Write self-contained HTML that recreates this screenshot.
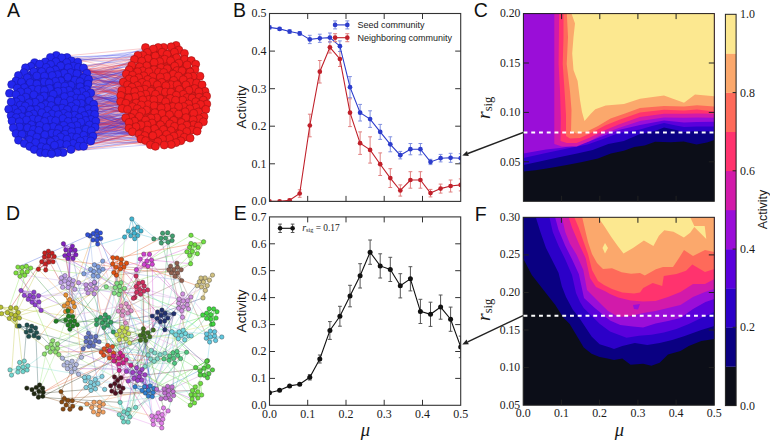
<!DOCTYPE html>
<html><head><meta charset="utf-8"><style>html,body{margin:0;padding:0;background:#fff;overflow:hidden}svg{display:block}</style></head>
<body><svg width="770" height="442" viewBox="0 0 770 442">
<rect width="770" height="442" fill="#fff"/>
<g><line x1="89.4" y1="100.7" x2="132.4" y2="131.8" stroke="#e83038" stroke-width="0.55" stroke-opacity="0.45"/><line x1="76.9" y1="73.6" x2="141.7" y2="61.0" stroke="#e83038" stroke-width="0.55" stroke-opacity="0.45"/><line x1="33.6" y1="113.9" x2="144.9" y2="89.2" stroke="#3038e8" stroke-width="0.55" stroke-opacity="0.45"/><line x1="14.3" y1="108.9" x2="177.1" y2="84.7" stroke="#e83038" stroke-width="0.55" stroke-opacity="0.45"/><line x1="34.3" y1="149.5" x2="141.6" y2="111.9" stroke="#e83038" stroke-width="0.55" stroke-opacity="0.45"/><line x1="18.4" y1="75.5" x2="159.2" y2="90.5" stroke="#3038e8" stroke-width="0.55" stroke-opacity="0.45"/><line x1="16.2" y1="117.6" x2="129.0" y2="128.2" stroke="#e83038" stroke-width="0.55" stroke-opacity="0.45"/><line x1="57.9" y1="91.4" x2="162.0" y2="52.2" stroke="#e83038" stroke-width="0.55" stroke-opacity="0.45"/><line x1="93.7" y1="104.2" x2="198.9" y2="91.7" stroke="#3038e8" stroke-width="0.55" stroke-opacity="0.45"/><line x1="38.6" y1="119.5" x2="186.0" y2="117.6" stroke="#3038e8" stroke-width="0.55" stroke-opacity="0.45"/><line x1="90.7" y1="93.0" x2="177.1" y2="84.7" stroke="#3038e8" stroke-width="0.55" stroke-opacity="0.45"/><line x1="25.2" y1="106.0" x2="152.8" y2="76.6" stroke="#e83038" stroke-width="0.55" stroke-opacity="0.45"/><line x1="20.5" y1="91.9" x2="142.9" y2="99.8" stroke="#e83038" stroke-width="0.55" stroke-opacity="0.45"/><line x1="63.7" y1="125.3" x2="161.1" y2="107.8" stroke="#e83038" stroke-width="0.55" stroke-opacity="0.45"/><line x1="38.4" y1="89.4" x2="188.5" y2="103.9" stroke="#3038e8" stroke-width="0.55" stroke-opacity="0.45"/><line x1="38.4" y1="89.4" x2="167.1" y2="54.3" stroke="#3038e8" stroke-width="0.55" stroke-opacity="0.45"/><line x1="68.8" y1="90.4" x2="137.5" y2="71.8" stroke="#e83038" stroke-width="0.55" stroke-opacity="0.45"/><line x1="64.4" y1="96.6" x2="123.3" y2="82.1" stroke="#e83038" stroke-width="0.55" stroke-opacity="0.45"/><line x1="16.0" y1="94.6" x2="131.0" y2="117.4" stroke="#3038e8" stroke-width="0.55" stroke-opacity="0.45"/><line x1="39.6" y1="64.1" x2="131.7" y2="65.4" stroke="#e83038" stroke-width="0.55" stroke-opacity="0.45"/><line x1="42.8" y1="141.6" x2="197.1" y2="131.2" stroke="#e83038" stroke-width="0.55" stroke-opacity="0.45"/><line x1="90.7" y1="93.0" x2="152.7" y2="81.8" stroke="#e83038" stroke-width="0.55" stroke-opacity="0.45"/><line x1="93.7" y1="104.2" x2="165.3" y2="92.0" stroke="#e83038" stroke-width="0.55" stroke-opacity="0.45"/><line x1="60.1" y1="143.6" x2="195.8" y2="107.3" stroke="#e83038" stroke-width="0.55" stroke-opacity="0.45"/><line x1="21.6" y1="116.7" x2="121.8" y2="90.4" stroke="#e83038" stroke-width="0.55" stroke-opacity="0.45"/><line x1="27.5" y1="127.8" x2="181.8" y2="127.8" stroke="#e83038" stroke-width="0.55" stroke-opacity="0.45"/><line x1="41.4" y1="146.8" x2="152.1" y2="123.0" stroke="#3038e8" stroke-width="0.55" stroke-opacity="0.45"/><line x1="33.6" y1="113.9" x2="205.0" y2="91.3" stroke="#e83038" stroke-width="0.55" stroke-opacity="0.45"/><line x1="55.3" y1="139.8" x2="163.5" y2="129.5" stroke="#3038e8" stroke-width="0.55" stroke-opacity="0.45"/><line x1="85.6" y1="140.0" x2="188.5" y2="103.9" stroke="#e83038" stroke-width="0.55" stroke-opacity="0.45"/><line x1="46.4" y1="127.4" x2="200.6" y2="104.4" stroke="#3038e8" stroke-width="0.55" stroke-opacity="0.45"/><line x1="9.5" y1="93.3" x2="161.0" y2="67.6" stroke="#3038e8" stroke-width="0.55" stroke-opacity="0.45"/><line x1="55.7" y1="120.7" x2="160.0" y2="98.7" stroke="#3038e8" stroke-width="0.55" stroke-opacity="0.45"/><line x1="46.6" y1="116.2" x2="142.9" y2="99.8" stroke="#e83038" stroke-width="0.55" stroke-opacity="0.45"/><line x1="20.2" y1="105.1" x2="171.2" y2="144.5" stroke="#3038e8" stroke-width="0.55" stroke-opacity="0.45"/><line x1="45.7" y1="104.6" x2="192.0" y2="98.0" stroke="#3038e8" stroke-width="0.55" stroke-opacity="0.45"/><line x1="75.6" y1="109.0" x2="127.5" y2="84.8" stroke="#e83038" stroke-width="0.55" stroke-opacity="0.45"/><line x1="35.6" y1="142.6" x2="169.5" y2="114.7" stroke="#3038e8" stroke-width="0.55" stroke-opacity="0.45"/><line x1="36.4" y1="109.5" x2="182.0" y2="70.8" stroke="#e83038" stroke-width="0.55" stroke-opacity="0.45"/><line x1="42.8" y1="141.6" x2="152.1" y2="123.0" stroke="#3038e8" stroke-width="0.55" stroke-opacity="0.45"/><line x1="83.7" y1="135.2" x2="192.0" y2="98.0" stroke="#3038e8" stroke-width="0.55" stroke-opacity="0.45"/><line x1="57.9" y1="91.4" x2="169.5" y2="114.7" stroke="#e83038" stroke-width="0.55" stroke-opacity="0.45"/><line x1="16.0" y1="133.6" x2="169.8" y2="123.9" stroke="#e83038" stroke-width="0.55" stroke-opacity="0.45"/><line x1="71.1" y1="95.1" x2="145.6" y2="120.1" stroke="#3038e8" stroke-width="0.55" stroke-opacity="0.45"/><line x1="71.0" y1="149.4" x2="154.6" y2="128.7" stroke="#e83038" stroke-width="0.55" stroke-opacity="0.45"/><line x1="76.8" y1="125.5" x2="187.0" y2="97.6" stroke="#3038e8" stroke-width="0.55" stroke-opacity="0.45"/><line x1="64.4" y1="96.6" x2="184.6" y2="59.3" stroke="#3038e8" stroke-width="0.55" stroke-opacity="0.45"/><line x1="34.6" y1="62.8" x2="134.4" y2="59.5" stroke="#e83038" stroke-width="0.55" stroke-opacity="0.45"/><line x1="57.8" y1="85.9" x2="203.3" y2="100.1" stroke="#3038e8" stroke-width="0.55" stroke-opacity="0.45"/><line x1="46.6" y1="116.2" x2="174.5" y2="126.3" stroke="#3038e8" stroke-width="0.55" stroke-opacity="0.45"/><line x1="91.3" y1="130.7" x2="183.8" y2="106.5" stroke="#3038e8" stroke-width="0.55" stroke-opacity="0.45"/><line x1="86.7" y1="73.3" x2="137.5" y2="71.8" stroke="#e83038" stroke-width="0.55" stroke-opacity="0.45"/><line x1="20.2" y1="105.1" x2="137.3" y2="85.5" stroke="#3038e8" stroke-width="0.55" stroke-opacity="0.45"/><line x1="80.9" y1="122.2" x2="165.7" y2="101.8" stroke="#e83038" stroke-width="0.55" stroke-opacity="0.45"/><line x1="29.1" y1="102.7" x2="193.5" y2="124.8" stroke="#3038e8" stroke-width="0.55" stroke-opacity="0.45"/><line x1="38.6" y1="119.5" x2="142.9" y2="99.8" stroke="#3038e8" stroke-width="0.55" stroke-opacity="0.45"/><line x1="41.8" y1="112.7" x2="176.3" y2="95.2" stroke="#e83038" stroke-width="0.55" stroke-opacity="0.45"/><line x1="16.0" y1="133.6" x2="203.4" y2="121.8" stroke="#3038e8" stroke-width="0.55" stroke-opacity="0.45"/><line x1="38.8" y1="130.4" x2="198.9" y2="91.7" stroke="#e83038" stroke-width="0.55" stroke-opacity="0.45"/><line x1="8.7" y1="109.2" x2="188.1" y2="76.8" stroke="#e83038" stroke-width="0.55" stroke-opacity="0.45"/><line x1="57.6" y1="74.6" x2="132.5" y2="75.1" stroke="#e83038" stroke-width="0.55" stroke-opacity="0.45"/><line x1="71.5" y1="60.9" x2="137.9" y2="55.4" stroke="#3038e8" stroke-width="0.55" stroke-opacity="0.45"/><line x1="60.1" y1="143.6" x2="200.6" y2="104.4" stroke="#e83038" stroke-width="0.55" stroke-opacity="0.45"/><line x1="36.8" y1="137.1" x2="125.9" y2="103.2" stroke="#3038e8" stroke-width="0.55" stroke-opacity="0.45"/><line x1="28.8" y1="115.4" x2="166.8" y2="107.5" stroke="#e83038" stroke-width="0.55" stroke-opacity="0.45"/><line x1="68.8" y1="90.4" x2="203.4" y2="121.8" stroke="#3038e8" stroke-width="0.55" stroke-opacity="0.45"/><line x1="60.8" y1="137.1" x2="160.0" y2="98.7" stroke="#3038e8" stroke-width="0.55" stroke-opacity="0.45"/><line x1="36.8" y1="137.1" x2="136.1" y2="102.9" stroke="#e83038" stroke-width="0.55" stroke-opacity="0.45"/><line x1="71.6" y1="136.8" x2="154.8" y2="112.7" stroke="#3038e8" stroke-width="0.55" stroke-opacity="0.45"/><line x1="30.6" y1="109.8" x2="165.7" y2="101.8" stroke="#e83038" stroke-width="0.55" stroke-opacity="0.45"/><line x1="11.7" y1="84.6" x2="139.4" y2="116.4" stroke="#e83038" stroke-width="0.55" stroke-opacity="0.45"/><line x1="63.7" y1="125.3" x2="128.1" y2="90.3" stroke="#e83038" stroke-width="0.55" stroke-opacity="0.45"/><line x1="58.9" y1="128.7" x2="166.6" y2="134.4" stroke="#e83038" stroke-width="0.55" stroke-opacity="0.45"/><line x1="52.0" y1="133.2" x2="155.4" y2="146.3" stroke="#e83038" stroke-width="0.55" stroke-opacity="0.45"/><line x1="46.6" y1="116.2" x2="141.3" y2="105.0" stroke="#3038e8" stroke-width="0.55" stroke-opacity="0.45"/><line x1="89.5" y1="124.9" x2="190.1" y2="138.1" stroke="#3038e8" stroke-width="0.55" stroke-opacity="0.45"/><line x1="71.0" y1="149.4" x2="169.8" y2="123.9" stroke="#3038e8" stroke-width="0.55" stroke-opacity="0.45"/><line x1="21.6" y1="116.7" x2="142.1" y2="82.4" stroke="#3038e8" stroke-width="0.55" stroke-opacity="0.45"/><line x1="46.2" y1="67.4" x2="150.8" y2="91.2" stroke="#3038e8" stroke-width="0.55" stroke-opacity="0.45"/><line x1="13.3" y1="127.8" x2="197.1" y2="131.2" stroke="#e83038" stroke-width="0.55" stroke-opacity="0.45"/><line x1="29.7" y1="146.4" x2="195.8" y2="107.3" stroke="#3038e8" stroke-width="0.55" stroke-opacity="0.45"/><line x1="51.2" y1="105.5" x2="178.6" y2="114.1" stroke="#3038e8" stroke-width="0.55" stroke-opacity="0.45"/><line x1="49.6" y1="88.4" x2="169.8" y2="123.9" stroke="#e83038" stroke-width="0.55" stroke-opacity="0.45"/><line x1="45.3" y1="61.9" x2="148.8" y2="71.8" stroke="#e83038" stroke-width="0.55" stroke-opacity="0.45"/><line x1="85.6" y1="140.0" x2="169.8" y2="123.9" stroke="#e83038" stroke-width="0.55" stroke-opacity="0.45"/><line x1="30.6" y1="109.8" x2="148.8" y2="71.8" stroke="#3038e8" stroke-width="0.55" stroke-opacity="0.45"/><line x1="70.7" y1="72.6" x2="134.7" y2="91.5" stroke="#e83038" stroke-width="0.55" stroke-opacity="0.45"/><line x1="64.9" y1="86.1" x2="173.7" y2="80.4" stroke="#3038e8" stroke-width="0.55" stroke-opacity="0.45"/><line x1="55.3" y1="139.8" x2="156.6" y2="117.8" stroke="#3038e8" stroke-width="0.55" stroke-opacity="0.45"/><line x1="55.7" y1="109.2" x2="136.0" y2="126.7" stroke="#e83038" stroke-width="0.55" stroke-opacity="0.45"/><line x1="73.2" y1="143.4" x2="169.8" y2="123.9" stroke="#3038e8" stroke-width="0.55" stroke-opacity="0.45"/><line x1="68.3" y1="67.6" x2="141.3" y2="105.0" stroke="#3038e8" stroke-width="0.55" stroke-opacity="0.45"/><line x1="29.1" y1="102.7" x2="195.8" y2="107.3" stroke="#3038e8" stroke-width="0.55" stroke-opacity="0.45"/><line x1="79.1" y1="117.5" x2="169.4" y2="138.6" stroke="#3038e8" stroke-width="0.55" stroke-opacity="0.45"/><line x1="35.6" y1="142.6" x2="173.7" y2="120.4" stroke="#e83038" stroke-width="0.55" stroke-opacity="0.45"/><line x1="30.6" y1="109.8" x2="193.7" y2="113.3" stroke="#3038e8" stroke-width="0.55" stroke-opacity="0.45"/><line x1="50.7" y1="141.7" x2="173.7" y2="120.4" stroke="#e83038" stroke-width="0.55" stroke-opacity="0.45"/><line x1="75.0" y1="80.2" x2="202.1" y2="84.8" stroke="#e83038" stroke-width="0.55" stroke-opacity="0.45"/><line x1="63.1" y1="152.5" x2="184.2" y2="137.2" stroke="#e83038" stroke-width="0.55" stroke-opacity="0.45"/><line x1="88.0" y1="84.1" x2="152.7" y2="81.8" stroke="#e83038" stroke-width="0.55" stroke-opacity="0.45"/><line x1="57.9" y1="91.4" x2="184.4" y2="53.4" stroke="#3038e8" stroke-width="0.55" stroke-opacity="0.45"/><line x1="50.6" y1="119.9" x2="193.2" y2="119.7" stroke="#e83038" stroke-width="0.55" stroke-opacity="0.45"/><line x1="80.3" y1="141.0" x2="173.7" y2="120.4" stroke="#3038e8" stroke-width="0.55" stroke-opacity="0.45"/><line x1="64.1" y1="73.2" x2="128.5" y2="97.9" stroke="#3038e8" stroke-width="0.55" stroke-opacity="0.45"/><line x1="25.8" y1="97.1" x2="146.7" y2="65.8" stroke="#e83038" stroke-width="0.55" stroke-opacity="0.45"/><line x1="66.8" y1="144.6" x2="179.6" y2="134.0" stroke="#3038e8" stroke-width="0.55" stroke-opacity="0.45"/><line x1="51.8" y1="114.0" x2="166.7" y2="76.6" stroke="#3038e8" stroke-width="0.55" stroke-opacity="0.45"/><line x1="50.6" y1="64.5" x2="196.6" y2="83.0" stroke="#3038e8" stroke-width="0.55" stroke-opacity="0.45"/><line x1="36.4" y1="109.5" x2="176.0" y2="142.6" stroke="#e83038" stroke-width="0.55" stroke-opacity="0.45"/><line x1="20.5" y1="91.9" x2="161.0" y2="67.6" stroke="#3038e8" stroke-width="0.55" stroke-opacity="0.45"/><line x1="18.5" y1="140.2" x2="173.7" y2="111.9" stroke="#e83038" stroke-width="0.55" stroke-opacity="0.45"/><line x1="21.6" y1="116.7" x2="132.0" y2="87.1" stroke="#3038e8" stroke-width="0.55" stroke-opacity="0.45"/><line x1="76.2" y1="103.5" x2="143.9" y2="75.8" stroke="#e83038" stroke-width="0.55" stroke-opacity="0.45"/><line x1="60.7" y1="65.9" x2="177.1" y2="84.7" stroke="#e83038" stroke-width="0.55" stroke-opacity="0.45"/><line x1="81.6" y1="110.7" x2="197.1" y2="131.2" stroke="#e83038" stroke-width="0.55" stroke-opacity="0.45"/><line x1="17.3" y1="88.1" x2="169.5" y2="114.7" stroke="#e83038" stroke-width="0.55" stroke-opacity="0.45"/><line x1="63.7" y1="113.3" x2="176.3" y2="95.2" stroke="#3038e8" stroke-width="0.55" stroke-opacity="0.45"/><line x1="70.7" y1="72.6" x2="205.0" y2="91.3" stroke="#3038e8" stroke-width="0.55" stroke-opacity="0.45"/><line x1="40.4" y1="152.6" x2="134.3" y2="113.3" stroke="#e83038" stroke-width="0.55" stroke-opacity="0.45"/><line x1="70.7" y1="72.6" x2="194.9" y2="69.6" stroke="#e83038" stroke-width="0.55" stroke-opacity="0.45"/><line x1="36.9" y1="83.9" x2="154.1" y2="105.7" stroke="#3038e8" stroke-width="0.55" stroke-opacity="0.45"/><line x1="90.7" y1="93.0" x2="174.7" y2="66.0" stroke="#3038e8" stroke-width="0.55" stroke-opacity="0.45"/><line x1="57.3" y1="152.6" x2="169.8" y2="123.9" stroke="#e83038" stroke-width="0.55" stroke-opacity="0.45"/><line x1="76.7" y1="137.4" x2="157.9" y2="141.7" stroke="#e83038" stroke-width="0.55" stroke-opacity="0.45"/><line x1="86.0" y1="95.3" x2="177.0" y2="70.6" stroke="#e83038" stroke-width="0.55" stroke-opacity="0.45"/><line x1="67.0" y1="57.5" x2="134.4" y2="59.5" stroke="#e83038" stroke-width="0.55" stroke-opacity="0.45"/><line x1="86.0" y1="95.3" x2="161.1" y2="107.8" stroke="#e83038" stroke-width="0.55" stroke-opacity="0.45"/><line x1="51.5" y1="153.8" x2="129.0" y2="122.4" stroke="#e83038" stroke-width="0.55" stroke-opacity="0.45"/><line x1="75.0" y1="80.2" x2="161.8" y2="82.4" stroke="#3038e8" stroke-width="0.55" stroke-opacity="0.45"/><line x1="80.3" y1="141.0" x2="190.1" y2="138.1" stroke="#3038e8" stroke-width="0.55" stroke-opacity="0.45"/><line x1="50.4" y1="57.4" x2="167.1" y2="54.3" stroke="#3038e8" stroke-width="0.55" stroke-opacity="0.45"/><line x1="38.8" y1="130.4" x2="120.6" y2="101.6" stroke="#e83038" stroke-width="0.55" stroke-opacity="0.45"/><line x1="58.9" y1="128.7" x2="153.8" y2="99.7" stroke="#e83038" stroke-width="0.55" stroke-opacity="0.45"/><line x1="8.7" y1="109.2" x2="129.1" y2="79.0" stroke="#e83038" stroke-width="0.55" stroke-opacity="0.45"/><line x1="27.6" y1="91.8" x2="152.7" y2="81.8" stroke="#e83038" stroke-width="0.55" stroke-opacity="0.45"/><line x1="17.6" y1="112.7" x2="139.1" y2="134.0" stroke="#3038e8" stroke-width="0.55" stroke-opacity="0.45"/><line x1="33.5" y1="129.5" x2="142.9" y2="99.8" stroke="#e83038" stroke-width="0.55" stroke-opacity="0.45"/><line x1="51.2" y1="105.5" x2="154.8" y2="112.7" stroke="#3038e8" stroke-width="0.55" stroke-opacity="0.45"/><line x1="71.6" y1="131.7" x2="163.5" y2="129.5" stroke="#e83038" stroke-width="0.55" stroke-opacity="0.45"/><line x1="80.9" y1="122.2" x2="196.6" y2="83.0" stroke="#e83038" stroke-width="0.55" stroke-opacity="0.45"/><line x1="26.4" y1="120.0" x2="128.5" y2="97.9" stroke="#3038e8" stroke-width="0.55" stroke-opacity="0.45"/><line x1="26.4" y1="120.0" x2="147.2" y2="130.1" stroke="#3038e8" stroke-width="0.55" stroke-opacity="0.45"/><line x1="74.4" y1="121.0" x2="142.1" y2="82.4" stroke="#3038e8" stroke-width="0.55" stroke-opacity="0.45"/><line x1="28.8" y1="115.4" x2="154.1" y2="105.7" stroke="#e83038" stroke-width="0.55" stroke-opacity="0.45"/><line x1="20.9" y1="99.1" x2="170.2" y2="98.4" stroke="#e83038" stroke-width="0.55" stroke-opacity="0.45"/><line x1="38.8" y1="130.4" x2="166.8" y2="107.5" stroke="#3038e8" stroke-width="0.55" stroke-opacity="0.45"/><line x1="46.2" y1="67.4" x2="200.6" y2="104.4" stroke="#3038e8" stroke-width="0.55" stroke-opacity="0.45"/><line x1="21.6" y1="116.7" x2="129.0" y2="122.4" stroke="#e83038" stroke-width="0.55" stroke-opacity="0.45"/><line x1="21.5" y1="82.0" x2="196.6" y2="83.0" stroke="#e83038" stroke-width="0.55" stroke-opacity="0.45"/><line x1="16.2" y1="117.6" x2="176.0" y2="142.6" stroke="#3038e8" stroke-width="0.55" stroke-opacity="0.45"/><line x1="71.6" y1="131.7" x2="188.5" y2="103.9" stroke="#e83038" stroke-width="0.55" stroke-opacity="0.45"/><line x1="89.5" y1="124.9" x2="129.0" y2="122.4" stroke="#e83038" stroke-width="0.55" stroke-opacity="0.45"/><line x1="41.8" y1="112.7" x2="139.7" y2="90.0" stroke="#3038e8" stroke-width="0.55" stroke-opacity="0.45"/><line x1="35.6" y1="142.6" x2="141.3" y2="105.0" stroke="#e83038" stroke-width="0.55" stroke-opacity="0.45"/><line x1="57.8" y1="85.9" x2="154.8" y2="112.7" stroke="#e83038" stroke-width="0.55" stroke-opacity="0.45"/><line x1="73.4" y1="66.1" x2="187.0" y2="97.6" stroke="#e83038" stroke-width="0.55" stroke-opacity="0.45"/><line x1="93.7" y1="104.2" x2="182.7" y2="100.1" stroke="#e83038" stroke-width="0.55" stroke-opacity="0.45"/><line x1="39.6" y1="64.1" x2="196.6" y2="83.0" stroke="#e83038" stroke-width="0.55" stroke-opacity="0.45"/><line x1="74.5" y1="115.1" x2="132.4" y2="106.6" stroke="#3038e8" stroke-width="0.55" stroke-opacity="0.45"/><line x1="13.3" y1="127.8" x2="198.5" y2="111.9" stroke="#3038e8" stroke-width="0.55" stroke-opacity="0.45"/><line x1="19.5" y1="127.1" x2="169.5" y2="114.7" stroke="#3038e8" stroke-width="0.55" stroke-opacity="0.45"/><line x1="50.6" y1="119.9" x2="125.9" y2="103.2" stroke="#e83038" stroke-width="0.55" stroke-opacity="0.45"/><line x1="29.3" y1="139.6" x2="166.8" y2="107.5" stroke="#e83038" stroke-width="0.55" stroke-opacity="0.45"/><line x1="13.3" y1="127.8" x2="125.7" y2="117.8" stroke="#e83038" stroke-width="0.55" stroke-opacity="0.45"/><line x1="31.5" y1="124.8" x2="186.8" y2="125.2" stroke="#3038e8" stroke-width="0.55" stroke-opacity="0.45"/><line x1="25.2" y1="106.0" x2="169.4" y2="138.6" stroke="#e83038" stroke-width="0.55" stroke-opacity="0.45"/><line x1="63.1" y1="152.5" x2="169.8" y2="123.9" stroke="#e83038" stroke-width="0.55" stroke-opacity="0.45"/><line x1="81.6" y1="110.7" x2="147.7" y2="79.5" stroke="#e83038" stroke-width="0.55" stroke-opacity="0.45"/><line x1="89.4" y1="100.7" x2="129.1" y2="69.8" stroke="#e83038" stroke-width="0.55" stroke-opacity="0.45"/><line x1="68.8" y1="90.4" x2="183.3" y2="94.3" stroke="#e83038" stroke-width="0.55" stroke-opacity="0.45"/><line x1="94.4" y1="109.3" x2="136.0" y2="126.7" stroke="#e83038" stroke-width="0.55" stroke-opacity="0.45"/><line x1="80.3" y1="141.0" x2="183.8" y2="106.5" stroke="#3038e8" stroke-width="0.55" stroke-opacity="0.45"/><line x1="29.7" y1="146.4" x2="184.2" y2="137.2" stroke="#e83038" stroke-width="0.55" stroke-opacity="0.45"/><line x1="94.4" y1="109.3" x2="173.2" y2="74.1" stroke="#e83038" stroke-width="0.55" stroke-opacity="0.45"/><line x1="57.8" y1="85.9" x2="155.5" y2="94.2" stroke="#3038e8" stroke-width="0.55" stroke-opacity="0.45"/><line x1="45.5" y1="153.1" x2="131.0" y2="117.4" stroke="#3038e8" stroke-width="0.55" stroke-opacity="0.45"/><line x1="50.4" y1="57.4" x2="132.0" y2="87.1" stroke="#e83038" stroke-width="0.55" stroke-opacity="0.45"/><line x1="78.6" y1="146.2" x2="184.2" y2="137.2" stroke="#3038e8" stroke-width="0.55" stroke-opacity="0.45"/><line x1="86.6" y1="89.7" x2="148.6" y2="99.5" stroke="#3038e8" stroke-width="0.55" stroke-opacity="0.45"/><line x1="62.1" y1="108.1" x2="183.3" y2="79.6" stroke="#3038e8" stroke-width="0.55" stroke-opacity="0.45"/><line x1="11.2" y1="102.0" x2="183.3" y2="94.3" stroke="#3038e8" stroke-width="0.55" stroke-opacity="0.45"/><line x1="39.6" y1="64.1" x2="193.1" y2="76.3" stroke="#e83038" stroke-width="0.55" stroke-opacity="0.45"/><line x1="19.4" y1="121.7" x2="165.3" y2="92.0" stroke="#e83038" stroke-width="0.55" stroke-opacity="0.45"/><line x1="30.6" y1="109.8" x2="152.1" y2="123.0" stroke="#3038e8" stroke-width="0.55" stroke-opacity="0.45"/><line x1="64.9" y1="86.1" x2="173.7" y2="120.4" stroke="#3038e8" stroke-width="0.55" stroke-opacity="0.45"/><line x1="67.0" y1="57.5" x2="190.0" y2="72.0" stroke="#3038e8" stroke-width="0.55" stroke-opacity="0.45"/><line x1="74.4" y1="121.0" x2="181.3" y2="122.5" stroke="#e83038" stroke-width="0.55" stroke-opacity="0.45"/><line x1="76.9" y1="73.6" x2="184.6" y2="59.3" stroke="#3038e8" stroke-width="0.55" stroke-opacity="0.45"/><line x1="86.7" y1="73.3" x2="174.7" y2="66.0" stroke="#3038e8" stroke-width="0.55" stroke-opacity="0.45"/><line x1="42.8" y1="141.6" x2="206.8" y2="104.1" stroke="#e83038" stroke-width="0.55" stroke-opacity="0.45"/><line x1="73.2" y1="143.4" x2="134.3" y2="113.3" stroke="#e83038" stroke-width="0.55" stroke-opacity="0.45"/><line x1="83.5" y1="67.9" x2="178.6" y2="106.6" stroke="#3038e8" stroke-width="0.55" stroke-opacity="0.45"/><line x1="92.9" y1="136.2" x2="131.0" y2="117.4" stroke="#e83038" stroke-width="0.55" stroke-opacity="0.45"/><line x1="80.0" y1="81.5" x2="136.1" y2="102.9" stroke="#e83038" stroke-width="0.55" stroke-opacity="0.45"/><line x1="45.5" y1="153.1" x2="145.6" y2="140.6" stroke="#3038e8" stroke-width="0.55" stroke-opacity="0.45"/><line x1="76.9" y1="73.6" x2="145.5" y2="47.6" stroke="#3038e8" stroke-width="0.55" stroke-opacity="0.45"/><line x1="57.3" y1="152.6" x2="169.4" y2="138.6" stroke="#e83038" stroke-width="0.55" stroke-opacity="0.45"/><line x1="77.9" y1="131.2" x2="205.0" y2="91.3" stroke="#e83038" stroke-width="0.55" stroke-opacity="0.45"/><line x1="95.1" y1="127.2" x2="157.9" y2="141.7" stroke="#3038e8" stroke-width="0.55" stroke-opacity="0.45"/><line x1="41.8" y1="112.7" x2="174.0" y2="136.1" stroke="#3038e8" stroke-width="0.55" stroke-opacity="0.45"/><line x1="79.1" y1="117.5" x2="178.6" y2="114.1" stroke="#e83038" stroke-width="0.55" stroke-opacity="0.45"/><line x1="75.6" y1="109.0" x2="136.1" y2="102.9" stroke="#e83038" stroke-width="0.55" stroke-opacity="0.45"/><line x1="45.3" y1="61.9" x2="165.9" y2="85.7" stroke="#e83038" stroke-width="0.55" stroke-opacity="0.45"/><line x1="44.3" y1="90.3" x2="156.6" y2="117.8" stroke="#3038e8" stroke-width="0.55" stroke-opacity="0.45"/><line x1="16.0" y1="94.6" x2="186.0" y2="117.6" stroke="#e83038" stroke-width="0.55" stroke-opacity="0.45"/><line x1="27.3" y1="77.7" x2="193.1" y2="76.3" stroke="#e83038" stroke-width="0.55" stroke-opacity="0.45"/><line x1="88.0" y1="84.1" x2="134.1" y2="79.9" stroke="#3038e8" stroke-width="0.55" stroke-opacity="0.45"/><line x1="62.1" y1="108.1" x2="196.6" y2="83.0" stroke="#3038e8" stroke-width="0.55" stroke-opacity="0.45"/><line x1="89.5" y1="113.9" x2="169.4" y2="138.6" stroke="#3038e8" stroke-width="0.55" stroke-opacity="0.45"/><line x1="83.6" y1="77.9" x2="165.3" y2="92.0" stroke="#3038e8" stroke-width="0.55" stroke-opacity="0.45"/><line x1="41.7" y1="71.6" x2="127.5" y2="109.4" stroke="#e83038" stroke-width="0.55" stroke-opacity="0.45"/><line x1="45.5" y1="153.1" x2="162.5" y2="139.0" stroke="#3038e8" stroke-width="0.55" stroke-opacity="0.45"/><line x1="11.7" y1="84.6" x2="125.9" y2="103.2" stroke="#3038e8" stroke-width="0.55" stroke-opacity="0.45"/><line x1="80.0" y1="81.5" x2="184.4" y2="53.4" stroke="#e83038" stroke-width="0.55" stroke-opacity="0.45"/><line x1="71.6" y1="131.7" x2="139.1" y2="134.0" stroke="#e83038" stroke-width="0.55" stroke-opacity="0.45"/><line x1="66.8" y1="62.8" x2="176.1" y2="45.4" stroke="#3038e8" stroke-width="0.55" stroke-opacity="0.45"/><line x1="34.3" y1="149.5" x2="203.4" y2="121.8" stroke="#e83038" stroke-width="0.55" stroke-opacity="0.45"/><line x1="24.4" y1="87.6" x2="136.0" y2="126.7" stroke="#3038e8" stroke-width="0.55" stroke-opacity="0.45"/><line x1="92.9" y1="136.2" x2="152.8" y2="135.7" stroke="#e83038" stroke-width="0.55" stroke-opacity="0.45"/><line x1="55.4" y1="81.3" x2="120.8" y2="95.4" stroke="#e83038" stroke-width="0.55" stroke-opacity="0.45"/><line x1="16.0" y1="94.6" x2="194.6" y2="88.5" stroke="#e83038" stroke-width="0.55" stroke-opacity="0.45"/><line x1="39.6" y1="64.1" x2="132.0" y2="87.1" stroke="#e83038" stroke-width="0.55" stroke-opacity="0.45"/><line x1="67.0" y1="57.5" x2="173.7" y2="80.4" stroke="#e83038" stroke-width="0.55" stroke-opacity="0.45"/><line x1="11.1" y1="115.7" x2="195.8" y2="107.3" stroke="#3038e8" stroke-width="0.55" stroke-opacity="0.45"/><line x1="11.7" y1="84.6" x2="144.9" y2="89.2" stroke="#3038e8" stroke-width="0.55" stroke-opacity="0.45"/><line x1="89.5" y1="113.9" x2="134.4" y2="121.2" stroke="#3038e8" stroke-width="0.55" stroke-opacity="0.45"/><line x1="73.2" y1="143.4" x2="180.8" y2="140.8" stroke="#3038e8" stroke-width="0.55" stroke-opacity="0.45"/><line x1="34.3" y1="149.5" x2="134.4" y2="121.2" stroke="#3038e8" stroke-width="0.55" stroke-opacity="0.45"/><line x1="64.0" y1="102.9" x2="140.5" y2="95.3" stroke="#e83038" stroke-width="0.55" stroke-opacity="0.45"/><line x1="83.6" y1="77.9" x2="129.1" y2="69.8" stroke="#3038e8" stroke-width="0.55" stroke-opacity="0.45"/><line x1="44.1" y1="95.9" x2="141.3" y2="105.0" stroke="#3038e8" stroke-width="0.55" stroke-opacity="0.45"/><line x1="57.1" y1="133.6" x2="162.5" y2="139.0" stroke="#e83038" stroke-width="0.55" stroke-opacity="0.45"/><line x1="64.1" y1="73.2" x2="160.3" y2="77.1" stroke="#3038e8" stroke-width="0.55" stroke-opacity="0.45"/><line x1="76.6" y1="92.6" x2="126.3" y2="74.0" stroke="#3038e8" stroke-width="0.55" stroke-opacity="0.45"/><line x1="73.4" y1="66.1" x2="157.3" y2="84.8" stroke="#e83038" stroke-width="0.55" stroke-opacity="0.45"/><line x1="50.6" y1="119.9" x2="182.7" y2="100.1" stroke="#e83038" stroke-width="0.55" stroke-opacity="0.45"/><line x1="70.7" y1="72.6" x2="165.3" y2="92.0" stroke="#3038e8" stroke-width="0.55" stroke-opacity="0.45"/><line x1="28.8" y1="115.4" x2="198.4" y2="126.0" stroke="#e83038" stroke-width="0.55" stroke-opacity="0.45"/><line x1="32.8" y1="119.0" x2="171.1" y2="130.5" stroke="#e83038" stroke-width="0.55" stroke-opacity="0.45"/><line x1="36.8" y1="75.9" x2="174.4" y2="52.2" stroke="#e83038" stroke-width="0.55" stroke-opacity="0.45"/><line x1="76.8" y1="125.5" x2="122.2" y2="108.4" stroke="#e83038" stroke-width="0.55" stroke-opacity="0.45"/><line x1="11.2" y1="102.0" x2="192.0" y2="98.0" stroke="#3038e8" stroke-width="0.55" stroke-opacity="0.45"/><line x1="27.3" y1="77.7" x2="142.9" y2="55.3" stroke="#3038e8" stroke-width="0.55" stroke-opacity="0.45"/><line x1="24.4" y1="87.6" x2="155.3" y2="55.9" stroke="#3038e8" stroke-width="0.55" stroke-opacity="0.45"/><line x1="67.9" y1="77.3" x2="174.4" y2="52.2" stroke="#e83038" stroke-width="0.55" stroke-opacity="0.45"/><line x1="54.5" y1="145.2" x2="154.8" y2="112.7" stroke="#e83038" stroke-width="0.55" stroke-opacity="0.45"/><line x1="64.4" y1="96.6" x2="203.3" y2="100.1" stroke="#3038e8" stroke-width="0.55" stroke-opacity="0.45"/><line x1="90.8" y1="140.9" x2="197.1" y2="131.2" stroke="#3038e8" stroke-width="0.55" stroke-opacity="0.45"/><line x1="26.4" y1="120.0" x2="159.2" y2="90.5" stroke="#e83038" stroke-width="0.55" stroke-opacity="0.45"/><line x1="25.2" y1="106.0" x2="148.8" y2="71.8" stroke="#3038e8" stroke-width="0.55" stroke-opacity="0.45"/><line x1="76.9" y1="73.6" x2="195.8" y2="107.3" stroke="#e83038" stroke-width="0.55" stroke-opacity="0.45"/><line x1="16.0" y1="133.6" x2="179.6" y2="134.0" stroke="#3038e8" stroke-width="0.55" stroke-opacity="0.45"/><line x1="18.5" y1="140.2" x2="200.6" y2="104.4" stroke="#3038e8" stroke-width="0.55" stroke-opacity="0.45"/><line x1="76.9" y1="73.6" x2="146.5" y2="110.1" stroke="#e83038" stroke-width="0.55" stroke-opacity="0.45"/><line x1="32.1" y1="89.2" x2="186.0" y2="84.9" stroke="#3038e8" stroke-width="0.55" stroke-opacity="0.45"/><line x1="46.4" y1="127.4" x2="173.7" y2="120.4" stroke="#e83038" stroke-width="0.55" stroke-opacity="0.45"/><line x1="64.0" y1="102.9" x2="146.5" y2="110.1" stroke="#e83038" stroke-width="0.55" stroke-opacity="0.45"/><line x1="83.7" y1="135.2" x2="204.0" y2="116.7" stroke="#e83038" stroke-width="0.55" stroke-opacity="0.45"/><line x1="55.4" y1="81.3" x2="205.0" y2="91.3" stroke="#3038e8" stroke-width="0.55" stroke-opacity="0.45"/><line x1="46.4" y1="127.4" x2="129.0" y2="128.2" stroke="#3038e8" stroke-width="0.55" stroke-opacity="0.45"/><line x1="44.5" y1="121.4" x2="186.8" y2="125.2" stroke="#e83038" stroke-width="0.55" stroke-opacity="0.45"/><line x1="17.3" y1="88.1" x2="205.8" y2="109.4" stroke="#3038e8" stroke-width="0.55" stroke-opacity="0.45"/><line x1="31.0" y1="66.3" x2="176.3" y2="95.2" stroke="#3038e8" stroke-width="0.55" stroke-opacity="0.45"/><line x1="81.9" y1="91.6" x2="154.8" y2="112.7" stroke="#3038e8" stroke-width="0.55" stroke-opacity="0.45"/><line x1="67.9" y1="77.3" x2="176.6" y2="57.7" stroke="#3038e8" stroke-width="0.55" stroke-opacity="0.45"/><line x1="29.7" y1="146.4" x2="134.3" y2="113.3" stroke="#3038e8" stroke-width="0.55" stroke-opacity="0.45"/><line x1="76.7" y1="137.4" x2="145.6" y2="120.1" stroke="#3038e8" stroke-width="0.55" stroke-opacity="0.45"/><line x1="45.5" y1="153.1" x2="176.0" y2="142.6" stroke="#3038e8" stroke-width="0.55" stroke-opacity="0.45"/><line x1="34.6" y1="62.8" x2="183.3" y2="79.6" stroke="#e83038" stroke-width="0.55" stroke-opacity="0.45"/><line x1="55.7" y1="109.2" x2="137.3" y2="108.7" stroke="#3038e8" stroke-width="0.55" stroke-opacity="0.45"/><line x1="58.4" y1="114.7" x2="165.7" y2="101.8" stroke="#e83038" stroke-width="0.55" stroke-opacity="0.45"/><line x1="63.2" y1="91.0" x2="148.6" y2="99.5" stroke="#3038e8" stroke-width="0.55" stroke-opacity="0.45"/><line x1="71.2" y1="126.4" x2="151.0" y2="118.0" stroke="#3038e8" stroke-width="0.55" stroke-opacity="0.45"/><line x1="53.2" y1="94.2" x2="132.4" y2="131.8" stroke="#e83038" stroke-width="0.55" stroke-opacity="0.45"/><line x1="51.5" y1="153.8" x2="152.8" y2="135.7" stroke="#e83038" stroke-width="0.55" stroke-opacity="0.45"/><line x1="81.4" y1="98.2" x2="139.6" y2="66.8" stroke="#e83038" stroke-width="0.55" stroke-opacity="0.45"/><line x1="55.3" y1="139.8" x2="184.2" y2="137.2" stroke="#3038e8" stroke-width="0.55" stroke-opacity="0.45"/><line x1="83.5" y1="67.9" x2="120.8" y2="95.4" stroke="#3038e8" stroke-width="0.55" stroke-opacity="0.45"/><line x1="90.8" y1="140.9" x2="181.3" y2="122.5" stroke="#3038e8" stroke-width="0.55" stroke-opacity="0.45"/><line x1="13.3" y1="127.8" x2="134.7" y2="91.5" stroke="#3038e8" stroke-width="0.55" stroke-opacity="0.45"/><line x1="44.1" y1="95.9" x2="152.8" y2="135.7" stroke="#3038e8" stroke-width="0.55" stroke-opacity="0.45"/><line x1="50.2" y1="70.9" x2="167.1" y2="54.3" stroke="#3038e8" stroke-width="0.55" stroke-opacity="0.45"/><line x1="92.9" y1="136.2" x2="141.3" y2="105.0" stroke="#e83038" stroke-width="0.55" stroke-opacity="0.45"/><line x1="58.3" y1="100.9" x2="174.0" y2="136.1" stroke="#3038e8" stroke-width="0.55" stroke-opacity="0.45"/><line x1="62.1" y1="108.1" x2="144.8" y2="135.6" stroke="#e83038" stroke-width="0.55" stroke-opacity="0.45"/><line x1="24.3" y1="143.5" x2="176.0" y2="142.6" stroke="#e83038" stroke-width="0.55" stroke-opacity="0.45"/><line x1="86.0" y1="95.3" x2="166.8" y2="107.5" stroke="#e83038" stroke-width="0.55" stroke-opacity="0.45"/><line x1="12.0" y1="121.0" x2="181.8" y2="127.8" stroke="#e83038" stroke-width="0.55" stroke-opacity="0.45"/><line x1="68.2" y1="115.6" x2="178.6" y2="106.6" stroke="#3038e8" stroke-width="0.55" stroke-opacity="0.45"/><line x1="55.4" y1="81.3" x2="161.8" y2="82.4" stroke="#3038e8" stroke-width="0.55" stroke-opacity="0.45"/><line x1="60.8" y1="137.1" x2="182.7" y2="100.1" stroke="#e83038" stroke-width="0.55" stroke-opacity="0.45"/><line x1="56.3" y1="55.4" x2="134.7" y2="91.5" stroke="#e83038" stroke-width="0.55" stroke-opacity="0.45"/><line x1="11.2" y1="102.0" x2="198.4" y2="126.0" stroke="#3038e8" stroke-width="0.55" stroke-opacity="0.45"/><line x1="41.0" y1="106.5" x2="158.5" y2="72.0" stroke="#e83038" stroke-width="0.55" stroke-opacity="0.45"/><line x1="50.4" y1="57.4" x2="176.1" y2="45.4" stroke="#e83038" stroke-width="0.55" stroke-opacity="0.45"/><line x1="61.8" y1="57.8" x2="174.4" y2="52.2" stroke="#3038e8" stroke-width="0.55" stroke-opacity="0.45"/><line x1="28.8" y1="115.4" x2="162.5" y2="139.0" stroke="#e83038" stroke-width="0.55" stroke-opacity="0.45"/><line x1="64.1" y1="73.2" x2="146.8" y2="84.6" stroke="#3038e8" stroke-width="0.55" stroke-opacity="0.45"/><line x1="86.0" y1="95.3" x2="129.1" y2="69.8" stroke="#3038e8" stroke-width="0.55" stroke-opacity="0.45"/><line x1="76.9" y1="73.6" x2="178.5" y2="76.0" stroke="#3038e8" stroke-width="0.55" stroke-opacity="0.45"/><line x1="63.1" y1="152.5" x2="169.8" y2="123.9" stroke="#e83038" stroke-width="0.55" stroke-opacity="0.45"/><line x1="51.5" y1="153.8" x2="134.4" y2="121.2" stroke="#e83038" stroke-width="0.55" stroke-opacity="0.45"/><line x1="83.6" y1="77.9" x2="137.3" y2="108.7" stroke="#3038e8" stroke-width="0.55" stroke-opacity="0.45"/><line x1="36.8" y1="137.1" x2="193.7" y2="113.3" stroke="#3038e8" stroke-width="0.55" stroke-opacity="0.45"/><line x1="64.1" y1="73.2" x2="136.1" y2="102.9" stroke="#e83038" stroke-width="0.55" stroke-opacity="0.45"/><line x1="29.3" y1="139.6" x2="137.3" y2="108.7" stroke="#e83038" stroke-width="0.55" stroke-opacity="0.45"/><line x1="83.6" y1="77.9" x2="187.1" y2="64.9" stroke="#3038e8" stroke-width="0.55" stroke-opacity="0.45"/><line x1="66.9" y1="139.2" x2="178.6" y2="114.1" stroke="#e83038" stroke-width="0.55" stroke-opacity="0.45"/><line x1="23.9" y1="72.7" x2="179.4" y2="89.5" stroke="#e83038" stroke-width="0.55" stroke-opacity="0.45"/><line x1="53.4" y1="126.7" x2="203.4" y2="121.8" stroke="#e83038" stroke-width="0.55" stroke-opacity="0.45"/><line x1="73.4" y1="66.1" x2="159.2" y2="90.5" stroke="#3038e8" stroke-width="0.55" stroke-opacity="0.45"/><line x1="67.3" y1="109.5" x2="129.1" y2="69.8" stroke="#3038e8" stroke-width="0.55" stroke-opacity="0.45"/><line x1="83.6" y1="77.9" x2="160.3" y2="77.1" stroke="#e83038" stroke-width="0.55" stroke-opacity="0.45"/><line x1="41.7" y1="71.6" x2="148.8" y2="71.8" stroke="#e83038" stroke-width="0.55" stroke-opacity="0.45"/><line x1="94.4" y1="109.3" x2="200.0" y2="76.2" stroke="#3038e8" stroke-width="0.55" stroke-opacity="0.45"/><line x1="63.1" y1="152.5" x2="173.7" y2="120.4" stroke="#e83038" stroke-width="0.55" stroke-opacity="0.45"/><line x1="66.6" y1="129.5" x2="145.6" y2="140.6" stroke="#3038e8" stroke-width="0.55" stroke-opacity="0.45"/><line x1="11.2" y1="102.0" x2="144.9" y2="89.2" stroke="#e83038" stroke-width="0.55" stroke-opacity="0.45"/><line x1="62.9" y1="118.5" x2="195.8" y2="101.7" stroke="#e83038" stroke-width="0.55" stroke-opacity="0.45"/><line x1="16.0" y1="80.9" x2="121.8" y2="90.4" stroke="#3038e8" stroke-width="0.55" stroke-opacity="0.45"/><line x1="16.0" y1="133.6" x2="173.7" y2="111.9" stroke="#e83038" stroke-width="0.55" stroke-opacity="0.45"/><line x1="36.8" y1="75.9" x2="127.5" y2="109.4" stroke="#e83038" stroke-width="0.55" stroke-opacity="0.45"/><line x1="30.2" y1="82.6" x2="134.4" y2="59.5" stroke="#e83038" stroke-width="0.55" stroke-opacity="0.45"/><line x1="21.9" y1="109.9" x2="188.5" y2="103.9" stroke="#3038e8" stroke-width="0.55" stroke-opacity="0.45"/><line x1="11.2" y1="102.0" x2="169.4" y2="138.6" stroke="#e83038" stroke-width="0.55" stroke-opacity="0.45"/><line x1="83.6" y1="146.2" x2="140.9" y2="125.1" stroke="#3038e8" stroke-width="0.55" stroke-opacity="0.45"/><line x1="77.9" y1="131.2" x2="150.4" y2="144.8" stroke="#e83038" stroke-width="0.55" stroke-opacity="0.45"/><line x1="27.5" y1="127.8" x2="146.5" y2="110.1" stroke="#3038e8" stroke-width="0.55" stroke-opacity="0.45"/><line x1="80.9" y1="122.2" x2="160.4" y2="124.8" stroke="#3038e8" stroke-width="0.55" stroke-opacity="0.45"/><line x1="91.0" y1="119.5" x2="134.3" y2="113.3" stroke="#3038e8" stroke-width="0.55" stroke-opacity="0.45"/><line x1="50.6" y1="119.9" x2="132.0" y2="87.1" stroke="#e83038" stroke-width="0.55" stroke-opacity="0.45"/><line x1="36.8" y1="75.9" x2="187.1" y2="64.9" stroke="#e83038" stroke-width="0.55" stroke-opacity="0.45"/><line x1="78.4" y1="67.3" x2="206.8" y2="104.1" stroke="#e83038" stroke-width="0.55" stroke-opacity="0.45"/><line x1="73.4" y1="66.1" x2="148.0" y2="104.6" stroke="#3038e8" stroke-width="0.55" stroke-opacity="0.45"/><line x1="11.7" y1="84.6" x2="176.1" y2="45.4" stroke="#e83038" stroke-width="0.55" stroke-opacity="0.45"/><line x1="55.3" y1="139.8" x2="188.5" y2="103.9" stroke="#3038e8" stroke-width="0.55" stroke-opacity="0.45"/><line x1="46.6" y1="116.2" x2="184.2" y2="137.2" stroke="#3038e8" stroke-width="0.55" stroke-opacity="0.45"/><line x1="81.4" y1="98.2" x2="173.2" y2="74.1" stroke="#e83038" stroke-width="0.55" stroke-opacity="0.45"/><line x1="90.7" y1="93.0" x2="174.5" y2="126.3" stroke="#3038e8" stroke-width="0.55" stroke-opacity="0.45"/><line x1="89.5" y1="124.9" x2="183.3" y2="94.3" stroke="#e83038" stroke-width="0.55" stroke-opacity="0.45"/><line x1="27.3" y1="77.7" x2="176.6" y2="57.7" stroke="#e83038" stroke-width="0.55" stroke-opacity="0.45"/><line x1="50.7" y1="141.7" x2="122.2" y2="108.4" stroke="#3038e8" stroke-width="0.55" stroke-opacity="0.45"/><line x1="62.9" y1="118.5" x2="144.8" y2="135.6" stroke="#e83038" stroke-width="0.55" stroke-opacity="0.45"/><line x1="71.6" y1="131.7" x2="141.6" y2="111.9" stroke="#3038e8" stroke-width="0.55" stroke-opacity="0.45"/><line x1="51.5" y1="153.8" x2="139.4" y2="116.4" stroke="#3038e8" stroke-width="0.55" stroke-opacity="0.45"/><line x1="46.2" y1="67.4" x2="143.9" y2="75.8" stroke="#3038e8" stroke-width="0.55" stroke-opacity="0.45"/><line x1="21.5" y1="82.0" x2="161.8" y2="82.4" stroke="#e83038" stroke-width="0.55" stroke-opacity="0.45"/><line x1="74.4" y1="121.0" x2="132.4" y2="106.6" stroke="#e83038" stroke-width="0.55" stroke-opacity="0.45"/><line x1="71.0" y1="149.4" x2="151.0" y2="118.0" stroke="#e83038" stroke-width="0.55" stroke-opacity="0.45"/><line x1="64.9" y1="86.1" x2="134.4" y2="59.5" stroke="#e83038" stroke-width="0.55" stroke-opacity="0.45"/><line x1="67.9" y1="77.3" x2="148.0" y2="104.6" stroke="#e83038" stroke-width="0.55" stroke-opacity="0.45"/><line x1="81.9" y1="91.6" x2="183.3" y2="79.6" stroke="#e83038" stroke-width="0.55" stroke-opacity="0.45"/><line x1="80.2" y1="86.7" x2="147.3" y2="52.5" stroke="#3038e8" stroke-width="0.55" stroke-opacity="0.45"/><line x1="60.8" y1="80.9" x2="142.9" y2="99.8" stroke="#e83038" stroke-width="0.55" stroke-opacity="0.45"/><line x1="55.7" y1="109.2" x2="162.1" y2="113.5" stroke="#e83038" stroke-width="0.55" stroke-opacity="0.45"/><line x1="57.9" y1="91.4" x2="172.8" y2="106.5" stroke="#3038e8" stroke-width="0.55" stroke-opacity="0.45"/><line x1="63.2" y1="91.0" x2="169.8" y2="123.9" stroke="#3038e8" stroke-width="0.55" stroke-opacity="0.45"/><line x1="46.4" y1="127.4" x2="173.7" y2="120.4" stroke="#e83038" stroke-width="0.55" stroke-opacity="0.45"/><line x1="18.5" y1="140.2" x2="200.6" y2="104.4" stroke="#e83038" stroke-width="0.55" stroke-opacity="0.45"/><line x1="88.5" y1="79.2" x2="179.4" y2="89.5" stroke="#3038e8" stroke-width="0.55" stroke-opacity="0.45"/><line x1="34.6" y1="62.8" x2="152.7" y2="81.8" stroke="#e83038" stroke-width="0.55" stroke-opacity="0.45"/><line x1="25.8" y1="97.1" x2="195.8" y2="101.7" stroke="#3038e8" stroke-width="0.55" stroke-opacity="0.45"/><line x1="64.9" y1="134.2" x2="186.7" y2="131.6" stroke="#3038e8" stroke-width="0.55" stroke-opacity="0.45"/><line x1="42.8" y1="141.6" x2="186.8" y2="125.2" stroke="#e83038" stroke-width="0.55" stroke-opacity="0.45"/><line x1="94.7" y1="114.4" x2="174.0" y2="136.1" stroke="#3038e8" stroke-width="0.55" stroke-opacity="0.45"/><line x1="88.0" y1="84.1" x2="169.8" y2="123.9" stroke="#3038e8" stroke-width="0.55" stroke-opacity="0.45"/><line x1="68.2" y1="121.4" x2="196.6" y2="83.0" stroke="#3038e8" stroke-width="0.55" stroke-opacity="0.45"/><line x1="20.5" y1="91.9" x2="147.9" y2="58.5" stroke="#e83038" stroke-width="0.55" stroke-opacity="0.45"/><line x1="68.8" y1="90.4" x2="139.6" y2="66.8" stroke="#e83038" stroke-width="0.55" stroke-opacity="0.45"/><line x1="47.5" y1="110.3" x2="134.4" y2="121.2" stroke="#e83038" stroke-width="0.55" stroke-opacity="0.45"/><line x1="80.0" y1="81.5" x2="171.1" y2="46.8" stroke="#e83038" stroke-width="0.55" stroke-opacity="0.45"/><line x1="42.8" y1="141.6" x2="199.2" y2="118.8" stroke="#3038e8" stroke-width="0.55" stroke-opacity="0.45"/><line x1="81.4" y1="98.2" x2="139.6" y2="66.8" stroke="#3038e8" stroke-width="0.55" stroke-opacity="0.45"/><line x1="11.2" y1="102.0" x2="129.1" y2="69.8" stroke="#3038e8" stroke-width="0.55" stroke-opacity="0.45"/><line x1="76.2" y1="103.5" x2="122.2" y2="108.4" stroke="#e83038" stroke-width="0.55" stroke-opacity="0.45"/><line x1="90.8" y1="140.9" x2="166.6" y2="134.4" stroke="#e83038" stroke-width="0.55" stroke-opacity="0.45"/><line x1="76.9" y1="73.6" x2="195.7" y2="64.2" stroke="#e83038" stroke-width="0.55" stroke-opacity="0.45"/><line x1="92.9" y1="136.2" x2="141.3" y2="105.0" stroke="#3038e8" stroke-width="0.55" stroke-opacity="0.45"/><line x1="83.7" y1="135.2" x2="181.8" y2="127.8" stroke="#3038e8" stroke-width="0.55" stroke-opacity="0.45"/><line x1="80.3" y1="141.0" x2="139.4" y2="116.4" stroke="#3038e8" stroke-width="0.55" stroke-opacity="0.45"/><line x1="20.2" y1="105.1" x2="162.1" y2="113.5" stroke="#3038e8" stroke-width="0.55" stroke-opacity="0.45"/><line x1="67.0" y1="57.5" x2="128.1" y2="90.3" stroke="#e83038" stroke-width="0.55" stroke-opacity="0.45"/><line x1="83.7" y1="135.2" x2="171.1" y2="130.5" stroke="#3038e8" stroke-width="0.55" stroke-opacity="0.45"/><line x1="11.2" y1="102.0" x2="154.8" y2="112.7" stroke="#e83038" stroke-width="0.55" stroke-opacity="0.45"/><line x1="39.6" y1="64.1" x2="171.1" y2="46.8" stroke="#3038e8" stroke-width="0.55" stroke-opacity="0.45"/><line x1="33.8" y1="94.8" x2="166.6" y2="134.4" stroke="#e83038" stroke-width="0.55" stroke-opacity="0.45"/><line x1="58.3" y1="100.9" x2="195.8" y2="101.7" stroke="#3038e8" stroke-width="0.55" stroke-opacity="0.45"/><line x1="34.6" y1="62.8" x2="134.1" y2="79.9" stroke="#e83038" stroke-width="0.55" stroke-opacity="0.45"/><line x1="58.4" y1="114.7" x2="173.7" y2="120.4" stroke="#3038e8" stroke-width="0.55" stroke-opacity="0.45"/><line x1="21.9" y1="109.9" x2="142.7" y2="70.8" stroke="#3038e8" stroke-width="0.55" stroke-opacity="0.45"/><line x1="11.2" y1="102.0" x2="129.1" y2="69.8" stroke="#3038e8" stroke-width="0.55" stroke-opacity="0.45"/><line x1="46.4" y1="147.9" x2="164.8" y2="119.8" stroke="#3038e8" stroke-width="0.55" stroke-opacity="0.45"/><line x1="16.0" y1="94.6" x2="142.9" y2="99.8" stroke="#3038e8" stroke-width="0.55" stroke-opacity="0.45"/><line x1="55.9" y1="61.6" x2="155.3" y2="55.9" stroke="#e83038" stroke-width="0.55" stroke-opacity="0.45"/><line x1="33.8" y1="94.8" x2="161.1" y2="107.8" stroke="#e83038" stroke-width="0.55" stroke-opacity="0.45"/><line x1="20.9" y1="99.1" x2="189.9" y2="108.8" stroke="#3038e8" stroke-width="0.55" stroke-opacity="0.45"/><line x1="9.5" y1="93.3" x2="136.0" y2="126.7" stroke="#3038e8" stroke-width="0.55" stroke-opacity="0.45"/><line x1="40.0" y1="98.8" x2="195.8" y2="101.7" stroke="#3038e8" stroke-width="0.55" stroke-opacity="0.45"/><line x1="24.4" y1="87.6" x2="146.7" y2="65.8" stroke="#e83038" stroke-width="0.55" stroke-opacity="0.45"/><line x1="58.3" y1="100.9" x2="193.5" y2="124.8" stroke="#e83038" stroke-width="0.55" stroke-opacity="0.45"/><line x1="63.2" y1="91.0" x2="178.5" y2="76.0" stroke="#e83038" stroke-width="0.55" stroke-opacity="0.45"/><line x1="70.7" y1="72.6" x2="128.5" y2="97.9" stroke="#3038e8" stroke-width="0.55" stroke-opacity="0.45"/><line x1="55.3" y1="139.8" x2="171.1" y2="130.5" stroke="#3038e8" stroke-width="0.55" stroke-opacity="0.45"/><line x1="45.3" y1="61.9" x2="184.4" y2="53.4" stroke="#3038e8" stroke-width="0.55" stroke-opacity="0.45"/><line x1="89.4" y1="100.7" x2="142.1" y2="82.4" stroke="#e83038" stroke-width="0.55" stroke-opacity="0.45"/><line x1="29.3" y1="139.6" x2="127.5" y2="109.4" stroke="#e83038" stroke-width="0.55" stroke-opacity="0.45"/><line x1="67.3" y1="109.5" x2="137.3" y2="85.5" stroke="#e83038" stroke-width="0.55" stroke-opacity="0.45"/><line x1="77.9" y1="131.2" x2="172.8" y2="106.5" stroke="#3038e8" stroke-width="0.55" stroke-opacity="0.45"/><line x1="17.3" y1="88.1" x2="173.2" y2="74.1" stroke="#e83038" stroke-width="0.55" stroke-opacity="0.45"/><line x1="67.3" y1="109.5" x2="175.5" y2="100.2" stroke="#3038e8" stroke-width="0.55" stroke-opacity="0.45"/><line x1="57.6" y1="74.6" x2="190.3" y2="82.0" stroke="#3038e8" stroke-width="0.55" stroke-opacity="0.45"/><line x1="16.2" y1="117.6" x2="180.8" y2="140.8" stroke="#3038e8" stroke-width="0.55" stroke-opacity="0.45"/><line x1="85.6" y1="120.4" x2="127.5" y2="109.4" stroke="#3038e8" stroke-width="0.55" stroke-opacity="0.45"/><line x1="26.4" y1="120.0" x2="198.4" y2="126.0" stroke="#3038e8" stroke-width="0.55" stroke-opacity="0.45"/><line x1="57.6" y1="74.6" x2="127.5" y2="109.4" stroke="#3038e8" stroke-width="0.55" stroke-opacity="0.45"/><line x1="86.0" y1="129.3" x2="158.3" y2="133.5" stroke="#3038e8" stroke-width="0.55" stroke-opacity="0.45"/><line x1="53.4" y1="126.7" x2="186.0" y2="117.6" stroke="#e83038" stroke-width="0.55" stroke-opacity="0.45"/><line x1="75.0" y1="80.2" x2="170.2" y2="98.4" stroke="#e83038" stroke-width="0.55" stroke-opacity="0.45"/><line x1="13.3" y1="127.8" x2="146.5" y2="110.1" stroke="#3038e8" stroke-width="0.55" stroke-opacity="0.45"/><line x1="45.3" y1="61.9" x2="187.0" y2="97.6" stroke="#3038e8" stroke-width="0.55" stroke-opacity="0.45"/></g>
<polygon points="55.3,59.4 76.8,63.7 83.7,74.9 88.0,92.1 91.4,107.5 92.3,122.2 90.6,135.1 78.5,144.5 55.3,150.5 38.1,148.0 20.1,136.8 11.5,109.3 14.9,87.8 25.2,73.1 38.1,66.3" fill="#2024d8"/>
<polygon points="148.2,50.8 174.0,49.9 192.9,68.0 203.3,99.8 199.8,121.3 186.1,135.9 168.9,141.1 151.7,141.9 132.7,127.3 123.3,99.8 127.6,80.9 134.5,65.4" fill="#d81a1a"/>
<g fill="#2226ee" stroke="#1818a8" stroke-width="0.6"><circle cx="56.3" cy="55.4" r="4.0"/><circle cx="50.4" cy="57.4" r="4.0"/><circle cx="67.0" cy="57.5" r="4.0"/><circle cx="61.8" cy="57.8" r="4.0"/><circle cx="71.5" cy="60.9" r="4.0"/><circle cx="55.9" cy="61.6" r="4.0"/><circle cx="45.3" cy="61.9" r="4.0"/><circle cx="77.8" cy="62.2" r="4.0"/><circle cx="34.6" cy="62.8" r="4.0"/><circle cx="66.8" cy="62.8" r="4.0"/><circle cx="39.6" cy="64.1" r="4.0"/><circle cx="50.6" cy="64.5" r="4.0"/><circle cx="60.7" cy="65.9" r="4.0"/><circle cx="73.4" cy="66.1" r="4.0"/><circle cx="31.0" cy="66.3" r="4.0"/><circle cx="78.4" cy="67.3" r="4.0"/><circle cx="46.2" cy="67.4" r="4.0"/><circle cx="68.3" cy="67.6" r="4.0"/><circle cx="25.5" cy="67.8" r="4.0"/><circle cx="83.5" cy="67.9" r="4.0"/><circle cx="55.3" cy="69.8" r="4.0"/><circle cx="50.2" cy="70.9" r="4.0"/><circle cx="33.8" cy="71.6" r="4.0"/><circle cx="41.7" cy="71.6" r="4.0"/><circle cx="70.7" cy="72.6" r="4.0"/><circle cx="23.9" cy="72.7" r="4.0"/><circle cx="64.1" cy="73.2" r="4.0"/><circle cx="86.7" cy="73.3" r="4.0"/><circle cx="76.9" cy="73.6" r="4.0"/><circle cx="57.6" cy="74.6" r="4.0"/><circle cx="18.4" cy="75.5" r="4.0"/><circle cx="52.2" cy="75.5" r="4.0"/><circle cx="36.8" cy="75.9" r="4.0"/><circle cx="44.5" cy="76.1" r="4.0"/><circle cx="67.9" cy="77.3" r="4.0"/><circle cx="27.3" cy="77.7" r="4.0"/><circle cx="83.6" cy="77.9" r="4.0"/><circle cx="88.5" cy="79.2" r="4.0"/><circle cx="75.0" cy="80.2" r="4.0"/><circle cx="16.0" cy="80.9" r="4.0"/><circle cx="60.8" cy="80.9" r="4.0"/><circle cx="55.4" cy="81.3" r="4.0"/><circle cx="80.0" cy="81.5" r="4.0"/><circle cx="44.2" cy="81.9" r="4.0"/><circle cx="21.5" cy="82.0" r="4.0"/><circle cx="30.2" cy="82.6" r="4.0"/><circle cx="49.2" cy="82.9" r="4.0"/><circle cx="36.9" cy="83.9" r="4.0"/><circle cx="88.0" cy="84.1" r="4.0"/><circle cx="11.7" cy="84.6" r="4.0"/><circle cx="70.9" cy="85.3" r="4.0"/><circle cx="57.8" cy="85.9" r="4.0"/><circle cx="64.9" cy="86.1" r="4.0"/><circle cx="80.2" cy="86.7" r="4.0"/><circle cx="24.4" cy="87.6" r="4.0"/><circle cx="17.3" cy="88.1" r="4.0"/><circle cx="49.6" cy="88.4" r="4.0"/><circle cx="32.1" cy="89.2" r="4.0"/><circle cx="38.4" cy="89.4" r="4.0"/><circle cx="86.6" cy="89.7" r="4.0"/><circle cx="44.3" cy="90.3" r="4.0"/><circle cx="68.8" cy="90.4" r="4.0"/><circle cx="63.2" cy="91.0" r="4.0"/><circle cx="57.9" cy="91.4" r="4.0"/><circle cx="81.9" cy="91.6" r="4.0"/><circle cx="27.6" cy="91.8" r="4.0"/><circle cx="20.5" cy="91.9" r="4.0"/><circle cx="76.6" cy="92.6" r="4.0"/><circle cx="90.7" cy="93.0" r="4.0"/><circle cx="9.5" cy="93.3" r="4.0"/><circle cx="53.2" cy="94.2" r="4.0"/><circle cx="16.0" cy="94.6" r="4.0"/><circle cx="33.8" cy="94.8" r="4.0"/><circle cx="71.1" cy="95.1" r="4.0"/><circle cx="86.0" cy="95.3" r="4.0"/><circle cx="44.1" cy="95.9" r="4.0"/><circle cx="64.4" cy="96.6" r="4.0"/><circle cx="25.8" cy="97.1" r="4.0"/><circle cx="76.4" cy="98.1" r="4.0"/><circle cx="81.4" cy="98.2" r="4.0"/><circle cx="40.0" cy="98.8" r="4.0"/><circle cx="20.9" cy="99.1" r="4.0"/><circle cx="50.9" cy="99.9" r="4.0"/><circle cx="70.3" cy="100.4" r="4.0"/><circle cx="89.4" cy="100.7" r="4.0"/><circle cx="58.3" cy="100.9" r="4.0"/><circle cx="16.2" cy="101.8" r="4.0"/><circle cx="11.2" cy="102.0" r="4.0"/><circle cx="35.3" cy="102.3" r="4.0"/><circle cx="29.1" cy="102.7" r="4.0"/><circle cx="64.0" cy="102.9" r="4.0"/><circle cx="81.2" cy="103.4" r="4.0"/><circle cx="76.2" cy="103.5" r="4.0"/><circle cx="93.7" cy="104.2" r="4.0"/><circle cx="45.7" cy="104.6" r="4.0"/><circle cx="20.2" cy="105.1" r="4.0"/><circle cx="51.2" cy="105.5" r="4.0"/><circle cx="25.2" cy="106.0" r="4.0"/><circle cx="71.3" cy="106.2" r="4.0"/><circle cx="41.0" cy="106.5" r="4.0"/><circle cx="62.1" cy="108.1" r="4.0"/><circle cx="88.3" cy="108.8" r="4.0"/><circle cx="14.3" cy="108.9" r="4.0"/><circle cx="75.6" cy="109.0" r="4.0"/><circle cx="55.7" cy="109.2" r="4.0"/><circle cx="8.7" cy="109.2" r="4.0"/><circle cx="94.4" cy="109.3" r="4.0"/><circle cx="36.4" cy="109.5" r="4.0"/><circle cx="67.3" cy="109.5" r="4.0"/><circle cx="30.6" cy="109.8" r="4.0"/><circle cx="21.9" cy="109.9" r="4.0"/><circle cx="47.5" cy="110.3" r="4.0"/><circle cx="81.6" cy="110.7" r="4.0"/><circle cx="41.8" cy="112.7" r="4.0"/><circle cx="17.6" cy="112.7" r="4.0"/><circle cx="63.7" cy="113.3" r="4.0"/><circle cx="33.6" cy="113.9" r="4.0"/><circle cx="89.5" cy="113.9" r="4.0"/><circle cx="51.8" cy="114.0" r="4.0"/><circle cx="94.7" cy="114.4" r="4.0"/><circle cx="58.4" cy="114.7" r="4.0"/><circle cx="74.5" cy="115.1" r="4.0"/><circle cx="28.8" cy="115.4" r="4.0"/><circle cx="84.3" cy="115.5" r="4.0"/><circle cx="68.2" cy="115.6" r="4.0"/><circle cx="11.1" cy="115.7" r="4.0"/><circle cx="46.6" cy="116.2" r="4.0"/><circle cx="21.6" cy="116.7" r="4.0"/><circle cx="79.1" cy="117.5" r="4.0"/><circle cx="16.2" cy="117.6" r="4.0"/><circle cx="62.9" cy="118.5" r="4.0"/><circle cx="32.8" cy="119.0" r="4.0"/><circle cx="38.6" cy="119.5" r="4.0"/><circle cx="91.0" cy="119.5" r="4.0"/><circle cx="50.6" cy="119.9" r="4.0"/><circle cx="26.4" cy="120.0" r="4.0"/><circle cx="85.6" cy="120.4" r="4.0"/><circle cx="55.7" cy="120.7" r="4.0"/><circle cx="74.4" cy="121.0" r="4.0"/><circle cx="12.0" cy="121.0" r="4.0"/><circle cx="95.8" cy="121.1" r="4.0"/><circle cx="68.2" cy="121.4" r="4.0"/><circle cx="44.5" cy="121.4" r="4.0"/><circle cx="19.4" cy="121.7" r="4.0"/><circle cx="80.9" cy="122.2" r="4.0"/><circle cx="31.5" cy="124.8" r="4.0"/><circle cx="89.5" cy="124.9" r="4.0"/><circle cx="63.7" cy="125.3" r="4.0"/><circle cx="39.8" cy="125.4" r="4.0"/><circle cx="76.8" cy="125.5" r="4.0"/><circle cx="71.2" cy="126.4" r="4.0"/><circle cx="53.4" cy="126.7" r="4.0"/><circle cx="19.5" cy="127.1" r="4.0"/><circle cx="95.1" cy="127.2" r="4.0"/><circle cx="46.4" cy="127.4" r="4.0"/><circle cx="13.3" cy="127.8" r="4.0"/><circle cx="27.5" cy="127.8" r="4.0"/><circle cx="58.9" cy="128.7" r="4.0"/><circle cx="86.0" cy="129.3" r="4.0"/><circle cx="33.5" cy="129.5" r="4.0"/><circle cx="66.6" cy="129.5" r="4.0"/><circle cx="38.8" cy="130.4" r="4.0"/><circle cx="91.3" cy="130.7" r="4.0"/><circle cx="77.9" cy="131.2" r="4.0"/><circle cx="71.6" cy="131.7" r="4.0"/><circle cx="52.0" cy="133.2" r="4.0"/><circle cx="16.0" cy="133.6" r="4.0"/><circle cx="57.1" cy="133.6" r="4.0"/><circle cx="31.3" cy="134.0" r="4.0"/><circle cx="64.9" cy="134.2" r="4.0"/><circle cx="21.9" cy="134.3" r="4.0"/><circle cx="44.8" cy="134.8" r="4.0"/><circle cx="83.7" cy="135.2" r="4.0"/><circle cx="92.9" cy="136.2" r="4.0"/><circle cx="71.6" cy="136.8" r="4.0"/><circle cx="36.8" cy="137.1" r="4.0"/><circle cx="60.8" cy="137.1" r="4.0"/><circle cx="76.7" cy="137.4" r="4.0"/><circle cx="66.9" cy="139.2" r="4.0"/><circle cx="29.3" cy="139.6" r="4.0"/><circle cx="55.3" cy="139.8" r="4.0"/><circle cx="85.6" cy="140.0" r="4.0"/><circle cx="18.5" cy="140.2" r="4.0"/><circle cx="90.8" cy="140.9" r="4.0"/><circle cx="80.3" cy="141.0" r="4.0"/><circle cx="42.8" cy="141.6" r="4.0"/><circle cx="50.7" cy="141.7" r="4.0"/><circle cx="35.6" cy="142.6" r="4.0"/><circle cx="73.2" cy="143.4" r="4.0"/><circle cx="24.3" cy="143.5" r="4.0"/><circle cx="60.1" cy="143.6" r="4.0"/><circle cx="66.8" cy="144.6" r="4.0"/><circle cx="54.5" cy="145.2" r="4.0"/><circle cx="78.6" cy="146.2" r="4.0"/><circle cx="83.6" cy="146.2" r="4.0"/><circle cx="29.7" cy="146.4" r="4.0"/><circle cx="41.4" cy="146.8" r="4.0"/><circle cx="46.4" cy="147.9" r="4.0"/><circle cx="71.0" cy="149.4" r="4.0"/><circle cx="34.3" cy="149.5" r="4.0"/><circle cx="63.1" cy="152.5" r="4.0"/><circle cx="57.3" cy="152.6" r="4.0"/><circle cx="40.4" cy="152.6" r="4.0"/><circle cx="45.5" cy="153.1" r="4.0"/><circle cx="51.5" cy="153.8" r="4.0"/></g>
<g fill="#f01c1c" stroke="#a01212" stroke-width="0.6"><circle cx="176.1" cy="45.4" r="4.0"/><circle cx="171.1" cy="46.8" r="4.0"/><circle cx="163.7" cy="47.4" r="4.0"/><circle cx="158.2" cy="47.5" r="4.0"/><circle cx="145.5" cy="47.6" r="4.0"/><circle cx="153.3" cy="49.0" r="4.0"/><circle cx="178.9" cy="50.0" r="4.0"/><circle cx="162.0" cy="52.2" r="4.0"/><circle cx="174.4" cy="52.2" r="4.0"/><circle cx="147.3" cy="52.5" r="4.0"/><circle cx="184.4" cy="53.4" r="4.0"/><circle cx="167.1" cy="54.3" r="4.0"/><circle cx="142.9" cy="55.3" r="4.0"/><circle cx="137.9" cy="55.4" r="4.0"/><circle cx="155.3" cy="55.9" r="4.0"/><circle cx="176.6" cy="57.7" r="4.0"/><circle cx="147.9" cy="58.5" r="4.0"/><circle cx="164.7" cy="59.2" r="4.0"/><circle cx="184.6" cy="59.3" r="4.0"/><circle cx="134.4" cy="59.5" r="4.0"/><circle cx="191.3" cy="60.6" r="4.0"/><circle cx="170.6" cy="60.7" r="4.0"/><circle cx="141.7" cy="61.0" r="4.0"/><circle cx="159.6" cy="61.6" r="4.0"/><circle cx="154.1" cy="62.4" r="4.0"/><circle cx="178.9" cy="63.1" r="4.0"/><circle cx="195.7" cy="64.2" r="4.0"/><circle cx="187.1" cy="64.9" r="4.0"/><circle cx="131.7" cy="65.4" r="4.0"/><circle cx="146.7" cy="65.8" r="4.0"/><circle cx="174.7" cy="66.0" r="4.0"/><circle cx="139.6" cy="66.8" r="4.0"/><circle cx="161.0" cy="67.6" r="4.0"/><circle cx="167.2" cy="68.7" r="4.0"/><circle cx="194.9" cy="69.6" r="4.0"/><circle cx="154.0" cy="69.7" r="4.0"/><circle cx="129.1" cy="69.8" r="4.0"/><circle cx="177.0" cy="70.6" r="4.0"/><circle cx="182.0" cy="70.8" r="4.0"/><circle cx="142.7" cy="70.8" r="4.0"/><circle cx="137.5" cy="71.8" r="4.0"/><circle cx="148.8" cy="71.8" r="4.0"/><circle cx="158.5" cy="72.0" r="4.0"/><circle cx="190.0" cy="72.0" r="4.0"/><circle cx="163.7" cy="72.5" r="4.0"/><circle cx="126.3" cy="74.0" r="4.0"/><circle cx="173.2" cy="74.1" r="4.0"/><circle cx="132.5" cy="75.1" r="4.0"/><circle cx="143.9" cy="75.8" r="4.0"/><circle cx="178.5" cy="76.0" r="4.0"/><circle cx="200.0" cy="76.2" r="4.0"/><circle cx="193.1" cy="76.3" r="4.0"/><circle cx="166.7" cy="76.6" r="4.0"/><circle cx="152.8" cy="76.6" r="4.0"/><circle cx="188.1" cy="76.8" r="4.0"/><circle cx="160.3" cy="77.1" r="4.0"/><circle cx="138.7" cy="77.7" r="4.0"/><circle cx="129.1" cy="79.0" r="4.0"/><circle cx="147.7" cy="79.5" r="4.0"/><circle cx="183.3" cy="79.6" r="4.0"/><circle cx="134.1" cy="79.9" r="4.0"/><circle cx="173.7" cy="80.4" r="4.0"/><circle cx="152.7" cy="81.8" r="4.0"/><circle cx="190.3" cy="82.0" r="4.0"/><circle cx="123.3" cy="82.1" r="4.0"/><circle cx="142.1" cy="82.4" r="4.0"/><circle cx="161.8" cy="82.4" r="4.0"/><circle cx="196.6" cy="83.0" r="4.0"/><circle cx="146.8" cy="84.6" r="4.0"/><circle cx="171.0" cy="84.7" r="4.0"/><circle cx="177.1" cy="84.7" r="4.0"/><circle cx="157.3" cy="84.8" r="4.0"/><circle cx="202.1" cy="84.8" r="4.0"/><circle cx="127.5" cy="84.8" r="4.0"/><circle cx="186.0" cy="84.9" r="4.0"/><circle cx="137.3" cy="85.5" r="4.0"/><circle cx="165.9" cy="85.7" r="4.0"/><circle cx="132.0" cy="87.1" r="4.0"/><circle cx="194.6" cy="88.5" r="4.0"/><circle cx="144.9" cy="89.2" r="4.0"/><circle cx="179.4" cy="89.5" r="4.0"/><circle cx="139.7" cy="90.0" r="4.0"/><circle cx="188.9" cy="90.3" r="4.0"/><circle cx="128.1" cy="90.3" r="4.0"/><circle cx="121.8" cy="90.4" r="4.0"/><circle cx="159.2" cy="90.5" r="4.0"/><circle cx="150.8" cy="91.2" r="4.0"/><circle cx="205.0" cy="91.3" r="4.0"/><circle cx="134.7" cy="91.5" r="4.0"/><circle cx="198.9" cy="91.7" r="4.0"/><circle cx="165.3" cy="92.0" r="4.0"/><circle cx="170.9" cy="92.1" r="4.0"/><circle cx="155.5" cy="94.2" r="4.0"/><circle cx="145.8" cy="94.2" r="4.0"/><circle cx="183.3" cy="94.3" r="4.0"/><circle cx="176.3" cy="95.2" r="4.0"/><circle cx="140.5" cy="95.3" r="4.0"/><circle cx="120.8" cy="95.4" r="4.0"/><circle cx="206.6" cy="96.1" r="4.0"/><circle cx="135.0" cy="96.7" r="4.0"/><circle cx="199.1" cy="97.2" r="4.0"/><circle cx="187.0" cy="97.6" r="4.0"/><circle cx="128.5" cy="97.9" r="4.0"/><circle cx="192.0" cy="98.0" r="4.0"/><circle cx="170.2" cy="98.4" r="4.0"/><circle cx="160.0" cy="98.7" r="4.0"/><circle cx="148.6" cy="99.5" r="4.0"/><circle cx="153.8" cy="99.7" r="4.0"/><circle cx="142.9" cy="99.8" r="4.0"/><circle cx="182.7" cy="100.1" r="4.0"/><circle cx="203.3" cy="100.1" r="4.0"/><circle cx="175.5" cy="100.2" r="4.0"/><circle cx="120.6" cy="101.6" r="4.0"/><circle cx="195.8" cy="101.7" r="4.0"/><circle cx="165.7" cy="101.8" r="4.0"/><circle cx="136.1" cy="102.9" r="4.0"/><circle cx="125.9" cy="103.2" r="4.0"/><circle cx="188.5" cy="103.9" r="4.0"/><circle cx="206.8" cy="104.1" r="4.0"/><circle cx="200.6" cy="104.4" r="4.0"/><circle cx="148.0" cy="104.6" r="4.0"/><circle cx="141.3" cy="105.0" r="4.0"/><circle cx="154.1" cy="105.7" r="4.0"/><circle cx="183.8" cy="106.5" r="4.0"/><circle cx="172.8" cy="106.5" r="4.0"/><circle cx="132.4" cy="106.6" r="4.0"/><circle cx="178.6" cy="106.6" r="4.0"/><circle cx="195.8" cy="107.3" r="4.0"/><circle cx="166.8" cy="107.5" r="4.0"/><circle cx="161.1" cy="107.8" r="4.0"/><circle cx="122.2" cy="108.4" r="4.0"/><circle cx="137.3" cy="108.7" r="4.0"/><circle cx="189.9" cy="108.8" r="4.0"/><circle cx="205.8" cy="109.4" r="4.0"/><circle cx="127.5" cy="109.4" r="4.0"/><circle cx="146.5" cy="110.1" r="4.0"/><circle cx="185.2" cy="111.8" r="4.0"/><circle cx="173.7" cy="111.9" r="4.0"/><circle cx="141.6" cy="111.9" r="4.0"/><circle cx="198.5" cy="111.9" r="4.0"/><circle cx="154.8" cy="112.7" r="4.0"/><circle cx="193.7" cy="113.3" r="4.0"/><circle cx="134.3" cy="113.3" r="4.0"/><circle cx="162.1" cy="113.5" r="4.0"/><circle cx="178.6" cy="114.1" r="4.0"/><circle cx="169.5" cy="114.7" r="4.0"/><circle cx="139.4" cy="116.4" r="4.0"/><circle cx="204.0" cy="116.7" r="4.0"/><circle cx="131.0" cy="117.4" r="4.0"/><circle cx="186.0" cy="117.6" r="4.0"/><circle cx="125.7" cy="117.8" r="4.0"/><circle cx="156.6" cy="117.8" r="4.0"/><circle cx="151.0" cy="118.0" r="4.0"/><circle cx="199.2" cy="118.8" r="4.0"/><circle cx="193.2" cy="119.7" r="4.0"/><circle cx="164.8" cy="119.8" r="4.0"/><circle cx="145.6" cy="120.1" r="4.0"/><circle cx="173.7" cy="120.4" r="4.0"/><circle cx="134.4" cy="121.2" r="4.0"/><circle cx="203.4" cy="121.8" r="4.0"/><circle cx="129.0" cy="122.4" r="4.0"/><circle cx="181.3" cy="122.5" r="4.0"/><circle cx="152.1" cy="123.0" r="4.0"/><circle cx="169.8" cy="123.9" r="4.0"/><circle cx="193.5" cy="124.8" r="4.0"/><circle cx="160.4" cy="124.8" r="4.0"/><circle cx="147.1" cy="125.0" r="4.0"/><circle cx="140.9" cy="125.1" r="4.0"/><circle cx="186.8" cy="125.2" r="4.0"/><circle cx="198.4" cy="126.0" r="4.0"/><circle cx="174.5" cy="126.3" r="4.0"/><circle cx="136.0" cy="126.7" r="4.0"/><circle cx="181.8" cy="127.8" r="4.0"/><circle cx="129.0" cy="128.2" r="4.0"/><circle cx="154.6" cy="128.7" r="4.0"/><circle cx="163.5" cy="129.5" r="4.0"/><circle cx="192.1" cy="129.9" r="4.0"/><circle cx="147.2" cy="130.1" r="4.0"/><circle cx="171.1" cy="130.5" r="4.0"/><circle cx="197.1" cy="131.2" r="4.0"/><circle cx="186.7" cy="131.6" r="4.0"/><circle cx="132.4" cy="131.8" r="4.0"/><circle cx="158.3" cy="133.5" r="4.0"/><circle cx="139.1" cy="134.0" r="4.0"/><circle cx="179.6" cy="134.0" r="4.0"/><circle cx="166.6" cy="134.4" r="4.0"/><circle cx="144.8" cy="135.6" r="4.0"/><circle cx="152.8" cy="135.7" r="4.0"/><circle cx="174.0" cy="136.1" r="4.0"/><circle cx="184.2" cy="137.2" r="4.0"/><circle cx="190.1" cy="138.1" r="4.0"/><circle cx="169.4" cy="138.6" r="4.0"/><circle cx="140.9" cy="138.9" r="4.0"/><circle cx="162.5" cy="139.0" r="4.0"/><circle cx="145.6" cy="140.6" r="4.0"/><circle cx="180.8" cy="140.8" r="4.0"/><circle cx="157.9" cy="141.7" r="4.0"/><circle cx="176.0" cy="142.6" r="4.0"/><circle cx="171.2" cy="144.5" r="4.0"/><circle cx="150.4" cy="144.8" r="4.0"/><circle cx="164.2" cy="145.0" r="4.0"/><circle cx="155.4" cy="146.3" r="4.0"/></g>
<g><line x1="181.4" y1="335.4" x2="201.4" y2="286.9" stroke="#70d8e0" stroke-width="0.55" stroke-opacity="0.62"/><line x1="175.8" y1="334.9" x2="118.4" y2="311.1" stroke="#70d8e0" stroke-width="0.55" stroke-opacity="0.62"/><line x1="88.9" y1="346.4" x2="108.0" y2="351.2" stroke="#6070c0" stroke-width="0.55" stroke-opacity="0.62"/><line x1="186.6" y1="352.3" x2="168.1" y2="410.9" stroke="#50c880" stroke-width="0.55" stroke-opacity="0.62"/><line x1="7.4" y1="312.7" x2="90.3" y2="342.5" stroke="#b8c030" stroke-width="0.55" stroke-opacity="0.62"/><line x1="121.0" y1="263.6" x2="93.5" y2="345.6" stroke="#e05010" stroke-width="0.55" stroke-opacity="0.62"/><line x1="122.4" y1="315.4" x2="68.0" y2="258.6" stroke="#e090c8" stroke-width="0.55" stroke-opacity="0.62"/><line x1="128.3" y1="231.1" x2="168.1" y2="242.2" stroke="#40b4d0" stroke-width="0.55" stroke-opacity="0.62"/><line x1="119.2" y1="370.4" x2="154.1" y2="361.2" stroke="#d02090" stroke-width="0.55" stroke-opacity="0.62"/><line x1="152.9" y1="420.4" x2="144.3" y2="336.8" stroke="#e080e8" stroke-width="0.55" stroke-opacity="0.62"/><line x1="127.9" y1="313.1" x2="187.5" y2="300.7" stroke="#e090c8" stroke-width="0.55" stroke-opacity="0.62"/><line x1="210.4" y1="336.8" x2="207.5" y2="360.7" stroke="#60c8e0" stroke-width="0.55" stroke-opacity="0.62"/><line x1="95.2" y1="379.5" x2="145.3" y2="393.0" stroke="#80d0e0" stroke-width="0.55" stroke-opacity="0.62"/><line x1="195.6" y1="367.5" x2="145.3" y2="393.0" stroke="#50d040" stroke-width="0.55" stroke-opacity="0.62"/><line x1="118.4" y1="311.1" x2="97.7" y2="244.1" stroke="#e090c8" stroke-width="0.55" stroke-opacity="0.62"/><line x1="109.3" y1="358.1" x2="72.3" y2="400.8" stroke="#e05020" stroke-width="0.55" stroke-opacity="0.62"/><line x1="115.5" y1="393.2" x2="192.5" y2="390.5" stroke="#501020" stroke-width="0.55" stroke-opacity="0.62"/><line x1="95.4" y1="341.0" x2="122.4" y2="315.4" stroke="#6070c0" stroke-width="0.55" stroke-opacity="0.62"/><line x1="99.5" y1="406.6" x2="132.8" y2="372.3" stroke="#f0a060" stroke-width="0.55" stroke-opacity="0.62"/><line x1="116.9" y1="283.3" x2="122.2" y2="336.0" stroke="#80e080" stroke-width="0.55" stroke-opacity="0.62"/><line x1="68.7" y1="254.6" x2="70.5" y2="321.5" stroke="#8020c0" stroke-width="0.55" stroke-opacity="0.62"/><line x1="120.4" y1="268.9" x2="177.6" y2="272.9" stroke="#e05010" stroke-width="0.55" stroke-opacity="0.62"/><line x1="120.3" y1="352.9" x2="182.7" y2="293.9" stroke="#d02090" stroke-width="0.55" stroke-opacity="0.62"/><line x1="171.9" y1="331.7" x2="173.6" y2="358.5" stroke="#70d8e0" stroke-width="0.55" stroke-opacity="0.62"/><line x1="150.3" y1="385.9" x2="144.3" y2="336.8" stroke="#3080d0" stroke-width="0.55" stroke-opacity="0.62"/><line x1="154.0" y1="388.5" x2="103.7" y2="355.3" stroke="#3080d0" stroke-width="0.55" stroke-opacity="0.62"/><line x1="137.7" y1="235.6" x2="136.7" y2="292.4" stroke="#40b4d0" stroke-width="0.55" stroke-opacity="0.62"/><line x1="140.2" y1="259.1" x2="190.6" y2="263.7" stroke="#d040d0" stroke-width="0.55" stroke-opacity="0.62"/><line x1="106.2" y1="286.7" x2="173.9" y2="313.7" stroke="#80e080" stroke-width="0.55" stroke-opacity="0.62"/><line x1="142.1" y1="390.5" x2="96.6" y2="319.8" stroke="#3080d0" stroke-width="0.55" stroke-opacity="0.62"/><line x1="121.0" y1="377.8" x2="204.0" y2="368.3" stroke="#501020" stroke-width="0.55" stroke-opacity="0.62"/><line x1="124.0" y1="266.9" x2="123.0" y2="311.1" stroke="#e05010" stroke-width="0.55" stroke-opacity="0.62"/><line x1="180.6" y1="358.6" x2="128.1" y2="422.1" stroke="#50c880" stroke-width="0.55" stroke-opacity="0.62"/><line x1="143.8" y1="291.1" x2="143.4" y2="328.7" stroke="#d03060" stroke-width="0.55" stroke-opacity="0.62"/><line x1="168.8" y1="269.8" x2="124.0" y2="266.9" stroke="#906050" stroke-width="0.55" stroke-opacity="0.62"/><line x1="116.9" y1="283.3" x2="44.7" y2="252.9" stroke="#80e080" stroke-width="0.55" stroke-opacity="0.62"/><line x1="17.9" y1="267.1" x2="51.1" y2="344.4" stroke="#80e040" stroke-width="0.55" stroke-opacity="0.62"/><line x1="62.6" y1="287.3" x2="140.7" y2="294.2" stroke="#c0a0e8" stroke-width="0.55" stroke-opacity="0.62"/><line x1="27.8" y1="365.8" x2="57.6" y2="344.0" stroke="#70d8d0" stroke-width="0.55" stroke-opacity="0.62"/><line x1="15.3" y1="315.2" x2="93.2" y2="275.8" stroke="#b8c030" stroke-width="0.55" stroke-opacity="0.62"/><line x1="156.2" y1="416.7" x2="113.8" y2="361.0" stroke="#e080e8" stroke-width="0.55" stroke-opacity="0.62"/><line x1="177.4" y1="267.2" x2="116.4" y2="275.2" stroke="#906050" stroke-width="0.55" stroke-opacity="0.62"/><line x1="157.2" y1="318.4" x2="130.9" y2="365.2" stroke="#203070" stroke-width="0.55" stroke-opacity="0.62"/><line x1="209.6" y1="342.0" x2="210.9" y2="319.1" stroke="#60c8e0" stroke-width="0.55" stroke-opacity="0.62"/><line x1="131.8" y1="218.9" x2="161.3" y2="243.0" stroke="#40b4d0" stroke-width="0.55" stroke-opacity="0.62"/><line x1="22.2" y1="267.3" x2="83.8" y2="273.8" stroke="#80e040" stroke-width="0.55" stroke-opacity="0.62"/><line x1="157.2" y1="318.4" x2="136.6" y2="367.7" stroke="#203070" stroke-width="0.55" stroke-opacity="0.62"/><line x1="181.2" y1="269.8" x2="190.6" y2="263.7" stroke="#906050" stroke-width="0.55" stroke-opacity="0.62"/><line x1="64.2" y1="398.5" x2="99.5" y2="406.6" stroke="#8a4a10" stroke-width="0.55" stroke-opacity="0.62"/><line x1="191.0" y1="235.3" x2="146.9" y2="261.1" stroke="#70e040" stroke-width="0.55" stroke-opacity="0.62"/><line x1="100.6" y1="317.5" x2="44.4" y2="354.0" stroke="#30a060" stroke-width="0.55" stroke-opacity="0.62"/><line x1="119.5" y1="330.7" x2="120.4" y2="268.9" stroke="#c8e050" stroke-width="0.55" stroke-opacity="0.62"/><line x1="143.6" y1="332.7" x2="142.7" y2="282.2" stroke="#407020" stroke-width="0.55" stroke-opacity="0.62"/><line x1="96.1" y1="288.3" x2="33.6" y2="296.9" stroke="#c090e0" stroke-width="0.55" stroke-opacity="0.62"/><line x1="118.9" y1="364.1" x2="120.3" y2="290.6" stroke="#d02090" stroke-width="0.55" stroke-opacity="0.62"/><line x1="168.6" y1="390.5" x2="145.3" y2="393.0" stroke="#c070d0" stroke-width="0.55" stroke-opacity="0.62"/><line x1="120.1" y1="402.4" x2="104.0" y2="327.6" stroke="#70d8c8" stroke-width="0.55" stroke-opacity="0.62"/><line x1="122.3" y1="417.7" x2="114.8" y2="383.6" stroke="#70d8c8" stroke-width="0.55" stroke-opacity="0.62"/><line x1="140.5" y1="340.2" x2="116.7" y2="334.7" stroke="#407020" stroke-width="0.55" stroke-opacity="0.62"/><line x1="154.1" y1="361.2" x2="190.9" y2="297.0" stroke="#80d8c8" stroke-width="0.55" stroke-opacity="0.62"/><line x1="67.4" y1="368.7" x2="145.3" y2="393.0" stroke="#b0b8e0" stroke-width="0.55" stroke-opacity="0.62"/><line x1="126.4" y1="371.5" x2="192.1" y2="399.0" stroke="#a040c8" stroke-width="0.55" stroke-opacity="0.62"/><line x1="136.7" y1="292.4" x2="114.3" y2="293.2" stroke="#d03060" stroke-width="0.55" stroke-opacity="0.62"/><line x1="74.5" y1="321.0" x2="125.6" y2="322.9" stroke="#208020" stroke-width="0.55" stroke-opacity="0.62"/><line x1="94.3" y1="282.3" x2="73.2" y2="302.4" stroke="#c090e0" stroke-width="0.55" stroke-opacity="0.62"/><line x1="150.7" y1="359.1" x2="70.5" y2="321.5" stroke="#80d8c8" stroke-width="0.55" stroke-opacity="0.62"/><line x1="33.9" y1="292.1" x2="68.8" y2="308.7" stroke="#9040d0" stroke-width="0.55" stroke-opacity="0.62"/><line x1="102.0" y1="376.4" x2="115.2" y2="287.6" stroke="#80d0e0" stroke-width="0.55" stroke-opacity="0.62"/><line x1="181.7" y1="280.6" x2="118.4" y2="311.1" stroke="#906050" stroke-width="0.55" stroke-opacity="0.62"/><line x1="208.9" y1="373.7" x2="160.4" y2="321.8" stroke="#50d040" stroke-width="0.55" stroke-opacity="0.62"/><line x1="57.5" y1="348.4" x2="113.3" y2="332.0" stroke="#90e070" stroke-width="0.55" stroke-opacity="0.62"/><line x1="117.6" y1="380.2" x2="131.2" y2="310.7" stroke="#501020" stroke-width="0.55" stroke-opacity="0.62"/><line x1="174.5" y1="363.3" x2="173.1" y2="391.6" stroke="#50c880" stroke-width="0.55" stroke-opacity="0.62"/><line x1="90.8" y1="336.9" x2="71.5" y2="372.0" stroke="#6070c0" stroke-width="0.55" stroke-opacity="0.62"/><line x1="140.7" y1="294.2" x2="116.4" y2="275.2" stroke="#d03060" stroke-width="0.55" stroke-opacity="0.62"/><line x1="144.5" y1="386.7" x2="160.4" y2="321.8" stroke="#3080d0" stroke-width="0.55" stroke-opacity="0.62"/><line x1="65.5" y1="311.6" x2="93.4" y2="233.5" stroke="#e89030" stroke-width="0.55" stroke-opacity="0.62"/><line x1="20.0" y1="276.3" x2="7.4" y2="312.7" stroke="#80e040" stroke-width="0.55" stroke-opacity="0.62"/><line x1="72.7" y1="406.2" x2="119.2" y2="370.4" stroke="#8a4a10" stroke-width="0.55" stroke-opacity="0.62"/><line x1="152.3" y1="396.6" x2="107.7" y2="325.4" stroke="#3080d0" stroke-width="0.55" stroke-opacity="0.62"/><line x1="168.1" y1="242.2" x2="161.9" y2="310.0" stroke="#40a070" stroke-width="0.55" stroke-opacity="0.62"/><line x1="206.6" y1="313.2" x2="183.2" y2="330.2" stroke="#40d840" stroke-width="0.55" stroke-opacity="0.62"/><line x1="109.3" y1="358.1" x2="96.1" y2="288.3" stroke="#e05020" stroke-width="0.55" stroke-opacity="0.62"/><line x1="210.9" y1="314.7" x2="140.3" y2="335.6" stroke="#40d840" stroke-width="0.55" stroke-opacity="0.62"/><line x1="44.4" y1="354.0" x2="61.0" y2="391.6" stroke="#90e070" stroke-width="0.55" stroke-opacity="0.62"/><line x1="51.1" y1="344.4" x2="127.9" y2="313.1" stroke="#90e070" stroke-width="0.55" stroke-opacity="0.62"/><line x1="123.8" y1="411.9" x2="164.7" y2="393.0" stroke="#70d8c8" stroke-width="0.55" stroke-opacity="0.62"/><line x1="162.2" y1="414.7" x2="153.1" y2="392.6" stroke="#e080e8" stroke-width="0.55" stroke-opacity="0.62"/><line x1="153.1" y1="392.6" x2="109.5" y2="350.4" stroke="#3080d0" stroke-width="0.55" stroke-opacity="0.62"/><line x1="157.4" y1="358.9" x2="123.8" y2="411.9" stroke="#80d8c8" stroke-width="0.55" stroke-opacity="0.62"/><line x1="140.3" y1="335.6" x2="135.0" y2="386.7" stroke="#407020" stroke-width="0.55" stroke-opacity="0.62"/><line x1="65.0" y1="275.6" x2="95.4" y2="341.0" stroke="#c0a0e8" stroke-width="0.55" stroke-opacity="0.62"/><line x1="129.9" y1="416.8" x2="130.9" y2="365.2" stroke="#70d8c8" stroke-width="0.55" stroke-opacity="0.62"/><line x1="72.3" y1="400.8" x2="71.5" y2="372.0" stroke="#8a4a10" stroke-width="0.55" stroke-opacity="0.62"/><line x1="164.0" y1="388.9" x2="135.6" y2="407.4" stroke="#c070d0" stroke-width="0.55" stroke-opacity="0.62"/><line x1="93.4" y1="233.5" x2="83.8" y2="273.8" stroke="#3050d8" stroke-width="0.55" stroke-opacity="0.62"/><line x1="150.3" y1="385.9" x2="143.4" y2="328.7" stroke="#3080d0" stroke-width="0.55" stroke-opacity="0.62"/><line x1="192.3" y1="251.5" x2="151.6" y2="260.1" stroke="#70e040" stroke-width="0.55" stroke-opacity="0.62"/><line x1="190.6" y1="263.7" x2="115.2" y2="287.6" stroke="#70e040" stroke-width="0.55" stroke-opacity="0.62"/><line x1="195.3" y1="386.9" x2="120.3" y2="352.9" stroke="#70e040" stroke-width="0.55" stroke-opacity="0.62"/><line x1="102.4" y1="322.8" x2="62.6" y2="287.3" stroke="#30a060" stroke-width="0.55" stroke-opacity="0.62"/><line x1="64.2" y1="398.5" x2="153.1" y2="392.6" stroke="#8a4a10" stroke-width="0.55" stroke-opacity="0.62"/><line x1="127.5" y1="413.6" x2="165.0" y2="353.3" stroke="#70d8c8" stroke-width="0.55" stroke-opacity="0.62"/><line x1="90.3" y1="342.5" x2="98.0" y2="383.4" stroke="#6070c0" stroke-width="0.55" stroke-opacity="0.62"/><line x1="74.8" y1="368.5" x2="104.7" y2="389.4" stroke="#b0b8e0" stroke-width="0.55" stroke-opacity="0.62"/><line x1="64.7" y1="281.0" x2="114.3" y2="293.2" stroke="#c0a0e8" stroke-width="0.55" stroke-opacity="0.62"/><line x1="120.7" y1="357.4" x2="43.2" y2="392.2" stroke="#e05020" stroke-width="0.55" stroke-opacity="0.62"/><line x1="105.2" y1="319.6" x2="150.7" y2="359.1" stroke="#30a060" stroke-width="0.55" stroke-opacity="0.62"/><line x1="86.8" y1="403.9" x2="154.0" y2="388.5" stroke="#f0a060" stroke-width="0.55" stroke-opacity="0.62"/><line x1="116.9" y1="283.3" x2="121.5" y2="259.4" stroke="#80e080" stroke-width="0.55" stroke-opacity="0.62"/><line x1="154.7" y1="352.9" x2="102.4" y2="322.8" stroke="#80d8c8" stroke-width="0.55" stroke-opacity="0.62"/><line x1="173.6" y1="358.5" x2="145.3" y2="393.0" stroke="#50c880" stroke-width="0.55" stroke-opacity="0.62"/><line x1="127.9" y1="313.1" x2="136.0" y2="286.5" stroke="#e090c8" stroke-width="0.55" stroke-opacity="0.62"/><line x1="95.2" y1="379.5" x2="128.6" y2="333.6" stroke="#80d0e0" stroke-width="0.55" stroke-opacity="0.62"/><line x1="165.1" y1="313.3" x2="96.5" y2="324.5" stroke="#203070" stroke-width="0.55" stroke-opacity="0.62"/><line x1="128.7" y1="409.5" x2="66.1" y2="405.0" stroke="#70d8c8" stroke-width="0.55" stroke-opacity="0.62"/><line x1="112.6" y1="263.9" x2="161.0" y2="238.2" stroke="#e05010" stroke-width="0.55" stroke-opacity="0.62"/><line x1="126.3" y1="359.6" x2="120.1" y2="402.4" stroke="#d02090" stroke-width="0.55" stroke-opacity="0.62"/><line x1="125.6" y1="322.9" x2="113.7" y2="272.6" stroke="#e090c8" stroke-width="0.55" stroke-opacity="0.62"/><line x1="185.5" y1="333.5" x2="149.8" y2="336.7" stroke="#70d8e0" stroke-width="0.55" stroke-opacity="0.62"/><line x1="62.4" y1="358.2" x2="95.9" y2="336.5" stroke="#b0b8e0" stroke-width="0.55" stroke-opacity="0.62"/><line x1="114.8" y1="360.9" x2="180.6" y2="358.6" stroke="#e05020" stroke-width="0.55" stroke-opacity="0.62"/><line x1="34.1" y1="393.8" x2="95.5" y2="388.9" stroke="#202810" stroke-width="0.55" stroke-opacity="0.62"/><line x1="135.6" y1="407.4" x2="125.9" y2="338.7" stroke="#70d8c8" stroke-width="0.55" stroke-opacity="0.62"/><line x1="1.6" y1="313.6" x2="19.3" y2="326.0" stroke="#b8c030" stroke-width="0.55" stroke-opacity="0.62"/><line x1="115.2" y1="287.6" x2="88.0" y2="293.1" stroke="#80e080" stroke-width="0.55" stroke-opacity="0.62"/><line x1="140.5" y1="340.2" x2="154.7" y2="352.9" stroke="#407020" stroke-width="0.55" stroke-opacity="0.62"/><line x1="95.4" y1="341.0" x2="120.4" y2="268.9" stroke="#6070c0" stroke-width="0.55" stroke-opacity="0.62"/><line x1="88.0" y1="293.1" x2="67.9" y2="310.8" stroke="#c090e0" stroke-width="0.55" stroke-opacity="0.62"/><line x1="136.4" y1="269.8" x2="107.7" y2="325.4" stroke="#d040d0" stroke-width="0.55" stroke-opacity="0.62"/><line x1="96.6" y1="319.8" x2="148.4" y2="390.3" stroke="#30a060" stroke-width="0.55" stroke-opacity="0.62"/><line x1="143.6" y1="332.7" x2="81.5" y2="357.3" stroke="#407020" stroke-width="0.55" stroke-opacity="0.62"/><line x1="148.3" y1="396.1" x2="153.3" y2="424.5" stroke="#3080d0" stroke-width="0.55" stroke-opacity="0.62"/><line x1="203.6" y1="241.8" x2="177.4" y2="267.2" stroke="#70e040" stroke-width="0.55" stroke-opacity="0.62"/><line x1="179.1" y1="299.1" x2="136.0" y2="286.5" stroke="#d090e0" stroke-width="0.55" stroke-opacity="0.62"/><line x1="113.8" y1="361.0" x2="153.3" y2="424.5" stroke="#d02090" stroke-width="0.55" stroke-opacity="0.62"/><line x1="139.8" y1="372.7" x2="164.8" y2="329.8" stroke="#a040c8" stroke-width="0.55" stroke-opacity="0.62"/><line x1="179.2" y1="331.8" x2="116.4" y2="275.2" stroke="#70d8e0" stroke-width="0.55" stroke-opacity="0.62"/><line x1="126.4" y1="371.5" x2="164.7" y2="321.0" stroke="#a040c8" stroke-width="0.55" stroke-opacity="0.62"/><line x1="202.7" y1="314.9" x2="142.1" y2="369.4" stroke="#40d840" stroke-width="0.55" stroke-opacity="0.62"/><line x1="136.1" y1="276.0" x2="102.7" y2="261.1" stroke="#d03060" stroke-width="0.55" stroke-opacity="0.62"/><line x1="147.9" y1="266.3" x2="187.3" y2="304.9" stroke="#d040d0" stroke-width="0.55" stroke-opacity="0.62"/><line x1="144.2" y1="264.5" x2="189.5" y2="247.3" stroke="#d040d0" stroke-width="0.55" stroke-opacity="0.62"/><line x1="181.8" y1="310.8" x2="172.2" y2="386.9" stroke="#d090e0" stroke-width="0.55" stroke-opacity="0.62"/><line x1="168.6" y1="390.5" x2="212.5" y2="369.9" stroke="#c070d0" stroke-width="0.55" stroke-opacity="0.62"/><line x1="103.7" y1="355.3" x2="43.2" y2="392.2" stroke="#e05020" stroke-width="0.55" stroke-opacity="0.62"/><line x1="64.2" y1="398.5" x2="127.5" y2="413.6" stroke="#8a4a10" stroke-width="0.55" stroke-opacity="0.62"/><line x1="116.1" y1="267.1" x2="44.3" y2="257.0" stroke="#e05010" stroke-width="0.55" stroke-opacity="0.62"/><line x1="143.4" y1="328.7" x2="128.6" y2="333.6" stroke="#407020" stroke-width="0.55" stroke-opacity="0.62"/><line x1="121.0" y1="377.8" x2="170.3" y2="399.8" stroke="#501020" stroke-width="0.55" stroke-opacity="0.62"/><line x1="42.7" y1="396.3" x2="120.7" y2="357.4" stroke="#202810" stroke-width="0.55" stroke-opacity="0.62"/><line x1="27.8" y1="365.8" x2="78.6" y2="374.3" stroke="#70d8d0" stroke-width="0.55" stroke-opacity="0.62"/><line x1="154.7" y1="352.9" x2="101.2" y2="352.2" stroke="#80d8c8" stroke-width="0.55" stroke-opacity="0.62"/><line x1="177.0" y1="351.5" x2="213.7" y2="308.9" stroke="#50c880" stroke-width="0.55" stroke-opacity="0.62"/><line x1="70.5" y1="250.0" x2="69.5" y2="279.1" stroke="#8020c0" stroke-width="0.55" stroke-opacity="0.62"/><line x1="165.1" y1="313.3" x2="118.9" y2="364.1" stroke="#203070" stroke-width="0.55" stroke-opacity="0.62"/><line x1="117.0" y1="257.9" x2="197.2" y2="285.6" stroke="#e05010" stroke-width="0.55" stroke-opacity="0.62"/><line x1="146.9" y1="261.1" x2="172.1" y2="240.5" stroke="#d040d0" stroke-width="0.55" stroke-opacity="0.62"/><line x1="93.4" y1="233.5" x2="17.9" y2="267.1" stroke="#3050d8" stroke-width="0.55" stroke-opacity="0.62"/><line x1="105.2" y1="319.6" x2="148.0" y2="332.7" stroke="#30a060" stroke-width="0.55" stroke-opacity="0.62"/><line x1="36.6" y1="332.6" x2="122.9" y2="356.0" stroke="#205050" stroke-width="0.55" stroke-opacity="0.62"/><line x1="69.7" y1="299.6" x2="105.3" y2="314.8" stroke="#e89030" stroke-width="0.55" stroke-opacity="0.62"/><line x1="144.5" y1="386.7" x2="108.6" y2="317.4" stroke="#3080d0" stroke-width="0.55" stroke-opacity="0.62"/><line x1="94.4" y1="264.8" x2="38.6" y2="295.7" stroke="#80a0e0" stroke-width="0.55" stroke-opacity="0.62"/><line x1="98.0" y1="383.4" x2="122.2" y2="336.0" stroke="#80d0e0" stroke-width="0.55" stroke-opacity="0.62"/><line x1="190.9" y1="297.0" x2="221.8" y2="337.0" stroke="#d090e0" stroke-width="0.55" stroke-opacity="0.62"/><line x1="139.0" y1="376.8" x2="57.6" y2="344.0" stroke="#a040c8" stroke-width="0.55" stroke-opacity="0.62"/><line x1="144.3" y1="336.8" x2="148.0" y2="355.1" stroke="#407020" stroke-width="0.55" stroke-opacity="0.62"/><line x1="57.5" y1="348.4" x2="143.6" y2="332.7" stroke="#90e070" stroke-width="0.55" stroke-opacity="0.62"/><line x1="116.7" y1="334.7" x2="113.7" y2="353.3" stroke="#c8e050" stroke-width="0.55" stroke-opacity="0.62"/><line x1="94.0" y1="402.3" x2="151.8" y2="415.9" stroke="#f0a060" stroke-width="0.55" stroke-opacity="0.62"/><line x1="44.7" y1="252.9" x2="60.9" y2="282.5" stroke="#c82020" stroke-width="0.55" stroke-opacity="0.62"/><line x1="85.9" y1="284.8" x2="137.7" y2="227.2" stroke="#c090e0" stroke-width="0.55" stroke-opacity="0.62"/><line x1="69.7" y1="299.6" x2="68.4" y2="283.3" stroke="#e89030" stroke-width="0.55" stroke-opacity="0.62"/><line x1="123.0" y1="388.3" x2="112.4" y2="346.6" stroke="#501020" stroke-width="0.55" stroke-opacity="0.62"/><line x1="120.3" y1="290.6" x2="65.8" y2="250.0" stroke="#80e080" stroke-width="0.55" stroke-opacity="0.62"/><line x1="61.0" y1="391.6" x2="86.0" y2="341.6" stroke="#8a4a10" stroke-width="0.55" stroke-opacity="0.62"/><line x1="68.0" y1="325.1" x2="41.1" y2="310.4" stroke="#208020" stroke-width="0.55" stroke-opacity="0.62"/><line x1="57.6" y1="344.0" x2="65.7" y2="320.1" stroke="#90e070" stroke-width="0.55" stroke-opacity="0.62"/><line x1="179.1" y1="299.1" x2="90.7" y2="284.5" stroke="#d090e0" stroke-width="0.55" stroke-opacity="0.62"/><line x1="154.0" y1="388.5" x2="164.0" y2="358.9" stroke="#3080d0" stroke-width="0.55" stroke-opacity="0.62"/><line x1="144.2" y1="286.0" x2="120.3" y2="290.6" stroke="#d03060" stroke-width="0.55" stroke-opacity="0.62"/><line x1="74.4" y1="306.7" x2="81.5" y2="357.3" stroke="#e89030" stroke-width="0.55" stroke-opacity="0.62"/><line x1="61.8" y1="401.9" x2="42.7" y2="396.3" stroke="#8a4a10" stroke-width="0.55" stroke-opacity="0.62"/><line x1="152.3" y1="264.3" x2="153.3" y2="330.0" stroke="#d040d0" stroke-width="0.55" stroke-opacity="0.62"/><line x1="16.1" y1="308.0" x2="11.5" y2="375.1" stroke="#b8c030" stroke-width="0.55" stroke-opacity="0.62"/><line x1="15.3" y1="315.2" x2="44.3" y2="257.0" stroke="#b8c030" stroke-width="0.55" stroke-opacity="0.62"/><line x1="197.2" y1="285.6" x2="169.0" y2="360.3" stroke="#d0c080" stroke-width="0.55" stroke-opacity="0.62"/><line x1="24.8" y1="275.3" x2="16.1" y2="308.0" stroke="#80e040" stroke-width="0.55" stroke-opacity="0.62"/><line x1="94.6" y1="283.2" x2="89.9" y2="236.0" stroke="#80a0e0" stroke-width="0.55" stroke-opacity="0.62"/><line x1="195.6" y1="367.5" x2="144.3" y2="336.8" stroke="#50d040" stroke-width="0.55" stroke-opacity="0.62"/><line x1="35.6" y1="327.9" x2="38.4" y2="397.2" stroke="#205050" stroke-width="0.55" stroke-opacity="0.62"/><line x1="110.9" y1="322.2" x2="144.2" y2="264.5" stroke="#30a060" stroke-width="0.55" stroke-opacity="0.62"/><line x1="112.6" y1="263.9" x2="91.7" y2="289.6" stroke="#e05010" stroke-width="0.55" stroke-opacity="0.62"/><line x1="74.4" y1="306.7" x2="38.4" y2="269.3" stroke="#e89030" stroke-width="0.55" stroke-opacity="0.62"/><line x1="63.4" y1="243.7" x2="74.4" y2="306.7" stroke="#8020c0" stroke-width="0.55" stroke-opacity="0.62"/><line x1="96.6" y1="319.8" x2="68.0" y2="287.5" stroke="#30a060" stroke-width="0.55" stroke-opacity="0.62"/><line x1="83.8" y1="273.8" x2="157.2" y2="318.4" stroke="#80a0e0" stroke-width="0.55" stroke-opacity="0.62"/><line x1="27.0" y1="325.0" x2="23.0" y2="371.6" stroke="#205050" stroke-width="0.55" stroke-opacity="0.62"/><line x1="148.3" y1="396.1" x2="204.0" y2="368.3" stroke="#3080d0" stroke-width="0.55" stroke-opacity="0.62"/><line x1="154.0" y1="388.5" x2="126.2" y2="303.7" stroke="#3080d0" stroke-width="0.55" stroke-opacity="0.62"/><line x1="139.7" y1="289.5" x2="97.1" y2="240.1" stroke="#d03060" stroke-width="0.55" stroke-opacity="0.62"/><line x1="136.6" y1="367.7" x2="123.6" y2="421.9" stroke="#a040c8" stroke-width="0.55" stroke-opacity="0.62"/><line x1="149.5" y1="254.2" x2="136.1" y2="276.0" stroke="#d040d0" stroke-width="0.55" stroke-opacity="0.62"/><line x1="95.9" y1="336.5" x2="181.8" y2="310.8" stroke="#6070c0" stroke-width="0.55" stroke-opacity="0.62"/><line x1="109.5" y1="350.4" x2="115.5" y2="393.2" stroke="#d02090" stroke-width="0.55" stroke-opacity="0.62"/><line x1="161.8" y1="427.9" x2="99.5" y2="406.6" stroke="#e080e8" stroke-width="0.55" stroke-opacity="0.62"/><line x1="149.8" y1="336.7" x2="62.4" y2="358.2" stroke="#407020" stroke-width="0.55" stroke-opacity="0.62"/><line x1="120.1" y1="402.4" x2="192.5" y2="390.5" stroke="#70d8c8" stroke-width="0.55" stroke-opacity="0.62"/><line x1="47.2" y1="347.4" x2="39.6" y2="385.0" stroke="#90e070" stroke-width="0.55" stroke-opacity="0.62"/><line x1="120.3" y1="290.6" x2="62.6" y2="287.3" stroke="#80e080" stroke-width="0.55" stroke-opacity="0.62"/><line x1="51.1" y1="344.4" x2="114.5" y2="376.9" stroke="#90e070" stroke-width="0.55" stroke-opacity="0.62"/><line x1="88.6" y1="377.2" x2="47.2" y2="347.4" stroke="#80d0e0" stroke-width="0.55" stroke-opacity="0.62"/><line x1="213.2" y1="324.0" x2="139.8" y2="372.7" stroke="#40d840" stroke-width="0.55" stroke-opacity="0.62"/><line x1="69.7" y1="299.6" x2="38.5" y2="337.6" stroke="#e89030" stroke-width="0.55" stroke-opacity="0.62"/><line x1="119.3" y1="414.6" x2="55.6" y2="352.0" stroke="#70d8c8" stroke-width="0.55" stroke-opacity="0.62"/><line x1="177.6" y1="272.9" x2="209.6" y2="342.0" stroke="#906050" stroke-width="0.55" stroke-opacity="0.62"/><line x1="96.8" y1="231.0" x2="126.2" y2="303.7" stroke="#3050d8" stroke-width="0.55" stroke-opacity="0.62"/><line x1="74.4" y1="306.7" x2="63.4" y2="243.7" stroke="#e89030" stroke-width="0.55" stroke-opacity="0.62"/><line x1="10.7" y1="307.7" x2="68.6" y2="316.3" stroke="#b8c030" stroke-width="0.55" stroke-opacity="0.62"/><line x1="195.3" y1="386.9" x2="208.3" y2="366.5" stroke="#70e040" stroke-width="0.55" stroke-opacity="0.62"/><line x1="77.3" y1="324.7" x2="26.4" y2="266.3" stroke="#208020" stroke-width="0.55" stroke-opacity="0.62"/><line x1="17.3" y1="326.1" x2="70.6" y2="366.3" stroke="#b8c030" stroke-width="0.55" stroke-opacity="0.62"/><line x1="195.6" y1="367.5" x2="168.5" y2="395.0" stroke="#50d040" stroke-width="0.55" stroke-opacity="0.62"/><line x1="67.4" y1="368.7" x2="73.3" y2="280.6" stroke="#b0b8e0" stroke-width="0.55" stroke-opacity="0.62"/><line x1="140.3" y1="335.6" x2="122.1" y2="327.4" stroke="#407020" stroke-width="0.55" stroke-opacity="0.62"/><line x1="90.3" y1="342.5" x2="104.1" y2="348.8" stroke="#6070c0" stroke-width="0.55" stroke-opacity="0.62"/><line x1="95.9" y1="336.5" x2="99.1" y2="271.2" stroke="#6070c0" stroke-width="0.55" stroke-opacity="0.62"/><line x1="144.9" y1="366.4" x2="140.7" y2="294.2" stroke="#80d8c8" stroke-width="0.55" stroke-opacity="0.62"/><line x1="140.7" y1="294.2" x2="164.7" y2="321.0" stroke="#d03060" stroke-width="0.55" stroke-opacity="0.62"/><line x1="32.1" y1="302.3" x2="86.2" y2="337.6" stroke="#9040d0" stroke-width="0.55" stroke-opacity="0.62"/><line x1="118.4" y1="311.1" x2="153.3" y2="330.0" stroke="#e090c8" stroke-width="0.55" stroke-opacity="0.62"/><line x1="167.9" y1="318.1" x2="199.3" y2="281.8" stroke="#203070" stroke-width="0.55" stroke-opacity="0.62"/><line x1="170.6" y1="266.1" x2="185.5" y2="333.5" stroke="#906050" stroke-width="0.55" stroke-opacity="0.62"/><line x1="90.3" y1="342.5" x2="73.1" y2="258.5" stroke="#6070c0" stroke-width="0.55" stroke-opacity="0.62"/><line x1="153.1" y1="392.6" x2="119.5" y2="330.7" stroke="#3080d0" stroke-width="0.55" stroke-opacity="0.62"/><line x1="191.3" y1="335.9" x2="160.1" y2="354.8" stroke="#70d8e0" stroke-width="0.55" stroke-opacity="0.62"/><line x1="147.7" y1="289.9" x2="153.3" y2="330.0" stroke="#d03060" stroke-width="0.55" stroke-opacity="0.62"/><line x1="152.2" y1="316.1" x2="203.0" y2="297.9" stroke="#203070" stroke-width="0.55" stroke-opacity="0.62"/><line x1="126.2" y1="303.7" x2="184.7" y2="339.9" stroke="#e090c8" stroke-width="0.55" stroke-opacity="0.62"/><line x1="161.0" y1="238.2" x2="178.6" y2="308.3" stroke="#40a070" stroke-width="0.55" stroke-opacity="0.62"/><line x1="145.7" y1="340.6" x2="129.9" y2="416.8" stroke="#407020" stroke-width="0.55" stroke-opacity="0.62"/><line x1="120.3" y1="352.9" x2="122.1" y2="327.4" stroke="#d02090" stroke-width="0.55" stroke-opacity="0.62"/><line x1="151.6" y1="260.1" x2="83.8" y2="273.8" stroke="#d040d0" stroke-width="0.55" stroke-opacity="0.62"/><line x1="180.6" y1="358.6" x2="129.9" y2="416.8" stroke="#50c880" stroke-width="0.55" stroke-opacity="0.62"/><line x1="206.7" y1="318.4" x2="140.7" y2="294.2" stroke="#40d840" stroke-width="0.55" stroke-opacity="0.62"/><line x1="39.0" y1="302.0" x2="15.9" y2="272.9" stroke="#9040d0" stroke-width="0.55" stroke-opacity="0.62"/><line x1="142.1" y1="369.4" x2="74.8" y2="368.5" stroke="#a040c8" stroke-width="0.55" stroke-opacity="0.62"/><line x1="179.1" y1="299.1" x2="207.3" y2="285.6" stroke="#d090e0" stroke-width="0.55" stroke-opacity="0.62"/><line x1="154.1" y1="361.2" x2="119.5" y2="330.7" stroke="#80d8c8" stroke-width="0.55" stroke-opacity="0.62"/><line x1="206.6" y1="334.0" x2="164.8" y2="329.8" stroke="#60c8e0" stroke-width="0.55" stroke-opacity="0.62"/><line x1="107.7" y1="325.4" x2="124.5" y2="288.4" stroke="#30a060" stroke-width="0.55" stroke-opacity="0.62"/><line x1="88.0" y1="293.1" x2="33.6" y2="296.9" stroke="#c090e0" stroke-width="0.55" stroke-opacity="0.62"/><line x1="117.6" y1="380.2" x2="151.3" y2="350.4" stroke="#501020" stroke-width="0.55" stroke-opacity="0.62"/><line x1="156.6" y1="389.1" x2="118.4" y2="311.1" stroke="#c070d0" stroke-width="0.55" stroke-opacity="0.62"/><line x1="108.0" y1="351.2" x2="164.0" y2="358.9" stroke="#e05020" stroke-width="0.55" stroke-opacity="0.62"/><line x1="125.6" y1="322.9" x2="206.7" y2="361.2" stroke="#e090c8" stroke-width="0.55" stroke-opacity="0.62"/><line x1="152.3" y1="264.3" x2="183.3" y2="301.0" stroke="#d040d0" stroke-width="0.55" stroke-opacity="0.62"/><line x1="68.0" y1="258.6" x2="134.9" y2="297.5" stroke="#8020c0" stroke-width="0.55" stroke-opacity="0.62"/><line x1="149.8" y1="336.7" x2="71.5" y2="372.0" stroke="#407020" stroke-width="0.55" stroke-opacity="0.62"/><line x1="177.7" y1="355.5" x2="144.9" y2="366.4" stroke="#50c880" stroke-width="0.55" stroke-opacity="0.62"/><line x1="183.2" y1="330.2" x2="122.4" y2="315.4" stroke="#70d8e0" stroke-width="0.55" stroke-opacity="0.62"/><line x1="94.4" y1="264.8" x2="115.2" y2="287.6" stroke="#80a0e0" stroke-width="0.55" stroke-opacity="0.62"/><line x1="120.3" y1="290.6" x2="140.3" y2="335.6" stroke="#80e080" stroke-width="0.55" stroke-opacity="0.62"/><line x1="121.2" y1="306.0" x2="68.6" y2="316.3" stroke="#e090c8" stroke-width="0.55" stroke-opacity="0.62"/><line x1="68.0" y1="325.1" x2="100.6" y2="317.5" stroke="#208020" stroke-width="0.55" stroke-opacity="0.62"/><line x1="206.6" y1="334.0" x2="143.8" y2="291.1" stroke="#60c8e0" stroke-width="0.55" stroke-opacity="0.62"/><line x1="9.3" y1="318.4" x2="94.2" y2="293.9" stroke="#b8c030" stroke-width="0.55" stroke-opacity="0.62"/><line x1="67.2" y1="362.6" x2="132.8" y2="372.3" stroke="#b0b8e0" stroke-width="0.55" stroke-opacity="0.62"/><line x1="104.0" y1="327.6" x2="69.5" y2="279.1" stroke="#30a060" stroke-width="0.55" stroke-opacity="0.62"/><line x1="90.6" y1="269.4" x2="67.9" y2="310.8" stroke="#80a0e0" stroke-width="0.55" stroke-opacity="0.62"/><line x1="168.1" y1="242.2" x2="182.7" y2="293.9" stroke="#40a070" stroke-width="0.55" stroke-opacity="0.62"/><line x1="145.7" y1="340.6" x2="163.5" y2="407.9" stroke="#407020" stroke-width="0.55" stroke-opacity="0.62"/><line x1="126.2" y1="303.7" x2="189.5" y2="247.3" stroke="#e090c8" stroke-width="0.55" stroke-opacity="0.62"/><line x1="57.5" y1="348.4" x2="38.9" y2="391.3" stroke="#90e070" stroke-width="0.55" stroke-opacity="0.62"/><line x1="96.6" y1="319.8" x2="148.4" y2="390.3" stroke="#30a060" stroke-width="0.55" stroke-opacity="0.62"/><line x1="154.1" y1="361.2" x2="175.2" y2="276.3" stroke="#80d8c8" stroke-width="0.55" stroke-opacity="0.62"/><line x1="187.3" y1="304.9" x2="154.0" y2="388.5" stroke="#d090e0" stroke-width="0.55" stroke-opacity="0.62"/><line x1="48.4" y1="251.2" x2="7.4" y2="312.7" stroke="#c82020" stroke-width="0.55" stroke-opacity="0.62"/><line x1="119.5" y1="330.7" x2="184.7" y2="339.9" stroke="#c8e050" stroke-width="0.55" stroke-opacity="0.62"/><line x1="197.8" y1="391.9" x2="144.3" y2="336.8" stroke="#70e040" stroke-width="0.55" stroke-opacity="0.62"/><line x1="88.5" y1="333.2" x2="54.2" y2="256.5" stroke="#6070c0" stroke-width="0.55" stroke-opacity="0.62"/><line x1="174.5" y1="363.3" x2="123.3" y2="362.9" stroke="#50c880" stroke-width="0.55" stroke-opacity="0.62"/><line x1="126.5" y1="263.2" x2="121.0" y2="282.7" stroke="#e05010" stroke-width="0.55" stroke-opacity="0.62"/><line x1="108.0" y1="351.2" x2="55.6" y2="352.0" stroke="#e05020" stroke-width="0.55" stroke-opacity="0.62"/><line x1="64.7" y1="281.0" x2="24.8" y2="275.3" stroke="#c0a0e8" stroke-width="0.55" stroke-opacity="0.62"/><line x1="113.3" y1="356.0" x2="143.6" y2="332.7" stroke="#d02090" stroke-width="0.55" stroke-opacity="0.62"/><line x1="179.2" y1="331.8" x2="101.2" y2="352.2" stroke="#70d8e0" stroke-width="0.55" stroke-opacity="0.62"/><line x1="117.0" y1="257.9" x2="125.9" y2="338.7" stroke="#e05010" stroke-width="0.55" stroke-opacity="0.62"/><line x1="129.7" y1="342.9" x2="211.6" y2="324.4" stroke="#c8e050" stroke-width="0.55" stroke-opacity="0.62"/><line x1="16.1" y1="308.0" x2="23.0" y2="371.6" stroke="#b8c030" stroke-width="0.55" stroke-opacity="0.62"/><line x1="52.7" y1="340.6" x2="128.7" y2="307.0" stroke="#90e070" stroke-width="0.55" stroke-opacity="0.62"/><line x1="160.1" y1="354.8" x2="192.1" y2="399.0" stroke="#80d8c8" stroke-width="0.55" stroke-opacity="0.62"/><line x1="38.4" y1="397.2" x2="120.1" y2="402.4" stroke="#202810" stroke-width="0.55" stroke-opacity="0.62"/><line x1="194.5" y1="402.9" x2="167.9" y2="318.1" stroke="#70e040" stroke-width="0.55" stroke-opacity="0.62"/><line x1="179.1" y1="299.1" x2="157.4" y2="358.9" stroke="#d090e0" stroke-width="0.55" stroke-opacity="0.62"/><line x1="188.9" y1="335.9" x2="173.0" y2="352.7" stroke="#70d8e0" stroke-width="0.55" stroke-opacity="0.62"/><line x1="209.4" y1="280.2" x2="178.6" y2="308.3" stroke="#d0c080" stroke-width="0.55" stroke-opacity="0.62"/><line x1="102.9" y1="269.3" x2="181.7" y2="280.6" stroke="#80a0e0" stroke-width="0.55" stroke-opacity="0.62"/><line x1="132.8" y1="372.3" x2="86.0" y2="341.6" stroke="#a040c8" stroke-width="0.55" stroke-opacity="0.62"/><line x1="113.7" y1="272.6" x2="149.8" y2="336.7" stroke="#e05010" stroke-width="0.55" stroke-opacity="0.62"/><line x1="74.4" y1="306.7" x2="124.0" y2="266.9" stroke="#e89030" stroke-width="0.55" stroke-opacity="0.62"/><line x1="103.7" y1="355.3" x2="142.1" y2="369.4" stroke="#e05020" stroke-width="0.55" stroke-opacity="0.62"/><line x1="122.2" y1="336.0" x2="113.7" y2="353.3" stroke="#c8e050" stroke-width="0.55" stroke-opacity="0.62"/><line x1="154.1" y1="361.2" x2="177.7" y2="355.5" stroke="#80d8c8" stroke-width="0.55" stroke-opacity="0.62"/><line x1="149.8" y1="336.7" x2="146.9" y2="261.1" stroke="#407020" stroke-width="0.55" stroke-opacity="0.62"/><line x1="173.6" y1="358.5" x2="99.1" y2="341.8" stroke="#50c880" stroke-width="0.55" stroke-opacity="0.62"/><line x1="70.5" y1="250.0" x2="68.4" y2="283.3" stroke="#8020c0" stroke-width="0.55" stroke-opacity="0.62"/><line x1="194.5" y1="402.9" x2="145.0" y2="374.8" stroke="#70e040" stroke-width="0.55" stroke-opacity="0.62"/><line x1="149.8" y1="336.7" x2="104.1" y2="348.8" stroke="#407020" stroke-width="0.55" stroke-opacity="0.62"/><line x1="117.0" y1="257.9" x2="203.6" y2="241.8" stroke="#e05010" stroke-width="0.55" stroke-opacity="0.62"/><line x1="152.2" y1="316.1" x2="208.3" y2="366.5" stroke="#203070" stroke-width="0.55" stroke-opacity="0.62"/><line x1="173.9" y1="313.7" x2="165.0" y2="353.3" stroke="#203070" stroke-width="0.55" stroke-opacity="0.62"/><line x1="74.5" y1="321.0" x2="113.7" y2="272.6" stroke="#208020" stroke-width="0.55" stroke-opacity="0.62"/><line x1="100.6" y1="317.5" x2="90.7" y2="284.5" stroke="#30a060" stroke-width="0.55" stroke-opacity="0.62"/><line x1="190.3" y1="405.3" x2="130.9" y2="365.2" stroke="#70e040" stroke-width="0.55" stroke-opacity="0.62"/><line x1="121.0" y1="282.7" x2="124.6" y2="237.0" stroke="#80e080" stroke-width="0.55" stroke-opacity="0.62"/><line x1="124.6" y1="237.0" x2="41.7" y2="261.7" stroke="#40b4d0" stroke-width="0.55" stroke-opacity="0.62"/><line x1="31.8" y1="326.3" x2="90.4" y2="386.4" stroke="#205050" stroke-width="0.55" stroke-opacity="0.62"/><line x1="100.4" y1="232.9" x2="87.6" y2="234.8" stroke="#3050d8" stroke-width="0.6" stroke-opacity="0.8"/><line x1="97.5" y1="235.9" x2="87.6" y2="234.8" stroke="#3050d8" stroke-width="0.6" stroke-opacity="0.8"/><line x1="89.9" y1="236.0" x2="97.7" y2="244.1" stroke="#3050d8" stroke-width="0.6" stroke-opacity="0.8"/><line x1="93.0" y1="240.0" x2="96.8" y2="231.0" stroke="#3050d8" stroke-width="0.6" stroke-opacity="0.8"/><line x1="93.0" y1="240.0" x2="97.1" y2="240.1" stroke="#3050d8" stroke-width="0.6" stroke-opacity="0.8"/><line x1="100.8" y1="238.5" x2="96.8" y2="231.0" stroke="#3050d8" stroke-width="0.6" stroke-opacity="0.8"/><line x1="100.8" y1="238.5" x2="97.1" y2="240.1" stroke="#3050d8" stroke-width="0.6" stroke-opacity="0.8"/><line x1="97.7" y1="244.1" x2="93.4" y2="233.5" stroke="#3050d8" stroke-width="0.6" stroke-opacity="0.8"/><line x1="97.7" y1="244.1" x2="97.1" y2="240.1" stroke="#3050d8" stroke-width="0.6" stroke-opacity="0.8"/><line x1="93.4" y1="233.5" x2="97.1" y2="240.1" stroke="#3050d8" stroke-width="0.6" stroke-opacity="0.8"/><line x1="96.8" y1="231.0" x2="97.1" y2="240.1" stroke="#3050d8" stroke-width="0.6" stroke-opacity="0.8"/><line x1="96.8" y1="231.0" x2="87.6" y2="234.8" stroke="#3050d8" stroke-width="0.6" stroke-opacity="0.8"/><line x1="133.7" y1="229.1" x2="130.8" y2="235.8" stroke="#40b4d0" stroke-width="0.6" stroke-opacity="0.8"/><line x1="133.7" y1="229.1" x2="141.0" y2="231.0" stroke="#40b4d0" stroke-width="0.6" stroke-opacity="0.8"/><line x1="133.7" y1="229.1" x2="131.8" y2="218.9" stroke="#40b4d0" stroke-width="0.6" stroke-opacity="0.8"/><line x1="133.7" y1="229.1" x2="124.6" y2="237.0" stroke="#40b4d0" stroke-width="0.6" stroke-opacity="0.8"/><line x1="137.7" y1="235.6" x2="141.0" y2="231.0" stroke="#40b4d0" stroke-width="0.6" stroke-opacity="0.8"/><line x1="137.7" y1="235.6" x2="128.3" y2="231.1" stroke="#40b4d0" stroke-width="0.6" stroke-opacity="0.8"/><line x1="137.7" y1="235.6" x2="137.7" y2="227.2" stroke="#40b4d0" stroke-width="0.6" stroke-opacity="0.8"/><line x1="130.8" y1="235.8" x2="128.3" y2="231.1" stroke="#40b4d0" stroke-width="0.6" stroke-opacity="0.8"/><line x1="141.0" y1="231.0" x2="137.7" y2="227.2" stroke="#40b4d0" stroke-width="0.6" stroke-opacity="0.8"/><line x1="141.0" y1="231.0" x2="134.3" y2="233.2" stroke="#40b4d0" stroke-width="0.6" stroke-opacity="0.8"/><line x1="141.0" y1="231.0" x2="131.8" y2="218.9" stroke="#40b4d0" stroke-width="0.6" stroke-opacity="0.8"/><line x1="134.7" y1="238.7" x2="128.3" y2="231.1" stroke="#40b4d0" stroke-width="0.6" stroke-opacity="0.8"/><line x1="128.3" y1="231.1" x2="137.7" y2="227.2" stroke="#40b4d0" stroke-width="0.6" stroke-opacity="0.8"/><line x1="128.3" y1="231.1" x2="131.8" y2="218.9" stroke="#40b4d0" stroke-width="0.6" stroke-opacity="0.8"/><line x1="128.3" y1="231.1" x2="124.6" y2="237.0" stroke="#40b4d0" stroke-width="0.6" stroke-opacity="0.8"/><line x1="137.7" y1="227.2" x2="134.3" y2="233.2" stroke="#40b4d0" stroke-width="0.6" stroke-opacity="0.8"/><line x1="137.7" y1="227.2" x2="131.8" y2="218.9" stroke="#40b4d0" stroke-width="0.6" stroke-opacity="0.8"/><line x1="161.0" y1="238.2" x2="165.6" y2="238.1" stroke="#40a070" stroke-width="0.6" stroke-opacity="0.8"/><line x1="161.0" y1="238.2" x2="161.3" y2="243.0" stroke="#40a070" stroke-width="0.6" stroke-opacity="0.8"/><line x1="168.1" y1="242.2" x2="165.6" y2="238.1" stroke="#40a070" stroke-width="0.6" stroke-opacity="0.8"/><line x1="168.1" y1="242.2" x2="161.3" y2="243.0" stroke="#40a070" stroke-width="0.6" stroke-opacity="0.8"/><line x1="168.1" y1="242.2" x2="172.1" y2="240.5" stroke="#40a070" stroke-width="0.6" stroke-opacity="0.8"/><line x1="165.6" y1="238.1" x2="161.3" y2="243.0" stroke="#40a070" stroke-width="0.6" stroke-opacity="0.8"/><line x1="165.6" y1="238.1" x2="162.6" y2="233.2" stroke="#40a070" stroke-width="0.6" stroke-opacity="0.8"/><line x1="165.6" y1="238.1" x2="172.1" y2="240.5" stroke="#40a070" stroke-width="0.6" stroke-opacity="0.8"/><line x1="172.5" y1="235.9" x2="162.6" y2="233.2" stroke="#40a070" stroke-width="0.6" stroke-opacity="0.8"/><line x1="172.5" y1="235.9" x2="153.8" y2="238.9" stroke="#40a070" stroke-width="0.6" stroke-opacity="0.8"/><line x1="161.3" y1="243.0" x2="172.1" y2="240.5" stroke="#40a070" stroke-width="0.6" stroke-opacity="0.8"/><line x1="198.1" y1="247.4" x2="189.5" y2="247.3" stroke="#70e040" stroke-width="0.6" stroke-opacity="0.8"/><line x1="198.1" y1="247.4" x2="192.3" y2="251.5" stroke="#70e040" stroke-width="0.6" stroke-opacity="0.8"/><line x1="198.1" y1="247.4" x2="189.8" y2="255.4" stroke="#70e040" stroke-width="0.6" stroke-opacity="0.8"/><line x1="198.1" y1="247.4" x2="190.6" y2="263.7" stroke="#70e040" stroke-width="0.6" stroke-opacity="0.8"/><line x1="198.1" y1="247.4" x2="203.6" y2="241.8" stroke="#70e040" stroke-width="0.6" stroke-opacity="0.8"/><line x1="189.5" y1="247.3" x2="194.8" y2="244.6" stroke="#70e040" stroke-width="0.6" stroke-opacity="0.8"/><line x1="189.5" y1="247.3" x2="190.9" y2="243.5" stroke="#70e040" stroke-width="0.6" stroke-opacity="0.8"/><line x1="189.5" y1="247.3" x2="203.6" y2="241.8" stroke="#70e040" stroke-width="0.6" stroke-opacity="0.8"/><line x1="197.4" y1="253.7" x2="192.3" y2="251.5" stroke="#70e040" stroke-width="0.6" stroke-opacity="0.8"/><line x1="197.4" y1="253.7" x2="189.8" y2="255.4" stroke="#70e040" stroke-width="0.6" stroke-opacity="0.8"/><line x1="197.4" y1="253.7" x2="203.6" y2="241.8" stroke="#70e040" stroke-width="0.6" stroke-opacity="0.8"/><line x1="192.3" y1="251.5" x2="186.9" y2="251.7" stroke="#70e040" stroke-width="0.6" stroke-opacity="0.8"/><line x1="192.3" y1="251.5" x2="190.9" y2="243.5" stroke="#70e040" stroke-width="0.6" stroke-opacity="0.8"/><line x1="186.9" y1="251.7" x2="194.8" y2="244.6" stroke="#70e040" stroke-width="0.6" stroke-opacity="0.8"/><line x1="186.9" y1="251.7" x2="190.6" y2="263.7" stroke="#70e040" stroke-width="0.6" stroke-opacity="0.8"/><line x1="186.9" y1="251.7" x2="203.6" y2="241.8" stroke="#70e040" stroke-width="0.6" stroke-opacity="0.8"/><line x1="189.8" y1="255.4" x2="194.8" y2="244.6" stroke="#70e040" stroke-width="0.6" stroke-opacity="0.8"/><line x1="189.8" y1="255.4" x2="190.9" y2="243.5" stroke="#70e040" stroke-width="0.6" stroke-opacity="0.8"/><line x1="189.8" y1="255.4" x2="190.6" y2="263.7" stroke="#70e040" stroke-width="0.6" stroke-opacity="0.8"/><line x1="194.8" y1="244.6" x2="190.6" y2="263.7" stroke="#70e040" stroke-width="0.6" stroke-opacity="0.8"/><line x1="203.6" y1="241.8" x2="191.0" y2="235.3" stroke="#70e040" stroke-width="0.6" stroke-opacity="0.8"/><line x1="48.9" y1="262.1" x2="54.2" y2="256.5" stroke="#c82020" stroke-width="0.6" stroke-opacity="0.8"/><line x1="48.9" y1="262.1" x2="41.7" y2="261.7" stroke="#c82020" stroke-width="0.6" stroke-opacity="0.8"/><line x1="48.9" y1="262.1" x2="53.1" y2="261.8" stroke="#c82020" stroke-width="0.6" stroke-opacity="0.8"/><line x1="48.9" y1="262.1" x2="45.7" y2="270.0" stroke="#c82020" stroke-width="0.6" stroke-opacity="0.8"/><line x1="48.7" y1="255.9" x2="52.1" y2="253.1" stroke="#c82020" stroke-width="0.6" stroke-opacity="0.8"/><line x1="48.7" y1="255.9" x2="41.7" y2="261.7" stroke="#c82020" stroke-width="0.6" stroke-opacity="0.8"/><line x1="48.7" y1="255.9" x2="48.4" y2="251.2" stroke="#c82020" stroke-width="0.6" stroke-opacity="0.8"/><line x1="48.7" y1="255.9" x2="45.7" y2="270.0" stroke="#c82020" stroke-width="0.6" stroke-opacity="0.8"/><line x1="52.1" y1="253.1" x2="44.7" y2="252.9" stroke="#c82020" stroke-width="0.6" stroke-opacity="0.8"/><line x1="52.1" y1="253.1" x2="45.3" y2="263.9" stroke="#c82020" stroke-width="0.6" stroke-opacity="0.8"/><line x1="52.1" y1="253.1" x2="45.7" y2="270.0" stroke="#c82020" stroke-width="0.6" stroke-opacity="0.8"/><line x1="44.3" y1="257.0" x2="41.7" y2="261.7" stroke="#c82020" stroke-width="0.6" stroke-opacity="0.8"/><line x1="44.3" y1="257.0" x2="53.1" y2="261.8" stroke="#c82020" stroke-width="0.6" stroke-opacity="0.8"/><line x1="44.3" y1="257.0" x2="48.4" y2="251.2" stroke="#c82020" stroke-width="0.6" stroke-opacity="0.8"/><line x1="44.3" y1="257.0" x2="38.4" y2="269.3" stroke="#c82020" stroke-width="0.6" stroke-opacity="0.8"/><line x1="44.7" y1="252.9" x2="48.4" y2="251.2" stroke="#c82020" stroke-width="0.6" stroke-opacity="0.8"/><line x1="54.2" y1="256.5" x2="41.7" y2="261.7" stroke="#c82020" stroke-width="0.6" stroke-opacity="0.8"/><line x1="54.2" y1="256.5" x2="45.3" y2="263.9" stroke="#c82020" stroke-width="0.6" stroke-opacity="0.8"/><line x1="54.2" y1="256.5" x2="48.4" y2="251.2" stroke="#c82020" stroke-width="0.6" stroke-opacity="0.8"/><line x1="54.2" y1="256.5" x2="38.4" y2="269.3" stroke="#c82020" stroke-width="0.6" stroke-opacity="0.8"/><line x1="41.7" y1="261.7" x2="45.7" y2="270.0" stroke="#c82020" stroke-width="0.6" stroke-opacity="0.8"/><line x1="45.3" y1="263.9" x2="48.4" y2="251.2" stroke="#c82020" stroke-width="0.6" stroke-opacity="0.8"/><line x1="45.3" y1="263.9" x2="38.4" y2="269.3" stroke="#c82020" stroke-width="0.6" stroke-opacity="0.8"/><line x1="53.1" y1="261.8" x2="48.4" y2="251.2" stroke="#c82020" stroke-width="0.6" stroke-opacity="0.8"/><line x1="48.4" y1="251.2" x2="45.7" y2="270.0" stroke="#c82020" stroke-width="0.6" stroke-opacity="0.8"/><line x1="75.1" y1="250.2" x2="73.1" y2="258.5" stroke="#8020c0" stroke-width="0.6" stroke-opacity="0.8"/><line x1="75.1" y1="250.2" x2="70.5" y2="250.0" stroke="#8020c0" stroke-width="0.6" stroke-opacity="0.8"/><line x1="75.1" y1="250.2" x2="75.9" y2="254.8" stroke="#8020c0" stroke-width="0.6" stroke-opacity="0.8"/><line x1="75.1" y1="250.2" x2="64.8" y2="255.6" stroke="#8020c0" stroke-width="0.6" stroke-opacity="0.8"/><line x1="75.1" y1="250.2" x2="72.4" y2="246.1" stroke="#8020c0" stroke-width="0.6" stroke-opacity="0.8"/><line x1="75.1" y1="250.2" x2="63.4" y2="243.7" stroke="#8020c0" stroke-width="0.6" stroke-opacity="0.8"/><line x1="68.7" y1="254.6" x2="73.1" y2="258.5" stroke="#8020c0" stroke-width="0.6" stroke-opacity="0.8"/><line x1="68.7" y1="254.6" x2="75.9" y2="254.8" stroke="#8020c0" stroke-width="0.6" stroke-opacity="0.8"/><line x1="68.7" y1="254.6" x2="72.4" y2="246.1" stroke="#8020c0" stroke-width="0.6" stroke-opacity="0.8"/><line x1="68.7" y1="254.6" x2="63.4" y2="243.7" stroke="#8020c0" stroke-width="0.6" stroke-opacity="0.8"/><line x1="65.8" y1="250.0" x2="73.1" y2="258.5" stroke="#8020c0" stroke-width="0.6" stroke-opacity="0.8"/><line x1="65.8" y1="250.0" x2="72.4" y2="246.1" stroke="#8020c0" stroke-width="0.6" stroke-opacity="0.8"/><line x1="65.8" y1="250.0" x2="63.4" y2="243.7" stroke="#8020c0" stroke-width="0.6" stroke-opacity="0.8"/><line x1="73.1" y1="258.5" x2="72.4" y2="246.1" stroke="#8020c0" stroke-width="0.6" stroke-opacity="0.8"/><line x1="73.1" y1="258.5" x2="63.4" y2="243.7" stroke="#8020c0" stroke-width="0.6" stroke-opacity="0.8"/><line x1="70.5" y1="250.0" x2="75.9" y2="254.8" stroke="#8020c0" stroke-width="0.6" stroke-opacity="0.8"/><line x1="70.5" y1="250.0" x2="64.8" y2="255.6" stroke="#8020c0" stroke-width="0.6" stroke-opacity="0.8"/><line x1="70.5" y1="250.0" x2="63.4" y2="243.7" stroke="#8020c0" stroke-width="0.6" stroke-opacity="0.8"/><line x1="75.9" y1="254.8" x2="68.0" y2="258.6" stroke="#8020c0" stroke-width="0.6" stroke-opacity="0.8"/><line x1="75.9" y1="254.8" x2="72.4" y2="246.1" stroke="#8020c0" stroke-width="0.6" stroke-opacity="0.8"/><line x1="68.0" y1="258.6" x2="72.4" y2="246.1" stroke="#8020c0" stroke-width="0.6" stroke-opacity="0.8"/><line x1="121.0" y1="263.6" x2="116.1" y2="267.1" stroke="#e05010" stroke-width="0.6" stroke-opacity="0.8"/><line x1="121.0" y1="263.6" x2="113.7" y2="272.6" stroke="#e05010" stroke-width="0.6" stroke-opacity="0.8"/><line x1="117.0" y1="257.9" x2="124.0" y2="266.9" stroke="#e05010" stroke-width="0.6" stroke-opacity="0.8"/><line x1="117.0" y1="257.9" x2="112.8" y2="257.6" stroke="#e05010" stroke-width="0.6" stroke-opacity="0.8"/><line x1="116.1" y1="267.1" x2="113.7" y2="272.6" stroke="#e05010" stroke-width="0.6" stroke-opacity="0.8"/><line x1="126.5" y1="263.2" x2="112.6" y2="263.9" stroke="#e05010" stroke-width="0.6" stroke-opacity="0.8"/><line x1="120.4" y1="268.9" x2="121.5" y2="259.4" stroke="#e05010" stroke-width="0.6" stroke-opacity="0.8"/><line x1="120.4" y1="268.9" x2="124.0" y2="266.9" stroke="#e05010" stroke-width="0.6" stroke-opacity="0.8"/><line x1="120.4" y1="268.9" x2="116.4" y2="275.2" stroke="#e05010" stroke-width="0.6" stroke-opacity="0.8"/><line x1="120.4" y1="268.9" x2="113.7" y2="272.6" stroke="#e05010" stroke-width="0.6" stroke-opacity="0.8"/><line x1="121.5" y1="259.4" x2="124.0" y2="266.9" stroke="#e05010" stroke-width="0.6" stroke-opacity="0.8"/><line x1="121.5" y1="259.4" x2="112.6" y2="263.9" stroke="#e05010" stroke-width="0.6" stroke-opacity="0.8"/><line x1="121.5" y1="259.4" x2="116.4" y2="275.2" stroke="#e05010" stroke-width="0.6" stroke-opacity="0.8"/><line x1="121.5" y1="259.4" x2="112.8" y2="257.6" stroke="#e05010" stroke-width="0.6" stroke-opacity="0.8"/><line x1="124.0" y1="266.9" x2="116.4" y2="275.2" stroke="#e05010" stroke-width="0.6" stroke-opacity="0.8"/><line x1="112.6" y1="263.9" x2="116.4" y2="275.2" stroke="#e05010" stroke-width="0.6" stroke-opacity="0.8"/><line x1="112.6" y1="263.9" x2="112.8" y2="257.6" stroke="#e05010" stroke-width="0.6" stroke-opacity="0.8"/><line x1="116.4" y1="275.2" x2="113.7" y2="272.6" stroke="#e05010" stroke-width="0.6" stroke-opacity="0.8"/><line x1="116.4" y1="275.2" x2="112.8" y2="257.6" stroke="#e05010" stroke-width="0.6" stroke-opacity="0.8"/><line x1="113.7" y1="272.6" x2="112.8" y2="257.6" stroke="#e05010" stroke-width="0.6" stroke-opacity="0.8"/><line x1="146.9" y1="261.1" x2="136.4" y2="269.8" stroke="#d040d0" stroke-width="0.6" stroke-opacity="0.8"/><line x1="151.6" y1="260.1" x2="149.5" y2="254.2" stroke="#d040d0" stroke-width="0.6" stroke-opacity="0.8"/><line x1="149.5" y1="254.2" x2="144.2" y2="264.5" stroke="#d040d0" stroke-width="0.6" stroke-opacity="0.8"/><line x1="149.5" y1="254.2" x2="140.2" y2="259.1" stroke="#d040d0" stroke-width="0.6" stroke-opacity="0.8"/><line x1="140.2" y1="259.1" x2="147.9" y2="266.3" stroke="#d040d0" stroke-width="0.6" stroke-opacity="0.8"/><line x1="143.8" y1="254.1" x2="136.4" y2="269.8" stroke="#d040d0" stroke-width="0.6" stroke-opacity="0.8"/><line x1="152.3" y1="264.3" x2="136.4" y2="269.8" stroke="#d040d0" stroke-width="0.6" stroke-opacity="0.8"/><line x1="170.6" y1="266.1" x2="175.2" y2="276.3" stroke="#906050" stroke-width="0.6" stroke-opacity="0.8"/><line x1="170.6" y1="266.1" x2="173.9" y2="269.8" stroke="#906050" stroke-width="0.6" stroke-opacity="0.8"/><line x1="170.6" y1="266.1" x2="181.7" y2="280.6" stroke="#906050" stroke-width="0.6" stroke-opacity="0.8"/><line x1="177.6" y1="272.9" x2="175.2" y2="276.3" stroke="#906050" stroke-width="0.6" stroke-opacity="0.8"/><line x1="177.6" y1="272.9" x2="177.4" y2="267.2" stroke="#906050" stroke-width="0.6" stroke-opacity="0.8"/><line x1="177.6" y1="272.9" x2="171.4" y2="272.9" stroke="#906050" stroke-width="0.6" stroke-opacity="0.8"/><line x1="177.6" y1="272.9" x2="168.8" y2="269.8" stroke="#906050" stroke-width="0.6" stroke-opacity="0.8"/><line x1="181.2" y1="269.8" x2="176.9" y2="263.1" stroke="#906050" stroke-width="0.6" stroke-opacity="0.8"/><line x1="175.2" y1="276.3" x2="173.9" y2="269.8" stroke="#906050" stroke-width="0.6" stroke-opacity="0.8"/><line x1="175.2" y1="276.3" x2="171.4" y2="272.9" stroke="#906050" stroke-width="0.6" stroke-opacity="0.8"/><line x1="175.2" y1="276.3" x2="181.7" y2="280.6" stroke="#906050" stroke-width="0.6" stroke-opacity="0.8"/><line x1="177.4" y1="267.2" x2="181.7" y2="280.6" stroke="#906050" stroke-width="0.6" stroke-opacity="0.8"/><line x1="173.9" y1="269.8" x2="171.4" y2="272.9" stroke="#906050" stroke-width="0.6" stroke-opacity="0.8"/><line x1="173.9" y1="269.8" x2="181.7" y2="280.6" stroke="#906050" stroke-width="0.6" stroke-opacity="0.8"/><line x1="171.4" y1="272.9" x2="181.7" y2="280.6" stroke="#906050" stroke-width="0.6" stroke-opacity="0.8"/><line x1="22.0" y1="271.9" x2="24.8" y2="275.3" stroke="#80e040" stroke-width="0.6" stroke-opacity="0.8"/><line x1="22.0" y1="271.9" x2="22.2" y2="267.3" stroke="#80e040" stroke-width="0.6" stroke-opacity="0.8"/><line x1="22.0" y1="271.9" x2="26.4" y2="266.3" stroke="#80e040" stroke-width="0.6" stroke-opacity="0.8"/><line x1="24.8" y1="275.3" x2="15.9" y2="272.9" stroke="#80e040" stroke-width="0.6" stroke-opacity="0.8"/><line x1="24.8" y1="275.3" x2="26.4" y2="266.3" stroke="#80e040" stroke-width="0.6" stroke-opacity="0.8"/><line x1="24.8" y1="275.3" x2="30.7" y2="268.1" stroke="#80e040" stroke-width="0.6" stroke-opacity="0.8"/><line x1="17.9" y1="267.1" x2="22.2" y2="267.3" stroke="#80e040" stroke-width="0.6" stroke-opacity="0.8"/><line x1="22.2" y1="267.3" x2="20.0" y2="276.3" stroke="#80e040" stroke-width="0.6" stroke-opacity="0.8"/><line x1="22.2" y1="267.3" x2="15.9" y2="272.9" stroke="#80e040" stroke-width="0.6" stroke-opacity="0.8"/><line x1="20.0" y1="276.3" x2="30.7" y2="268.1" stroke="#80e040" stroke-width="0.6" stroke-opacity="0.8"/><line x1="27.3" y1="271.7" x2="15.9" y2="272.9" stroke="#80e040" stroke-width="0.6" stroke-opacity="0.8"/><line x1="27.3" y1="271.7" x2="26.4" y2="266.3" stroke="#80e040" stroke-width="0.6" stroke-opacity="0.8"/><line x1="27.3" y1="271.7" x2="30.7" y2="268.1" stroke="#80e040" stroke-width="0.6" stroke-opacity="0.8"/><line x1="15.9" y1="272.9" x2="26.4" y2="266.3" stroke="#80e040" stroke-width="0.6" stroke-opacity="0.8"/><line x1="26.4" y1="266.3" x2="30.7" y2="268.1" stroke="#80e040" stroke-width="0.6" stroke-opacity="0.8"/><line x1="98.1" y1="266.7" x2="99.1" y2="271.2" stroke="#80a0e0" stroke-width="0.6" stroke-opacity="0.8"/><line x1="98.1" y1="266.7" x2="90.6" y2="269.4" stroke="#80a0e0" stroke-width="0.6" stroke-opacity="0.8"/><line x1="98.1" y1="266.7" x2="98.1" y2="276.3" stroke="#80a0e0" stroke-width="0.6" stroke-opacity="0.8"/><line x1="98.1" y1="266.7" x2="93.2" y2="275.8" stroke="#80a0e0" stroke-width="0.6" stroke-opacity="0.8"/><line x1="98.1" y1="266.7" x2="94.6" y2="283.2" stroke="#80a0e0" stroke-width="0.6" stroke-opacity="0.8"/><line x1="99.1" y1="271.2" x2="90.6" y2="269.4" stroke="#80a0e0" stroke-width="0.6" stroke-opacity="0.8"/><line x1="99.1" y1="271.2" x2="94.4" y2="264.8" stroke="#80a0e0" stroke-width="0.6" stroke-opacity="0.8"/><line x1="99.1" y1="271.2" x2="98.1" y2="276.3" stroke="#80a0e0" stroke-width="0.6" stroke-opacity="0.8"/><line x1="99.1" y1="271.2" x2="102.7" y2="261.1" stroke="#80a0e0" stroke-width="0.6" stroke-opacity="0.8"/><line x1="90.6" y1="269.4" x2="93.2" y2="275.8" stroke="#80a0e0" stroke-width="0.6" stroke-opacity="0.8"/><line x1="90.6" y1="269.4" x2="102.9" y2="269.3" stroke="#80a0e0" stroke-width="0.6" stroke-opacity="0.8"/><line x1="90.6" y1="269.4" x2="94.6" y2="283.2" stroke="#80a0e0" stroke-width="0.6" stroke-opacity="0.8"/><line x1="90.6" y1="269.4" x2="83.8" y2="273.8" stroke="#80a0e0" stroke-width="0.6" stroke-opacity="0.8"/><line x1="94.4" y1="264.8" x2="94.6" y2="283.2" stroke="#80a0e0" stroke-width="0.6" stroke-opacity="0.8"/><line x1="94.4" y1="264.8" x2="102.7" y2="261.1" stroke="#80a0e0" stroke-width="0.6" stroke-opacity="0.8"/><line x1="94.0" y1="271.6" x2="93.2" y2="275.8" stroke="#80a0e0" stroke-width="0.6" stroke-opacity="0.8"/><line x1="94.0" y1="271.6" x2="94.6" y2="283.2" stroke="#80a0e0" stroke-width="0.6" stroke-opacity="0.8"/><line x1="94.0" y1="271.6" x2="83.8" y2="273.8" stroke="#80a0e0" stroke-width="0.6" stroke-opacity="0.8"/><line x1="98.1" y1="276.3" x2="83.8" y2="273.8" stroke="#80a0e0" stroke-width="0.6" stroke-opacity="0.8"/><line x1="102.9" y1="269.3" x2="94.6" y2="283.2" stroke="#80a0e0" stroke-width="0.6" stroke-opacity="0.8"/><line x1="102.9" y1="269.3" x2="83.8" y2="273.8" stroke="#80a0e0" stroke-width="0.6" stroke-opacity="0.8"/><line x1="94.6" y1="283.2" x2="83.8" y2="273.8" stroke="#80a0e0" stroke-width="0.6" stroke-opacity="0.8"/><line x1="69.5" y1="279.1" x2="61.4" y2="277.8" stroke="#c0a0e8" stroke-width="0.6" stroke-opacity="0.8"/><line x1="69.5" y1="279.1" x2="68.0" y2="287.5" stroke="#c0a0e8" stroke-width="0.6" stroke-opacity="0.8"/><line x1="69.5" y1="279.1" x2="64.7" y2="281.0" stroke="#c0a0e8" stroke-width="0.6" stroke-opacity="0.8"/><line x1="69.5" y1="279.1" x2="65.0" y2="275.6" stroke="#c0a0e8" stroke-width="0.6" stroke-opacity="0.8"/><line x1="62.6" y1="287.3" x2="68.4" y2="283.3" stroke="#c0a0e8" stroke-width="0.6" stroke-opacity="0.8"/><line x1="62.6" y1="287.3" x2="68.0" y2="287.5" stroke="#c0a0e8" stroke-width="0.6" stroke-opacity="0.8"/><line x1="62.6" y1="287.3" x2="64.7" y2="281.0" stroke="#c0a0e8" stroke-width="0.6" stroke-opacity="0.8"/><line x1="62.6" y1="287.3" x2="65.0" y2="275.6" stroke="#c0a0e8" stroke-width="0.6" stroke-opacity="0.8"/><line x1="68.4" y1="283.3" x2="64.7" y2="281.0" stroke="#c0a0e8" stroke-width="0.6" stroke-opacity="0.8"/><line x1="68.4" y1="283.3" x2="65.0" y2="275.6" stroke="#c0a0e8" stroke-width="0.6" stroke-opacity="0.8"/><line x1="68.4" y1="283.3" x2="73.3" y2="280.6" stroke="#c0a0e8" stroke-width="0.6" stroke-opacity="0.8"/><line x1="60.9" y1="282.5" x2="61.4" y2="277.8" stroke="#c0a0e8" stroke-width="0.6" stroke-opacity="0.8"/><line x1="60.9" y1="282.5" x2="64.7" y2="281.0" stroke="#c0a0e8" stroke-width="0.6" stroke-opacity="0.8"/><line x1="60.9" y1="282.5" x2="65.0" y2="275.6" stroke="#c0a0e8" stroke-width="0.6" stroke-opacity="0.8"/><line x1="60.9" y1="282.5" x2="74.8" y2="289.2" stroke="#c0a0e8" stroke-width="0.6" stroke-opacity="0.8"/><line x1="68.0" y1="287.5" x2="64.7" y2="281.0" stroke="#c0a0e8" stroke-width="0.6" stroke-opacity="0.8"/><line x1="68.0" y1="287.5" x2="65.0" y2="275.6" stroke="#c0a0e8" stroke-width="0.6" stroke-opacity="0.8"/><line x1="68.0" y1="287.5" x2="73.3" y2="280.6" stroke="#c0a0e8" stroke-width="0.6" stroke-opacity="0.8"/><line x1="64.7" y1="281.0" x2="65.0" y2="275.6" stroke="#c0a0e8" stroke-width="0.6" stroke-opacity="0.8"/><line x1="65.0" y1="275.6" x2="72.4" y2="284.8" stroke="#c0a0e8" stroke-width="0.6" stroke-opacity="0.8"/><line x1="96.1" y1="288.3" x2="94.3" y2="282.3" stroke="#c090e0" stroke-width="0.6" stroke-opacity="0.8"/><line x1="94.3" y1="282.3" x2="91.7" y2="289.6" stroke="#c090e0" stroke-width="0.6" stroke-opacity="0.8"/><line x1="94.3" y1="282.3" x2="85.9" y2="284.8" stroke="#c090e0" stroke-width="0.6" stroke-opacity="0.8"/><line x1="90.7" y1="284.5" x2="85.9" y2="284.8" stroke="#c090e0" stroke-width="0.6" stroke-opacity="0.8"/><line x1="90.7" y1="284.5" x2="78.6" y2="282.7" stroke="#c090e0" stroke-width="0.6" stroke-opacity="0.8"/><line x1="91.7" y1="289.6" x2="86.4" y2="289.0" stroke="#c090e0" stroke-width="0.6" stroke-opacity="0.8"/><line x1="88.0" y1="293.1" x2="94.2" y2="293.9" stroke="#c090e0" stroke-width="0.6" stroke-opacity="0.8"/><line x1="88.0" y1="293.1" x2="86.4" y2="289.0" stroke="#c090e0" stroke-width="0.6" stroke-opacity="0.8"/><line x1="94.2" y1="293.9" x2="85.9" y2="284.8" stroke="#c090e0" stroke-width="0.6" stroke-opacity="0.8"/><line x1="85.9" y1="284.8" x2="78.6" y2="282.7" stroke="#c090e0" stroke-width="0.6" stroke-opacity="0.8"/><line x1="124.5" y1="288.4" x2="116.9" y2="283.3" stroke="#80e080" stroke-width="0.6" stroke-opacity="0.8"/><line x1="124.5" y1="288.4" x2="106.2" y2="286.7" stroke="#80e080" stroke-width="0.6" stroke-opacity="0.8"/><line x1="120.3" y1="290.6" x2="115.2" y2="287.6" stroke="#80e080" stroke-width="0.6" stroke-opacity="0.8"/><line x1="120.3" y1="290.6" x2="114.3" y2="293.2" stroke="#80e080" stroke-width="0.6" stroke-opacity="0.8"/><line x1="120.3" y1="290.6" x2="116.9" y2="283.3" stroke="#80e080" stroke-width="0.6" stroke-opacity="0.8"/><line x1="120.3" y1="290.6" x2="118.9" y2="294.5" stroke="#80e080" stroke-width="0.6" stroke-opacity="0.8"/><line x1="115.2" y1="287.6" x2="114.3" y2="293.2" stroke="#80e080" stroke-width="0.6" stroke-opacity="0.8"/><line x1="115.2" y1="287.6" x2="118.9" y2="294.5" stroke="#80e080" stroke-width="0.6" stroke-opacity="0.8"/><line x1="121.0" y1="282.7" x2="116.9" y2="283.3" stroke="#80e080" stroke-width="0.6" stroke-opacity="0.8"/><line x1="121.0" y1="282.7" x2="118.9" y2="294.5" stroke="#80e080" stroke-width="0.6" stroke-opacity="0.8"/><line x1="114.3" y1="293.2" x2="118.9" y2="294.5" stroke="#80e080" stroke-width="0.6" stroke-opacity="0.8"/><line x1="114.3" y1="293.2" x2="106.2" y2="286.7" stroke="#80e080" stroke-width="0.6" stroke-opacity="0.8"/><line x1="116.9" y1="283.3" x2="118.9" y2="294.5" stroke="#80e080" stroke-width="0.6" stroke-opacity="0.8"/><line x1="119.7" y1="286.6" x2="118.9" y2="294.5" stroke="#80e080" stroke-width="0.6" stroke-opacity="0.8"/><line x1="119.7" y1="286.6" x2="106.2" y2="286.7" stroke="#80e080" stroke-width="0.6" stroke-opacity="0.8"/><line x1="139.7" y1="289.5" x2="147.7" y2="289.9" stroke="#d03060" stroke-width="0.6" stroke-opacity="0.8"/><line x1="139.7" y1="289.5" x2="136.1" y2="276.0" stroke="#d03060" stroke-width="0.6" stroke-opacity="0.8"/><line x1="139.7" y1="289.5" x2="133.4" y2="298.3" stroke="#d03060" stroke-width="0.6" stroke-opacity="0.8"/><line x1="144.2" y1="286.0" x2="143.8" y2="291.1" stroke="#d03060" stroke-width="0.6" stroke-opacity="0.8"/><line x1="144.2" y1="286.0" x2="136.0" y2="286.5" stroke="#d03060" stroke-width="0.6" stroke-opacity="0.8"/><line x1="144.2" y1="286.0" x2="147.7" y2="289.9" stroke="#d03060" stroke-width="0.6" stroke-opacity="0.8"/><line x1="144.2" y1="286.0" x2="136.1" y2="276.0" stroke="#d03060" stroke-width="0.6" stroke-opacity="0.8"/><line x1="136.7" y1="292.4" x2="136.0" y2="286.5" stroke="#d03060" stroke-width="0.6" stroke-opacity="0.8"/><line x1="136.7" y1="292.4" x2="138.7" y2="283.3" stroke="#d03060" stroke-width="0.6" stroke-opacity="0.8"/><line x1="136.7" y1="292.4" x2="133.4" y2="298.3" stroke="#d03060" stroke-width="0.6" stroke-opacity="0.8"/><line x1="140.7" y1="294.2" x2="134.9" y2="297.5" stroke="#d03060" stroke-width="0.6" stroke-opacity="0.8"/><line x1="143.8" y1="291.1" x2="142.7" y2="282.2" stroke="#d03060" stroke-width="0.6" stroke-opacity="0.8"/><line x1="143.8" y1="291.1" x2="147.7" y2="289.9" stroke="#d03060" stroke-width="0.6" stroke-opacity="0.8"/><line x1="136.0" y1="286.5" x2="134.9" y2="297.5" stroke="#d03060" stroke-width="0.6" stroke-opacity="0.8"/><line x1="138.7" y1="283.3" x2="142.7" y2="282.2" stroke="#d03060" stroke-width="0.6" stroke-opacity="0.8"/><line x1="138.7" y1="283.3" x2="134.9" y2="297.5" stroke="#d03060" stroke-width="0.6" stroke-opacity="0.8"/><line x1="142.7" y1="282.2" x2="147.7" y2="289.9" stroke="#d03060" stroke-width="0.6" stroke-opacity="0.8"/><line x1="142.7" y1="282.2" x2="134.9" y2="297.5" stroke="#d03060" stroke-width="0.6" stroke-opacity="0.8"/><line x1="136.1" y1="276.0" x2="134.9" y2="297.5" stroke="#d03060" stroke-width="0.6" stroke-opacity="0.8"/><line x1="203.4" y1="281.9" x2="209.4" y2="280.2" stroke="#d0c080" stroke-width="0.6" stroke-opacity="0.8"/><line x1="203.4" y1="281.9" x2="205.4" y2="290.4" stroke="#d0c080" stroke-width="0.6" stroke-opacity="0.8"/><line x1="203.4" y1="281.9" x2="200.9" y2="278.0" stroke="#d0c080" stroke-width="0.6" stroke-opacity="0.8"/><line x1="203.4" y1="281.9" x2="203.0" y2="297.9" stroke="#d0c080" stroke-width="0.6" stroke-opacity="0.8"/><line x1="207.3" y1="285.6" x2="201.4" y2="286.9" stroke="#d0c080" stroke-width="0.6" stroke-opacity="0.8"/><line x1="207.3" y1="285.6" x2="199.3" y2="281.8" stroke="#d0c080" stroke-width="0.6" stroke-opacity="0.8"/><line x1="207.3" y1="285.6" x2="205.4" y2="290.4" stroke="#d0c080" stroke-width="0.6" stroke-opacity="0.8"/><line x1="207.3" y1="285.6" x2="200.9" y2="278.0" stroke="#d0c080" stroke-width="0.6" stroke-opacity="0.8"/><line x1="201.4" y1="286.9" x2="199.3" y2="281.8" stroke="#d0c080" stroke-width="0.6" stroke-opacity="0.8"/><line x1="201.4" y1="286.9" x2="197.2" y2="285.6" stroke="#d0c080" stroke-width="0.6" stroke-opacity="0.8"/><line x1="209.4" y1="280.2" x2="205.0" y2="277.9" stroke="#d0c080" stroke-width="0.6" stroke-opacity="0.8"/><line x1="209.4" y1="280.2" x2="200.9" y2="278.0" stroke="#d0c080" stroke-width="0.6" stroke-opacity="0.8"/><line x1="209.4" y1="280.2" x2="203.0" y2="297.9" stroke="#d0c080" stroke-width="0.6" stroke-opacity="0.8"/><line x1="199.3" y1="281.8" x2="205.4" y2="290.4" stroke="#d0c080" stroke-width="0.6" stroke-opacity="0.8"/><line x1="199.3" y1="281.8" x2="205.0" y2="277.9" stroke="#d0c080" stroke-width="0.6" stroke-opacity="0.8"/><line x1="199.3" y1="281.8" x2="212.5" y2="275.1" stroke="#d0c080" stroke-width="0.6" stroke-opacity="0.8"/><line x1="205.4" y1="290.4" x2="203.0" y2="297.9" stroke="#d0c080" stroke-width="0.6" stroke-opacity="0.8"/><line x1="205.0" y1="277.9" x2="197.2" y2="285.6" stroke="#d0c080" stroke-width="0.6" stroke-opacity="0.8"/><line x1="200.9" y1="278.0" x2="197.2" y2="285.6" stroke="#d0c080" stroke-width="0.6" stroke-opacity="0.8"/><line x1="197.2" y1="285.6" x2="212.5" y2="275.1" stroke="#d0c080" stroke-width="0.6" stroke-opacity="0.8"/><line x1="203.0" y1="297.9" x2="212.5" y2="275.1" stroke="#d0c080" stroke-width="0.6" stroke-opacity="0.8"/><line x1="33.6" y1="296.9" x2="32.1" y2="302.3" stroke="#9040d0" stroke-width="0.6" stroke-opacity="0.8"/><line x1="33.6" y1="296.9" x2="28.2" y2="299.4" stroke="#9040d0" stroke-width="0.6" stroke-opacity="0.8"/><line x1="33.6" y1="296.9" x2="35.1" y2="304.9" stroke="#9040d0" stroke-width="0.6" stroke-opacity="0.8"/><line x1="33.6" y1="296.9" x2="21.0" y2="290.5" stroke="#9040d0" stroke-width="0.6" stroke-opacity="0.8"/><line x1="33.6" y1="296.9" x2="41.1" y2="310.4" stroke="#9040d0" stroke-width="0.6" stroke-opacity="0.8"/><line x1="38.6" y1="295.7" x2="32.1" y2="302.3" stroke="#9040d0" stroke-width="0.6" stroke-opacity="0.8"/><line x1="38.6" y1="295.7" x2="35.1" y2="304.9" stroke="#9040d0" stroke-width="0.6" stroke-opacity="0.8"/><line x1="38.6" y1="295.7" x2="21.0" y2="290.5" stroke="#9040d0" stroke-width="0.6" stroke-opacity="0.8"/><line x1="38.6" y1="295.7" x2="41.1" y2="310.4" stroke="#9040d0" stroke-width="0.6" stroke-opacity="0.8"/><line x1="32.1" y1="302.3" x2="29.8" y2="295.4" stroke="#9040d0" stroke-width="0.6" stroke-opacity="0.8"/><line x1="32.1" y1="302.3" x2="24.3" y2="295.4" stroke="#9040d0" stroke-width="0.6" stroke-opacity="0.8"/><line x1="32.1" y1="302.3" x2="21.0" y2="290.5" stroke="#9040d0" stroke-width="0.6" stroke-opacity="0.8"/><line x1="32.1" y1="302.3" x2="41.1" y2="310.4" stroke="#9040d0" stroke-width="0.6" stroke-opacity="0.8"/><line x1="29.8" y1="295.4" x2="35.1" y2="304.9" stroke="#9040d0" stroke-width="0.6" stroke-opacity="0.8"/><line x1="33.9" y1="292.1" x2="28.2" y2="299.4" stroke="#9040d0" stroke-width="0.6" stroke-opacity="0.8"/><line x1="33.9" y1="292.1" x2="21.0" y2="290.5" stroke="#9040d0" stroke-width="0.6" stroke-opacity="0.8"/><line x1="39.0" y1="302.0" x2="28.2" y2="299.4" stroke="#9040d0" stroke-width="0.6" stroke-opacity="0.8"/><line x1="39.0" y1="302.0" x2="24.3" y2="295.4" stroke="#9040d0" stroke-width="0.6" stroke-opacity="0.8"/><line x1="28.2" y1="299.4" x2="41.1" y2="310.4" stroke="#9040d0" stroke-width="0.6" stroke-opacity="0.8"/><line x1="35.1" y1="304.9" x2="24.3" y2="295.4" stroke="#9040d0" stroke-width="0.6" stroke-opacity="0.8"/><line x1="35.1" y1="304.9" x2="21.0" y2="290.5" stroke="#9040d0" stroke-width="0.6" stroke-opacity="0.8"/><line x1="35.1" y1="304.9" x2="41.1" y2="310.4" stroke="#9040d0" stroke-width="0.6" stroke-opacity="0.8"/><line x1="24.3" y1="295.4" x2="21.0" y2="290.5" stroke="#9040d0" stroke-width="0.6" stroke-opacity="0.8"/><line x1="21.0" y1="290.5" x2="41.1" y2="310.4" stroke="#9040d0" stroke-width="0.6" stroke-opacity="0.8"/><line x1="71.7" y1="311.4" x2="67.6" y2="303.5" stroke="#e89030" stroke-width="0.6" stroke-opacity="0.8"/><line x1="71.7" y1="311.4" x2="65.8" y2="294.9" stroke="#e89030" stroke-width="0.6" stroke-opacity="0.8"/><line x1="67.6" y1="303.5" x2="73.2" y2="302.4" stroke="#e89030" stroke-width="0.6" stroke-opacity="0.8"/><line x1="67.6" y1="303.5" x2="65.5" y2="311.6" stroke="#e89030" stroke-width="0.6" stroke-opacity="0.8"/><line x1="67.6" y1="303.5" x2="65.8" y2="294.9" stroke="#e89030" stroke-width="0.6" stroke-opacity="0.8"/><line x1="73.2" y1="302.4" x2="65.8" y2="294.9" stroke="#e89030" stroke-width="0.6" stroke-opacity="0.8"/><line x1="64.2" y1="305.8" x2="65.5" y2="311.6" stroke="#e89030" stroke-width="0.6" stroke-opacity="0.8"/><line x1="68.8" y1="308.7" x2="65.8" y2="294.9" stroke="#e89030" stroke-width="0.6" stroke-opacity="0.8"/><line x1="74.4" y1="306.7" x2="69.7" y2="299.6" stroke="#e89030" stroke-width="0.6" stroke-opacity="0.8"/><line x1="127.9" y1="313.1" x2="121.2" y2="306.0" stroke="#e090c8" stroke-width="0.6" stroke-opacity="0.8"/><line x1="127.9" y1="313.1" x2="128.7" y2="307.0" stroke="#e090c8" stroke-width="0.6" stroke-opacity="0.8"/><line x1="127.9" y1="313.1" x2="122.4" y2="315.4" stroke="#e090c8" stroke-width="0.6" stroke-opacity="0.8"/><line x1="121.2" y1="306.0" x2="126.2" y2="303.7" stroke="#e090c8" stroke-width="0.6" stroke-opacity="0.8"/><line x1="121.2" y1="306.0" x2="123.0" y2="311.1" stroke="#e090c8" stroke-width="0.6" stroke-opacity="0.8"/><line x1="126.2" y1="303.7" x2="123.0" y2="311.1" stroke="#e090c8" stroke-width="0.6" stroke-opacity="0.8"/><line x1="126.2" y1="303.7" x2="125.6" y2="322.9" stroke="#e090c8" stroke-width="0.6" stroke-opacity="0.8"/><line x1="118.4" y1="311.1" x2="131.2" y2="310.7" stroke="#e090c8" stroke-width="0.6" stroke-opacity="0.8"/><line x1="123.0" y1="311.1" x2="125.6" y2="322.9" stroke="#e090c8" stroke-width="0.6" stroke-opacity="0.8"/><line x1="128.7" y1="307.0" x2="131.2" y2="310.7" stroke="#e090c8" stroke-width="0.6" stroke-opacity="0.8"/><line x1="178.7" y1="303.3" x2="187.5" y2="300.7" stroke="#d090e0" stroke-width="0.6" stroke-opacity="0.8"/><line x1="178.7" y1="303.3" x2="188.5" y2="308.9" stroke="#d090e0" stroke-width="0.6" stroke-opacity="0.8"/><line x1="178.7" y1="303.3" x2="182.7" y2="293.9" stroke="#d090e0" stroke-width="0.6" stroke-opacity="0.8"/><line x1="183.3" y1="301.0" x2="178.6" y2="308.3" stroke="#d090e0" stroke-width="0.6" stroke-opacity="0.8"/><line x1="183.3" y1="301.0" x2="182.5" y2="317.3" stroke="#d090e0" stroke-width="0.6" stroke-opacity="0.8"/><line x1="183.3" y1="301.0" x2="190.9" y2="297.0" stroke="#d090e0" stroke-width="0.6" stroke-opacity="0.8"/><line x1="183.3" y1="307.0" x2="187.3" y2="304.9" stroke="#d090e0" stroke-width="0.6" stroke-opacity="0.8"/><line x1="183.3" y1="307.0" x2="182.7" y2="293.9" stroke="#d090e0" stroke-width="0.6" stroke-opacity="0.8"/><line x1="178.6" y1="308.3" x2="182.5" y2="317.3" stroke="#d090e0" stroke-width="0.6" stroke-opacity="0.8"/><line x1="178.6" y1="308.3" x2="190.9" y2="297.0" stroke="#d090e0" stroke-width="0.6" stroke-opacity="0.8"/><line x1="179.1" y1="299.1" x2="181.8" y2="310.8" stroke="#d090e0" stroke-width="0.6" stroke-opacity="0.8"/><line x1="179.1" y1="299.1" x2="190.9" y2="297.0" stroke="#d090e0" stroke-width="0.6" stroke-opacity="0.8"/><line x1="188.5" y1="308.9" x2="182.7" y2="293.9" stroke="#d090e0" stroke-width="0.6" stroke-opacity="0.8"/><line x1="181.8" y1="310.8" x2="182.5" y2="317.3" stroke="#d090e0" stroke-width="0.6" stroke-opacity="0.8"/><line x1="181.8" y1="310.8" x2="190.9" y2="297.0" stroke="#d090e0" stroke-width="0.6" stroke-opacity="0.8"/><line x1="10.7" y1="307.7" x2="11.2" y2="314.4" stroke="#b8c030" stroke-width="0.6" stroke-opacity="0.8"/><line x1="10.7" y1="307.7" x2="16.1" y2="308.0" stroke="#b8c030" stroke-width="0.6" stroke-opacity="0.8"/><line x1="10.7" y1="307.7" x2="15.3" y2="315.2" stroke="#b8c030" stroke-width="0.6" stroke-opacity="0.8"/><line x1="10.7" y1="307.7" x2="1.6" y2="313.6" stroke="#b8c030" stroke-width="0.6" stroke-opacity="0.8"/><line x1="10.7" y1="307.7" x2="0.8" y2="307.2" stroke="#b8c030" stroke-width="0.6" stroke-opacity="0.8"/><line x1="10.7" y1="307.7" x2="17.3" y2="326.1" stroke="#b8c030" stroke-width="0.6" stroke-opacity="0.8"/><line x1="11.2" y1="314.4" x2="7.4" y2="312.7" stroke="#b8c030" stroke-width="0.6" stroke-opacity="0.8"/><line x1="18.4" y1="312.5" x2="14.8" y2="319.2" stroke="#b8c030" stroke-width="0.6" stroke-opacity="0.8"/><line x1="18.4" y1="312.5" x2="15.3" y2="315.2" stroke="#b8c030" stroke-width="0.6" stroke-opacity="0.8"/><line x1="18.4" y1="312.5" x2="19.4" y2="318.1" stroke="#b8c030" stroke-width="0.6" stroke-opacity="0.8"/><line x1="18.4" y1="312.5" x2="9.3" y2="318.4" stroke="#b8c030" stroke-width="0.6" stroke-opacity="0.8"/><line x1="18.4" y1="312.5" x2="0.8" y2="307.2" stroke="#b8c030" stroke-width="0.6" stroke-opacity="0.8"/><line x1="14.8" y1="319.2" x2="15.3" y2="315.2" stroke="#b8c030" stroke-width="0.6" stroke-opacity="0.8"/><line x1="14.8" y1="319.2" x2="19.4" y2="318.1" stroke="#b8c030" stroke-width="0.6" stroke-opacity="0.8"/><line x1="14.8" y1="319.2" x2="17.3" y2="326.1" stroke="#b8c030" stroke-width="0.6" stroke-opacity="0.8"/><line x1="16.1" y1="308.0" x2="15.3" y2="315.2" stroke="#b8c030" stroke-width="0.6" stroke-opacity="0.8"/><line x1="16.1" y1="308.0" x2="19.4" y2="318.1" stroke="#b8c030" stroke-width="0.6" stroke-opacity="0.8"/><line x1="16.1" y1="308.0" x2="7.4" y2="312.7" stroke="#b8c030" stroke-width="0.6" stroke-opacity="0.8"/><line x1="16.1" y1="308.0" x2="1.6" y2="313.6" stroke="#b8c030" stroke-width="0.6" stroke-opacity="0.8"/><line x1="16.1" y1="308.0" x2="17.3" y2="326.1" stroke="#b8c030" stroke-width="0.6" stroke-opacity="0.8"/><line x1="15.3" y1="315.2" x2="7.4" y2="312.7" stroke="#b8c030" stroke-width="0.6" stroke-opacity="0.8"/><line x1="19.4" y1="318.1" x2="9.3" y2="318.4" stroke="#b8c030" stroke-width="0.6" stroke-opacity="0.8"/><line x1="19.4" y1="318.1" x2="0.8" y2="307.2" stroke="#b8c030" stroke-width="0.6" stroke-opacity="0.8"/><line x1="9.3" y1="318.4" x2="17.3" y2="326.1" stroke="#b8c030" stroke-width="0.6" stroke-opacity="0.8"/><line x1="1.6" y1="313.6" x2="17.3" y2="326.1" stroke="#b8c030" stroke-width="0.6" stroke-opacity="0.8"/><line x1="74.5" y1="321.0" x2="72.8" y2="316.4" stroke="#208020" stroke-width="0.6" stroke-opacity="0.8"/><line x1="74.5" y1="321.0" x2="72.8" y2="326.1" stroke="#208020" stroke-width="0.6" stroke-opacity="0.8"/><line x1="74.5" y1="321.0" x2="70.5" y2="321.5" stroke="#208020" stroke-width="0.6" stroke-opacity="0.8"/><line x1="74.5" y1="321.0" x2="65.7" y2="320.1" stroke="#208020" stroke-width="0.6" stroke-opacity="0.8"/><line x1="74.5" y1="321.0" x2="67.9" y2="310.8" stroke="#208020" stroke-width="0.6" stroke-opacity="0.8"/><line x1="72.8" y1="316.4" x2="70.5" y2="321.5" stroke="#208020" stroke-width="0.6" stroke-opacity="0.8"/><line x1="72.8" y1="316.4" x2="68.0" y2="325.1" stroke="#208020" stroke-width="0.6" stroke-opacity="0.8"/><line x1="72.8" y1="316.4" x2="77.3" y2="324.7" stroke="#208020" stroke-width="0.6" stroke-opacity="0.8"/><line x1="72.8" y1="316.4" x2="56.0" y2="321.2" stroke="#208020" stroke-width="0.6" stroke-opacity="0.8"/><line x1="72.8" y1="326.1" x2="70.5" y2="321.5" stroke="#208020" stroke-width="0.6" stroke-opacity="0.8"/><line x1="72.8" y1="326.1" x2="77.3" y2="324.7" stroke="#208020" stroke-width="0.6" stroke-opacity="0.8"/><line x1="72.8" y1="326.1" x2="69.9" y2="329.3" stroke="#208020" stroke-width="0.6" stroke-opacity="0.8"/><line x1="72.8" y1="326.1" x2="68.6" y2="316.3" stroke="#208020" stroke-width="0.6" stroke-opacity="0.8"/><line x1="70.5" y1="321.5" x2="65.7" y2="320.1" stroke="#208020" stroke-width="0.6" stroke-opacity="0.8"/><line x1="70.5" y1="321.5" x2="69.9" y2="329.3" stroke="#208020" stroke-width="0.6" stroke-opacity="0.8"/><line x1="65.7" y1="320.1" x2="68.0" y2="325.1" stroke="#208020" stroke-width="0.6" stroke-opacity="0.8"/><line x1="65.7" y1="320.1" x2="67.9" y2="310.8" stroke="#208020" stroke-width="0.6" stroke-opacity="0.8"/><line x1="65.7" y1="320.1" x2="56.0" y2="321.2" stroke="#208020" stroke-width="0.6" stroke-opacity="0.8"/><line x1="68.0" y1="325.1" x2="69.9" y2="329.3" stroke="#208020" stroke-width="0.6" stroke-opacity="0.8"/><line x1="68.0" y1="325.1" x2="67.9" y2="310.8" stroke="#208020" stroke-width="0.6" stroke-opacity="0.8"/><line x1="77.3" y1="324.7" x2="68.6" y2="316.3" stroke="#208020" stroke-width="0.6" stroke-opacity="0.8"/><line x1="77.3" y1="324.7" x2="56.0" y2="321.2" stroke="#208020" stroke-width="0.6" stroke-opacity="0.8"/><line x1="68.6" y1="316.3" x2="67.9" y2="310.8" stroke="#208020" stroke-width="0.6" stroke-opacity="0.8"/><line x1="68.6" y1="316.3" x2="56.0" y2="321.2" stroke="#208020" stroke-width="0.6" stroke-opacity="0.8"/><line x1="67.9" y1="310.8" x2="56.0" y2="321.2" stroke="#208020" stroke-width="0.6" stroke-opacity="0.8"/><line x1="110.9" y1="322.2" x2="108.6" y2="317.4" stroke="#30a060" stroke-width="0.6" stroke-opacity="0.8"/><line x1="110.9" y1="322.2" x2="107.7" y2="325.4" stroke="#30a060" stroke-width="0.6" stroke-opacity="0.8"/><line x1="110.9" y1="322.2" x2="104.0" y2="327.6" stroke="#30a060" stroke-width="0.6" stroke-opacity="0.8"/><line x1="110.9" y1="322.2" x2="113.3" y2="332.0" stroke="#30a060" stroke-width="0.6" stroke-opacity="0.8"/><line x1="110.9" y1="322.2" x2="96.6" y2="319.8" stroke="#30a060" stroke-width="0.6" stroke-opacity="0.8"/><line x1="108.6" y1="317.4" x2="102.4" y2="322.8" stroke="#30a060" stroke-width="0.6" stroke-opacity="0.8"/><line x1="108.6" y1="317.4" x2="105.2" y2="319.6" stroke="#30a060" stroke-width="0.6" stroke-opacity="0.8"/><line x1="108.6" y1="317.4" x2="104.0" y2="327.6" stroke="#30a060" stroke-width="0.6" stroke-opacity="0.8"/><line x1="107.7" y1="325.4" x2="105.3" y2="314.8" stroke="#30a060" stroke-width="0.6" stroke-opacity="0.8"/><line x1="107.7" y1="325.4" x2="105.2" y2="319.6" stroke="#30a060" stroke-width="0.6" stroke-opacity="0.8"/><line x1="107.7" y1="325.4" x2="100.6" y2="317.5" stroke="#30a060" stroke-width="0.6" stroke-opacity="0.8"/><line x1="105.3" y1="314.8" x2="100.6" y2="317.5" stroke="#30a060" stroke-width="0.6" stroke-opacity="0.8"/><line x1="105.3" y1="314.8" x2="96.6" y2="319.8" stroke="#30a060" stroke-width="0.6" stroke-opacity="0.8"/><line x1="105.2" y1="319.6" x2="104.0" y2="327.6" stroke="#30a060" stroke-width="0.6" stroke-opacity="0.8"/><line x1="105.2" y1="319.6" x2="113.3" y2="332.0" stroke="#30a060" stroke-width="0.6" stroke-opacity="0.8"/><line x1="104.0" y1="327.6" x2="96.6" y2="319.8" stroke="#30a060" stroke-width="0.6" stroke-opacity="0.8"/><line x1="100.6" y1="317.5" x2="113.3" y2="332.0" stroke="#30a060" stroke-width="0.6" stroke-opacity="0.8"/><line x1="100.6" y1="317.5" x2="96.6" y2="319.8" stroke="#30a060" stroke-width="0.6" stroke-opacity="0.8"/><line x1="96.5" y1="324.5" x2="96.6" y2="319.8" stroke="#30a060" stroke-width="0.6" stroke-opacity="0.8"/><line x1="122.2" y1="336.0" x2="128.6" y2="333.6" stroke="#c8e050" stroke-width="0.6" stroke-opacity="0.8"/><line x1="122.2" y1="336.0" x2="119.5" y2="330.7" stroke="#c8e050" stroke-width="0.6" stroke-opacity="0.8"/><line x1="122.2" y1="336.0" x2="122.1" y2="327.4" stroke="#c8e050" stroke-width="0.6" stroke-opacity="0.8"/><line x1="122.2" y1="336.0" x2="127.0" y2="328.1" stroke="#c8e050" stroke-width="0.6" stroke-opacity="0.8"/><line x1="122.2" y1="336.0" x2="129.7" y2="342.9" stroke="#c8e050" stroke-width="0.6" stroke-opacity="0.8"/><line x1="128.6" y1="333.6" x2="129.7" y2="342.9" stroke="#c8e050" stroke-width="0.6" stroke-opacity="0.8"/><line x1="124.7" y1="331.8" x2="116.7" y2="334.7" stroke="#c8e050" stroke-width="0.6" stroke-opacity="0.8"/><line x1="124.7" y1="331.8" x2="129.7" y2="342.9" stroke="#c8e050" stroke-width="0.6" stroke-opacity="0.8"/><line x1="119.5" y1="330.7" x2="119.2" y2="339.7" stroke="#c8e050" stroke-width="0.6" stroke-opacity="0.8"/><line x1="119.5" y1="330.7" x2="127.0" y2="328.1" stroke="#c8e050" stroke-width="0.6" stroke-opacity="0.8"/><line x1="119.2" y1="339.7" x2="125.9" y2="338.7" stroke="#c8e050" stroke-width="0.6" stroke-opacity="0.8"/><line x1="119.2" y1="339.7" x2="116.7" y2="334.7" stroke="#c8e050" stroke-width="0.6" stroke-opacity="0.8"/><line x1="119.2" y1="339.7" x2="127.0" y2="328.1" stroke="#c8e050" stroke-width="0.6" stroke-opacity="0.8"/><line x1="119.2" y1="339.7" x2="129.7" y2="342.9" stroke="#c8e050" stroke-width="0.6" stroke-opacity="0.8"/><line x1="125.9" y1="338.7" x2="116.7" y2="334.7" stroke="#c8e050" stroke-width="0.6" stroke-opacity="0.8"/><line x1="143.6" y1="332.7" x2="140.5" y2="340.2" stroke="#407020" stroke-width="0.6" stroke-opacity="0.8"/><line x1="148.0" y1="332.7" x2="149.8" y2="336.7" stroke="#407020" stroke-width="0.6" stroke-opacity="0.8"/><line x1="148.0" y1="332.7" x2="144.3" y2="336.8" stroke="#407020" stroke-width="0.6" stroke-opacity="0.8"/><line x1="140.3" y1="335.6" x2="144.3" y2="336.8" stroke="#407020" stroke-width="0.6" stroke-opacity="0.8"/><line x1="140.3" y1="335.6" x2="143.4" y2="328.7" stroke="#407020" stroke-width="0.6" stroke-opacity="0.8"/><line x1="144.3" y1="336.8" x2="153.3" y2="330.0" stroke="#407020" stroke-width="0.6" stroke-opacity="0.8"/><line x1="161.0" y1="315.1" x2="164.7" y2="321.0" stroke="#203070" stroke-width="0.6" stroke-opacity="0.8"/><line x1="161.0" y1="315.1" x2="165.1" y2="313.3" stroke="#203070" stroke-width="0.6" stroke-opacity="0.8"/><line x1="161.0" y1="315.1" x2="157.2" y2="318.4" stroke="#203070" stroke-width="0.6" stroke-opacity="0.8"/><line x1="161.0" y1="315.1" x2="167.9" y2="318.1" stroke="#203070" stroke-width="0.6" stroke-opacity="0.8"/><line x1="161.0" y1="315.1" x2="160.4" y2="321.8" stroke="#203070" stroke-width="0.6" stroke-opacity="0.8"/><line x1="161.0" y1="315.1" x2="173.9" y2="313.7" stroke="#203070" stroke-width="0.6" stroke-opacity="0.8"/><line x1="164.7" y1="321.0" x2="157.6" y2="311.9" stroke="#203070" stroke-width="0.6" stroke-opacity="0.8"/><line x1="164.7" y1="321.0" x2="165.1" y2="313.3" stroke="#203070" stroke-width="0.6" stroke-opacity="0.8"/><line x1="164.7" y1="321.0" x2="173.9" y2="313.7" stroke="#203070" stroke-width="0.6" stroke-opacity="0.8"/><line x1="164.7" y1="321.0" x2="164.8" y2="329.8" stroke="#203070" stroke-width="0.6" stroke-opacity="0.8"/><line x1="164.7" y1="321.0" x2="152.2" y2="316.1" stroke="#203070" stroke-width="0.6" stroke-opacity="0.8"/><line x1="157.6" y1="311.9" x2="165.1" y2="313.3" stroke="#203070" stroke-width="0.6" stroke-opacity="0.8"/><line x1="157.6" y1="311.9" x2="157.2" y2="318.4" stroke="#203070" stroke-width="0.6" stroke-opacity="0.8"/><line x1="157.6" y1="311.9" x2="152.2" y2="316.1" stroke="#203070" stroke-width="0.6" stroke-opacity="0.8"/><line x1="165.1" y1="313.3" x2="157.2" y2="318.4" stroke="#203070" stroke-width="0.6" stroke-opacity="0.8"/><line x1="165.1" y1="313.3" x2="167.9" y2="318.1" stroke="#203070" stroke-width="0.6" stroke-opacity="0.8"/><line x1="165.1" y1="313.3" x2="160.4" y2="321.8" stroke="#203070" stroke-width="0.6" stroke-opacity="0.8"/><line x1="165.1" y1="313.3" x2="173.9" y2="313.7" stroke="#203070" stroke-width="0.6" stroke-opacity="0.8"/><line x1="165.1" y1="313.3" x2="164.8" y2="329.8" stroke="#203070" stroke-width="0.6" stroke-opacity="0.8"/><line x1="157.2" y1="318.4" x2="173.9" y2="313.7" stroke="#203070" stroke-width="0.6" stroke-opacity="0.8"/><line x1="157.2" y1="318.4" x2="152.2" y2="316.1" stroke="#203070" stroke-width="0.6" stroke-opacity="0.8"/><line x1="167.9" y1="318.1" x2="161.9" y2="310.0" stroke="#203070" stroke-width="0.6" stroke-opacity="0.8"/><line x1="167.9" y1="318.1" x2="160.4" y2="321.8" stroke="#203070" stroke-width="0.6" stroke-opacity="0.8"/><line x1="161.9" y1="310.0" x2="173.9" y2="313.7" stroke="#203070" stroke-width="0.6" stroke-opacity="0.8"/><line x1="173.9" y1="313.7" x2="164.8" y2="329.8" stroke="#203070" stroke-width="0.6" stroke-opacity="0.8"/><line x1="164.8" y1="329.8" x2="152.2" y2="316.1" stroke="#203070" stroke-width="0.6" stroke-opacity="0.8"/><line x1="210.9" y1="314.7" x2="206.7" y2="318.4" stroke="#40d840" stroke-width="0.6" stroke-opacity="0.8"/><line x1="216.1" y1="318.1" x2="206.6" y2="313.2" stroke="#40d840" stroke-width="0.6" stroke-opacity="0.8"/><line x1="216.1" y1="318.1" x2="211.6" y2="324.4" stroke="#40d840" stroke-width="0.6" stroke-opacity="0.8"/><line x1="206.6" y1="313.2" x2="209.2" y2="308.7" stroke="#40d840" stroke-width="0.6" stroke-opacity="0.8"/><line x1="206.6" y1="313.2" x2="210.9" y2="319.1" stroke="#40d840" stroke-width="0.6" stroke-opacity="0.8"/><line x1="206.6" y1="313.2" x2="206.7" y2="318.4" stroke="#40d840" stroke-width="0.6" stroke-opacity="0.8"/><line x1="206.6" y1="313.2" x2="211.6" y2="324.4" stroke="#40d840" stroke-width="0.6" stroke-opacity="0.8"/><line x1="206.6" y1="313.2" x2="202.7" y2="314.9" stroke="#40d840" stroke-width="0.6" stroke-opacity="0.8"/><line x1="217.0" y1="311.7" x2="209.2" y2="308.7" stroke="#40d840" stroke-width="0.6" stroke-opacity="0.8"/><line x1="217.0" y1="311.7" x2="206.7" y2="318.4" stroke="#40d840" stroke-width="0.6" stroke-opacity="0.8"/><line x1="217.0" y1="311.7" x2="213.2" y2="324.0" stroke="#40d840" stroke-width="0.6" stroke-opacity="0.8"/><line x1="209.2" y1="308.7" x2="210.9" y2="319.1" stroke="#40d840" stroke-width="0.6" stroke-opacity="0.8"/><line x1="209.2" y1="308.7" x2="206.7" y2="318.4" stroke="#40d840" stroke-width="0.6" stroke-opacity="0.8"/><line x1="209.2" y1="308.7" x2="211.6" y2="324.4" stroke="#40d840" stroke-width="0.6" stroke-opacity="0.8"/><line x1="206.7" y1="318.4" x2="213.7" y2="308.9" stroke="#40d840" stroke-width="0.6" stroke-opacity="0.8"/><line x1="206.7" y1="318.4" x2="213.2" y2="324.0" stroke="#40d840" stroke-width="0.6" stroke-opacity="0.8"/><line x1="213.7" y1="308.9" x2="213.2" y2="324.0" stroke="#40d840" stroke-width="0.6" stroke-opacity="0.8"/><line x1="202.7" y1="314.9" x2="213.2" y2="324.0" stroke="#40d840" stroke-width="0.6" stroke-opacity="0.8"/><line x1="26.2" y1="332.1" x2="30.5" y2="330.7" stroke="#205050" stroke-width="0.6" stroke-opacity="0.8"/><line x1="26.2" y1="332.1" x2="27.0" y2="325.0" stroke="#205050" stroke-width="0.6" stroke-opacity="0.8"/><line x1="26.2" y1="332.1" x2="19.3" y2="326.0" stroke="#205050" stroke-width="0.6" stroke-opacity="0.8"/><line x1="30.5" y1="330.7" x2="34.1" y2="335.8" stroke="#205050" stroke-width="0.6" stroke-opacity="0.8"/><line x1="30.5" y1="330.7" x2="36.6" y2="332.6" stroke="#205050" stroke-width="0.6" stroke-opacity="0.8"/><line x1="30.5" y1="330.7" x2="38.5" y2="337.6" stroke="#205050" stroke-width="0.6" stroke-opacity="0.8"/><line x1="34.1" y1="335.8" x2="31.8" y2="326.3" stroke="#205050" stroke-width="0.6" stroke-opacity="0.8"/><line x1="34.1" y1="335.8" x2="27.0" y2="325.0" stroke="#205050" stroke-width="0.6" stroke-opacity="0.8"/><line x1="34.1" y1="335.8" x2="38.5" y2="337.6" stroke="#205050" stroke-width="0.6" stroke-opacity="0.8"/><line x1="31.8" y1="326.3" x2="27.0" y2="325.0" stroke="#205050" stroke-width="0.6" stroke-opacity="0.8"/><line x1="31.8" y1="326.3" x2="28.7" y2="336.4" stroke="#205050" stroke-width="0.6" stroke-opacity="0.8"/><line x1="31.8" y1="326.3" x2="36.6" y2="332.6" stroke="#205050" stroke-width="0.6" stroke-opacity="0.8"/><line x1="27.0" y1="325.0" x2="35.6" y2="327.9" stroke="#205050" stroke-width="0.6" stroke-opacity="0.8"/><line x1="27.0" y1="325.0" x2="28.7" y2="336.4" stroke="#205050" stroke-width="0.6" stroke-opacity="0.8"/><line x1="35.6" y1="327.9" x2="28.7" y2="336.4" stroke="#205050" stroke-width="0.6" stroke-opacity="0.8"/><line x1="35.6" y1="327.9" x2="36.6" y2="332.6" stroke="#205050" stroke-width="0.6" stroke-opacity="0.8"/><line x1="35.6" y1="327.9" x2="19.3" y2="326.0" stroke="#205050" stroke-width="0.6" stroke-opacity="0.8"/><line x1="28.7" y1="336.4" x2="36.6" y2="332.6" stroke="#205050" stroke-width="0.6" stroke-opacity="0.8"/><line x1="28.7" y1="336.4" x2="38.5" y2="337.6" stroke="#205050" stroke-width="0.6" stroke-opacity="0.8"/><line x1="36.6" y1="332.6" x2="19.3" y2="326.0" stroke="#205050" stroke-width="0.6" stroke-opacity="0.8"/><line x1="86.2" y1="337.6" x2="90.8" y2="336.9" stroke="#6070c0" stroke-width="0.6" stroke-opacity="0.8"/><line x1="86.0" y1="341.6" x2="95.9" y2="336.5" stroke="#6070c0" stroke-width="0.6" stroke-opacity="0.8"/><line x1="86.0" y1="341.6" x2="93.5" y2="345.6" stroke="#6070c0" stroke-width="0.6" stroke-opacity="0.8"/><line x1="90.3" y1="342.5" x2="90.8" y2="336.9" stroke="#6070c0" stroke-width="0.6" stroke-opacity="0.8"/><line x1="90.3" y1="342.5" x2="95.4" y2="341.0" stroke="#6070c0" stroke-width="0.6" stroke-opacity="0.8"/><line x1="90.3" y1="342.5" x2="93.5" y2="345.6" stroke="#6070c0" stroke-width="0.6" stroke-opacity="0.8"/><line x1="90.8" y1="336.9" x2="83.2" y2="348.8" stroke="#6070c0" stroke-width="0.6" stroke-opacity="0.8"/><line x1="95.9" y1="336.5" x2="95.4" y2="341.0" stroke="#6070c0" stroke-width="0.6" stroke-opacity="0.8"/><line x1="95.9" y1="336.5" x2="88.9" y2="346.4" stroke="#6070c0" stroke-width="0.6" stroke-opacity="0.8"/><line x1="95.9" y1="336.5" x2="88.5" y2="333.2" stroke="#6070c0" stroke-width="0.6" stroke-opacity="0.8"/><line x1="95.9" y1="336.5" x2="83.2" y2="348.8" stroke="#6070c0" stroke-width="0.6" stroke-opacity="0.8"/><line x1="95.4" y1="341.0" x2="93.5" y2="345.6" stroke="#6070c0" stroke-width="0.6" stroke-opacity="0.8"/><line x1="95.4" y1="341.0" x2="88.5" y2="333.2" stroke="#6070c0" stroke-width="0.6" stroke-opacity="0.8"/><line x1="95.4" y1="341.0" x2="99.1" y2="341.8" stroke="#6070c0" stroke-width="0.6" stroke-opacity="0.8"/><line x1="95.4" y1="341.0" x2="83.2" y2="348.8" stroke="#6070c0" stroke-width="0.6" stroke-opacity="0.8"/><line x1="88.9" y1="346.4" x2="93.5" y2="345.6" stroke="#6070c0" stroke-width="0.6" stroke-opacity="0.8"/><line x1="88.9" y1="346.4" x2="88.5" y2="333.2" stroke="#6070c0" stroke-width="0.6" stroke-opacity="0.8"/><line x1="185.5" y1="333.5" x2="184.7" y2="339.9" stroke="#70d8e0" stroke-width="0.6" stroke-opacity="0.8"/><line x1="185.5" y1="333.5" x2="175.8" y2="334.9" stroke="#70d8e0" stroke-width="0.6" stroke-opacity="0.8"/><line x1="185.5" y1="333.5" x2="179.2" y2="331.8" stroke="#70d8e0" stroke-width="0.6" stroke-opacity="0.8"/><line x1="185.5" y1="333.5" x2="181.4" y2="335.4" stroke="#70d8e0" stroke-width="0.6" stroke-opacity="0.8"/><line x1="185.5" y1="333.5" x2="188.9" y2="335.9" stroke="#70d8e0" stroke-width="0.6" stroke-opacity="0.8"/><line x1="185.5" y1="333.5" x2="171.9" y2="331.7" stroke="#70d8e0" stroke-width="0.6" stroke-opacity="0.8"/><line x1="184.7" y1="339.9" x2="179.2" y2="331.8" stroke="#70d8e0" stroke-width="0.6" stroke-opacity="0.8"/><line x1="184.7" y1="339.9" x2="183.2" y2="330.2" stroke="#70d8e0" stroke-width="0.6" stroke-opacity="0.8"/><line x1="184.7" y1="339.9" x2="188.9" y2="335.9" stroke="#70d8e0" stroke-width="0.6" stroke-opacity="0.8"/><line x1="178.3" y1="338.7" x2="183.2" y2="330.2" stroke="#70d8e0" stroke-width="0.6" stroke-opacity="0.8"/><line x1="178.3" y1="338.7" x2="171.9" y2="331.7" stroke="#70d8e0" stroke-width="0.6" stroke-opacity="0.8"/><line x1="178.3" y1="338.7" x2="191.3" y2="335.9" stroke="#70d8e0" stroke-width="0.6" stroke-opacity="0.8"/><line x1="175.8" y1="334.9" x2="179.2" y2="331.8" stroke="#70d8e0" stroke-width="0.6" stroke-opacity="0.8"/><line x1="175.8" y1="334.9" x2="188.9" y2="335.9" stroke="#70d8e0" stroke-width="0.6" stroke-opacity="0.8"/><line x1="179.2" y1="331.8" x2="183.2" y2="330.2" stroke="#70d8e0" stroke-width="0.6" stroke-opacity="0.8"/><line x1="179.2" y1="331.8" x2="171.9" y2="331.7" stroke="#70d8e0" stroke-width="0.6" stroke-opacity="0.8"/><line x1="183.2" y1="330.2" x2="188.9" y2="335.9" stroke="#70d8e0" stroke-width="0.6" stroke-opacity="0.8"/><line x1="183.2" y1="330.2" x2="171.9" y2="331.7" stroke="#70d8e0" stroke-width="0.6" stroke-opacity="0.8"/><line x1="181.4" y1="335.4" x2="188.9" y2="335.9" stroke="#70d8e0" stroke-width="0.6" stroke-opacity="0.8"/><line x1="181.4" y1="335.4" x2="171.9" y2="331.7" stroke="#70d8e0" stroke-width="0.6" stroke-opacity="0.8"/><line x1="181.4" y1="335.4" x2="191.3" y2="335.9" stroke="#70d8e0" stroke-width="0.6" stroke-opacity="0.8"/><line x1="188.9" y1="335.9" x2="191.3" y2="335.9" stroke="#70d8e0" stroke-width="0.6" stroke-opacity="0.8"/><line x1="214.6" y1="335.9" x2="209.6" y2="342.0" stroke="#60c8e0" stroke-width="0.6" stroke-opacity="0.8"/><line x1="210.3" y1="331.2" x2="206.3" y2="338.2" stroke="#60c8e0" stroke-width="0.6" stroke-opacity="0.8"/><line x1="206.3" y1="338.2" x2="214.6" y2="331.7" stroke="#60c8e0" stroke-width="0.6" stroke-opacity="0.8"/><line x1="206.3" y1="338.2" x2="221.8" y2="337.0" stroke="#60c8e0" stroke-width="0.6" stroke-opacity="0.8"/><line x1="209.6" y1="342.0" x2="221.8" y2="337.0" stroke="#60c8e0" stroke-width="0.6" stroke-opacity="0.8"/><line x1="206.6" y1="334.0" x2="210.4" y2="336.8" stroke="#60c8e0" stroke-width="0.6" stroke-opacity="0.8"/><line x1="206.6" y1="334.0" x2="214.6" y2="331.7" stroke="#60c8e0" stroke-width="0.6" stroke-opacity="0.8"/><line x1="210.4" y1="336.8" x2="215.6" y2="340.5" stroke="#60c8e0" stroke-width="0.6" stroke-opacity="0.8"/><line x1="210.4" y1="336.8" x2="221.8" y2="337.0" stroke="#60c8e0" stroke-width="0.6" stroke-opacity="0.8"/><line x1="215.6" y1="340.5" x2="214.6" y2="331.7" stroke="#60c8e0" stroke-width="0.6" stroke-opacity="0.8"/><line x1="47.2" y1="347.4" x2="52.5" y2="348.3" stroke="#90e070" stroke-width="0.6" stroke-opacity="0.8"/><line x1="47.2" y1="347.4" x2="52.7" y2="340.6" stroke="#90e070" stroke-width="0.6" stroke-opacity="0.8"/><line x1="47.2" y1="347.4" x2="57.6" y2="344.0" stroke="#90e070" stroke-width="0.6" stroke-opacity="0.8"/><line x1="47.2" y1="347.4" x2="50.3" y2="352.1" stroke="#90e070" stroke-width="0.6" stroke-opacity="0.8"/><line x1="47.2" y1="347.4" x2="44.4" y2="354.0" stroke="#90e070" stroke-width="0.6" stroke-opacity="0.8"/><line x1="57.5" y1="348.4" x2="52.5" y2="348.3" stroke="#90e070" stroke-width="0.6" stroke-opacity="0.8"/><line x1="57.5" y1="348.4" x2="52.7" y2="340.6" stroke="#90e070" stroke-width="0.6" stroke-opacity="0.8"/><line x1="57.5" y1="348.4" x2="57.6" y2="344.0" stroke="#90e070" stroke-width="0.6" stroke-opacity="0.8"/><line x1="57.5" y1="348.4" x2="55.6" y2="352.0" stroke="#90e070" stroke-width="0.6" stroke-opacity="0.8"/><line x1="57.5" y1="348.4" x2="44.4" y2="354.0" stroke="#90e070" stroke-width="0.6" stroke-opacity="0.8"/><line x1="52.5" y1="348.3" x2="52.7" y2="340.6" stroke="#90e070" stroke-width="0.6" stroke-opacity="0.8"/><line x1="52.5" y1="348.3" x2="50.3" y2="352.1" stroke="#90e070" stroke-width="0.6" stroke-opacity="0.8"/><line x1="52.5" y1="348.3" x2="55.6" y2="352.0" stroke="#90e070" stroke-width="0.6" stroke-opacity="0.8"/><line x1="52.5" y1="348.3" x2="58.9" y2="354.6" stroke="#90e070" stroke-width="0.6" stroke-opacity="0.8"/><line x1="52.7" y1="340.6" x2="57.6" y2="344.0" stroke="#90e070" stroke-width="0.6" stroke-opacity="0.8"/><line x1="52.7" y1="340.6" x2="50.3" y2="352.1" stroke="#90e070" stroke-width="0.6" stroke-opacity="0.8"/><line x1="52.7" y1="340.6" x2="55.6" y2="352.0" stroke="#90e070" stroke-width="0.6" stroke-opacity="0.8"/><line x1="57.6" y1="344.0" x2="50.3" y2="352.1" stroke="#90e070" stroke-width="0.6" stroke-opacity="0.8"/><line x1="57.6" y1="344.0" x2="55.6" y2="352.0" stroke="#90e070" stroke-width="0.6" stroke-opacity="0.8"/><line x1="57.6" y1="344.0" x2="58.9" y2="354.6" stroke="#90e070" stroke-width="0.6" stroke-opacity="0.8"/><line x1="50.3" y1="352.1" x2="55.6" y2="352.0" stroke="#90e070" stroke-width="0.6" stroke-opacity="0.8"/><line x1="112.4" y1="346.6" x2="114.8" y2="360.9" stroke="#e05020" stroke-width="0.6" stroke-opacity="0.8"/><line x1="107.6" y1="345.4" x2="113.7" y2="353.3" stroke="#e05020" stroke-width="0.6" stroke-opacity="0.8"/><line x1="107.6" y1="345.4" x2="103.7" y2="355.3" stroke="#e05020" stroke-width="0.6" stroke-opacity="0.8"/><line x1="107.6" y1="345.4" x2="114.8" y2="360.9" stroke="#e05020" stroke-width="0.6" stroke-opacity="0.8"/><line x1="109.3" y1="358.1" x2="114.8" y2="360.9" stroke="#e05020" stroke-width="0.6" stroke-opacity="0.8"/><line x1="108.0" y1="351.2" x2="113.7" y2="353.3" stroke="#e05020" stroke-width="0.6" stroke-opacity="0.8"/><line x1="108.0" y1="351.2" x2="101.2" y2="352.2" stroke="#e05020" stroke-width="0.6" stroke-opacity="0.8"/><line x1="108.0" y1="351.2" x2="120.7" y2="357.4" stroke="#e05020" stroke-width="0.6" stroke-opacity="0.8"/><line x1="113.7" y1="353.3" x2="103.7" y2="355.3" stroke="#e05020" stroke-width="0.6" stroke-opacity="0.8"/><line x1="103.7" y1="355.3" x2="104.1" y2="348.8" stroke="#e05020" stroke-width="0.6" stroke-opacity="0.8"/><line x1="103.7" y1="355.3" x2="120.7" y2="357.4" stroke="#e05020" stroke-width="0.6" stroke-opacity="0.8"/><line x1="104.1" y1="348.8" x2="114.8" y2="360.9" stroke="#e05020" stroke-width="0.6" stroke-opacity="0.8"/><line x1="113.3" y1="356.0" x2="118.7" y2="358.2" stroke="#d02090" stroke-width="0.6" stroke-opacity="0.8"/><line x1="113.3" y1="356.0" x2="118.9" y2="364.1" stroke="#d02090" stroke-width="0.6" stroke-opacity="0.8"/><line x1="113.3" y1="356.0" x2="120.3" y2="352.9" stroke="#d02090" stroke-width="0.6" stroke-opacity="0.8"/><line x1="113.3" y1="356.0" x2="122.9" y2="356.0" stroke="#d02090" stroke-width="0.6" stroke-opacity="0.8"/><line x1="113.3" y1="356.0" x2="130.9" y2="365.2" stroke="#d02090" stroke-width="0.6" stroke-opacity="0.8"/><line x1="118.7" y1="358.2" x2="113.8" y2="361.0" stroke="#d02090" stroke-width="0.6" stroke-opacity="0.8"/><line x1="123.3" y1="362.9" x2="118.9" y2="364.1" stroke="#d02090" stroke-width="0.6" stroke-opacity="0.8"/><line x1="123.3" y1="362.9" x2="126.3" y2="359.6" stroke="#d02090" stroke-width="0.6" stroke-opacity="0.8"/><line x1="113.8" y1="361.0" x2="122.9" y2="356.0" stroke="#d02090" stroke-width="0.6" stroke-opacity="0.8"/><line x1="113.8" y1="361.0" x2="119.2" y2="370.4" stroke="#d02090" stroke-width="0.6" stroke-opacity="0.8"/><line x1="118.9" y1="364.1" x2="122.9" y2="356.0" stroke="#d02090" stroke-width="0.6" stroke-opacity="0.8"/><line x1="118.9" y1="364.1" x2="130.9" y2="365.2" stroke="#d02090" stroke-width="0.6" stroke-opacity="0.8"/><line x1="126.3" y1="359.6" x2="119.2" y2="370.4" stroke="#d02090" stroke-width="0.6" stroke-opacity="0.8"/><line x1="109.5" y1="350.4" x2="130.9" y2="365.2" stroke="#d02090" stroke-width="0.6" stroke-opacity="0.8"/><line x1="148.0" y1="355.1" x2="157.4" y2="358.9" stroke="#80d8c8" stroke-width="0.6" stroke-opacity="0.8"/><line x1="148.0" y1="355.1" x2="151.3" y2="350.4" stroke="#80d8c8" stroke-width="0.6" stroke-opacity="0.8"/><line x1="148.0" y1="355.1" x2="154.7" y2="352.9" stroke="#80d8c8" stroke-width="0.6" stroke-opacity="0.8"/><line x1="157.4" y1="358.9" x2="150.7" y2="359.1" stroke="#80d8c8" stroke-width="0.6" stroke-opacity="0.8"/><line x1="157.4" y1="358.9" x2="154.7" y2="352.9" stroke="#80d8c8" stroke-width="0.6" stroke-opacity="0.8"/><line x1="157.4" y1="358.9" x2="165.0" y2="353.3" stroke="#80d8c8" stroke-width="0.6" stroke-opacity="0.8"/><line x1="150.7" y1="359.1" x2="160.1" y2="354.8" stroke="#80d8c8" stroke-width="0.6" stroke-opacity="0.8"/><line x1="160.1" y1="354.8" x2="151.3" y2="350.4" stroke="#80d8c8" stroke-width="0.6" stroke-opacity="0.8"/><line x1="160.1" y1="354.8" x2="154.7" y2="352.9" stroke="#80d8c8" stroke-width="0.6" stroke-opacity="0.8"/><line x1="160.1" y1="354.8" x2="154.1" y2="361.2" stroke="#80d8c8" stroke-width="0.6" stroke-opacity="0.8"/><line x1="151.3" y1="350.4" x2="165.0" y2="353.3" stroke="#80d8c8" stroke-width="0.6" stroke-opacity="0.8"/><line x1="154.7" y1="352.9" x2="165.0" y2="353.3" stroke="#80d8c8" stroke-width="0.6" stroke-opacity="0.8"/><line x1="154.1" y1="361.2" x2="144.9" y2="366.4" stroke="#80d8c8" stroke-width="0.6" stroke-opacity="0.8"/><line x1="177.7" y1="355.5" x2="169.5" y2="355.9" stroke="#50c880" stroke-width="0.6" stroke-opacity="0.8"/><line x1="177.7" y1="355.5" x2="177.0" y2="351.5" stroke="#50c880" stroke-width="0.6" stroke-opacity="0.8"/><line x1="174.5" y1="363.3" x2="186.6" y2="352.3" stroke="#50c880" stroke-width="0.6" stroke-opacity="0.8"/><line x1="169.0" y1="360.3" x2="177.0" y2="351.5" stroke="#50c880" stroke-width="0.6" stroke-opacity="0.8"/><line x1="173.6" y1="358.5" x2="169.5" y2="355.9" stroke="#50c880" stroke-width="0.6" stroke-opacity="0.8"/><line x1="169.5" y1="355.9" x2="186.6" y2="352.3" stroke="#50c880" stroke-width="0.6" stroke-opacity="0.8"/><line x1="180.6" y1="358.6" x2="177.0" y2="351.5" stroke="#50c880" stroke-width="0.6" stroke-opacity="0.8"/><line x1="177.0" y1="351.5" x2="164.0" y2="358.9" stroke="#50c880" stroke-width="0.6" stroke-opacity="0.8"/><line x1="177.0" y1="351.5" x2="186.6" y2="352.3" stroke="#50c880" stroke-width="0.6" stroke-opacity="0.8"/><line x1="23.0" y1="367.0" x2="24.3" y2="361.1" stroke="#70d8d0" stroke-width="0.6" stroke-opacity="0.8"/><line x1="23.0" y1="367.0" x2="23.0" y2="371.6" stroke="#70d8d0" stroke-width="0.6" stroke-opacity="0.8"/><line x1="23.0" y1="367.0" x2="27.1" y2="370.0" stroke="#70d8d0" stroke-width="0.6" stroke-opacity="0.8"/><line x1="23.0" y1="367.0" x2="11.5" y2="375.1" stroke="#70d8d0" stroke-width="0.6" stroke-opacity="0.8"/><line x1="18.4" y1="368.0" x2="23.0" y2="371.6" stroke="#70d8d0" stroke-width="0.6" stroke-opacity="0.8"/><line x1="18.4" y1="368.0" x2="19.6" y2="362.4" stroke="#70d8d0" stroke-width="0.6" stroke-opacity="0.8"/><line x1="18.4" y1="368.0" x2="27.8" y2="365.8" stroke="#70d8d0" stroke-width="0.6" stroke-opacity="0.8"/><line x1="18.4" y1="368.0" x2="17.9" y2="372.1" stroke="#70d8d0" stroke-width="0.6" stroke-opacity="0.8"/><line x1="18.4" y1="368.0" x2="11.5" y2="375.1" stroke="#70d8d0" stroke-width="0.6" stroke-opacity="0.8"/><line x1="23.0" y1="371.6" x2="19.6" y2="362.4" stroke="#70d8d0" stroke-width="0.6" stroke-opacity="0.8"/><line x1="23.0" y1="371.6" x2="27.8" y2="365.8" stroke="#70d8d0" stroke-width="0.6" stroke-opacity="0.8"/><line x1="27.1" y1="370.0" x2="10.0" y2="369.9" stroke="#70d8d0" stroke-width="0.6" stroke-opacity="0.8"/><line x1="19.6" y1="362.4" x2="27.8" y2="365.8" stroke="#70d8d0" stroke-width="0.6" stroke-opacity="0.8"/><line x1="27.8" y1="365.8" x2="10.0" y2="369.9" stroke="#70d8d0" stroke-width="0.6" stroke-opacity="0.8"/><line x1="76.3" y1="364.6" x2="64.0" y2="365.1" stroke="#b0b8e0" stroke-width="0.6" stroke-opacity="0.8"/><line x1="76.3" y1="364.6" x2="71.5" y2="372.0" stroke="#b0b8e0" stroke-width="0.6" stroke-opacity="0.8"/><line x1="76.3" y1="364.6" x2="78.6" y2="374.3" stroke="#b0b8e0" stroke-width="0.6" stroke-opacity="0.8"/><line x1="76.3" y1="364.6" x2="62.4" y2="358.2" stroke="#b0b8e0" stroke-width="0.6" stroke-opacity="0.8"/><line x1="72.0" y1="361.2" x2="64.0" y2="365.1" stroke="#b0b8e0" stroke-width="0.6" stroke-opacity="0.8"/><line x1="72.0" y1="361.2" x2="78.6" y2="374.3" stroke="#b0b8e0" stroke-width="0.6" stroke-opacity="0.8"/><line x1="72.0" y1="361.2" x2="81.5" y2="357.3" stroke="#b0b8e0" stroke-width="0.6" stroke-opacity="0.8"/><line x1="70.6" y1="366.3" x2="67.2" y2="362.6" stroke="#b0b8e0" stroke-width="0.6" stroke-opacity="0.8"/><line x1="70.6" y1="366.3" x2="78.6" y2="374.3" stroke="#b0b8e0" stroke-width="0.6" stroke-opacity="0.8"/><line x1="70.6" y1="366.3" x2="81.5" y2="357.3" stroke="#b0b8e0" stroke-width="0.6" stroke-opacity="0.8"/><line x1="64.0" y1="365.1" x2="78.6" y2="374.3" stroke="#b0b8e0" stroke-width="0.6" stroke-opacity="0.8"/><line x1="74.8" y1="368.5" x2="62.4" y2="358.2" stroke="#b0b8e0" stroke-width="0.6" stroke-opacity="0.8"/><line x1="67.4" y1="368.7" x2="78.6" y2="374.3" stroke="#b0b8e0" stroke-width="0.6" stroke-opacity="0.8"/><line x1="67.4" y1="368.7" x2="62.4" y2="358.2" stroke="#b0b8e0" stroke-width="0.6" stroke-opacity="0.8"/><line x1="67.4" y1="368.7" x2="81.5" y2="357.3" stroke="#b0b8e0" stroke-width="0.6" stroke-opacity="0.8"/><line x1="71.5" y1="372.0" x2="78.6" y2="374.3" stroke="#b0b8e0" stroke-width="0.6" stroke-opacity="0.8"/><line x1="71.5" y1="372.0" x2="81.5" y2="357.3" stroke="#b0b8e0" stroke-width="0.6" stroke-opacity="0.8"/><line x1="67.2" y1="362.6" x2="78.6" y2="374.3" stroke="#b0b8e0" stroke-width="0.6" stroke-opacity="0.8"/><line x1="139.8" y1="372.7" x2="132.8" y2="372.3" stroke="#a040c8" stroke-width="0.6" stroke-opacity="0.8"/><line x1="139.8" y1="372.7" x2="145.0" y2="374.8" stroke="#a040c8" stroke-width="0.6" stroke-opacity="0.8"/><line x1="139.8" y1="372.7" x2="126.4" y2="371.5" stroke="#a040c8" stroke-width="0.6" stroke-opacity="0.8"/><line x1="141.7" y1="380.0" x2="136.6" y2="367.7" stroke="#a040c8" stroke-width="0.6" stroke-opacity="0.8"/><line x1="141.7" y1="380.0" x2="134.1" y2="378.3" stroke="#a040c8" stroke-width="0.6" stroke-opacity="0.8"/><line x1="141.7" y1="380.0" x2="142.1" y2="369.4" stroke="#a040c8" stroke-width="0.6" stroke-opacity="0.8"/><line x1="141.7" y1="380.0" x2="146.4" y2="386.7" stroke="#a040c8" stroke-width="0.6" stroke-opacity="0.8"/><line x1="141.7" y1="380.0" x2="128.2" y2="381.1" stroke="#a040c8" stroke-width="0.6" stroke-opacity="0.8"/><line x1="141.7" y1="380.0" x2="126.4" y2="371.5" stroke="#a040c8" stroke-width="0.6" stroke-opacity="0.8"/><line x1="132.8" y1="372.3" x2="142.1" y2="369.4" stroke="#a040c8" stroke-width="0.6" stroke-opacity="0.8"/><line x1="132.8" y1="372.3" x2="128.2" y2="381.1" stroke="#a040c8" stroke-width="0.6" stroke-opacity="0.8"/><line x1="139.0" y1="376.8" x2="145.0" y2="374.8" stroke="#a040c8" stroke-width="0.6" stroke-opacity="0.8"/><line x1="139.0" y1="376.8" x2="136.6" y2="367.7" stroke="#a040c8" stroke-width="0.6" stroke-opacity="0.8"/><line x1="139.0" y1="376.8" x2="128.2" y2="381.1" stroke="#a040c8" stroke-width="0.6" stroke-opacity="0.8"/><line x1="145.0" y1="374.8" x2="134.1" y2="378.3" stroke="#a040c8" stroke-width="0.6" stroke-opacity="0.8"/><line x1="145.0" y1="374.8" x2="146.4" y2="386.7" stroke="#a040c8" stroke-width="0.6" stroke-opacity="0.8"/><line x1="136.6" y1="367.7" x2="146.4" y2="386.7" stroke="#a040c8" stroke-width="0.6" stroke-opacity="0.8"/><line x1="134.1" y1="378.3" x2="137.7" y2="380.5" stroke="#a040c8" stroke-width="0.6" stroke-opacity="0.8"/><line x1="142.1" y1="369.4" x2="146.4" y2="386.7" stroke="#a040c8" stroke-width="0.6" stroke-opacity="0.8"/><line x1="142.1" y1="369.4" x2="128.2" y2="381.1" stroke="#a040c8" stroke-width="0.6" stroke-opacity="0.8"/><line x1="137.7" y1="380.5" x2="128.2" y2="381.1" stroke="#a040c8" stroke-width="0.6" stroke-opacity="0.8"/><line x1="146.4" y1="386.7" x2="126.4" y2="371.5" stroke="#a040c8" stroke-width="0.6" stroke-opacity="0.8"/><line x1="208.9" y1="373.7" x2="204.2" y2="375.2" stroke="#50d040" stroke-width="0.6" stroke-opacity="0.8"/><line x1="208.9" y1="373.7" x2="207.5" y2="377.8" stroke="#50d040" stroke-width="0.6" stroke-opacity="0.8"/><line x1="204.2" y1="375.2" x2="200.1" y2="375.1" stroke="#50d040" stroke-width="0.6" stroke-opacity="0.8"/><line x1="204.2" y1="375.2" x2="207.5" y2="377.8" stroke="#50d040" stroke-width="0.6" stroke-opacity="0.8"/><line x1="204.2" y1="375.2" x2="207.5" y2="360.7" stroke="#50d040" stroke-width="0.6" stroke-opacity="0.8"/><line x1="204.2" y1="375.2" x2="195.6" y2="367.5" stroke="#50d040" stroke-width="0.6" stroke-opacity="0.8"/><line x1="204.2" y1="375.2" x2="206.7" y2="361.2" stroke="#50d040" stroke-width="0.6" stroke-opacity="0.8"/><line x1="204.0" y1="368.3" x2="212.5" y2="369.9" stroke="#50d040" stroke-width="0.6" stroke-opacity="0.8"/><line x1="204.0" y1="368.3" x2="207.5" y2="360.7" stroke="#50d040" stroke-width="0.6" stroke-opacity="0.8"/><line x1="204.0" y1="368.3" x2="195.6" y2="367.5" stroke="#50d040" stroke-width="0.6" stroke-opacity="0.8"/><line x1="212.5" y1="369.9" x2="200.1" y2="375.1" stroke="#50d040" stroke-width="0.6" stroke-opacity="0.8"/><line x1="208.3" y1="366.5" x2="207.5" y2="360.7" stroke="#50d040" stroke-width="0.6" stroke-opacity="0.8"/><line x1="200.2" y1="371.1" x2="200.1" y2="375.1" stroke="#50d040" stroke-width="0.6" stroke-opacity="0.8"/><line x1="200.2" y1="371.1" x2="207.5" y2="360.7" stroke="#50d040" stroke-width="0.6" stroke-opacity="0.8"/><line x1="200.2" y1="371.1" x2="195.6" y2="367.5" stroke="#50d040" stroke-width="0.6" stroke-opacity="0.8"/><line x1="200.2" y1="371.1" x2="206.7" y2="361.2" stroke="#50d040" stroke-width="0.6" stroke-opacity="0.8"/><line x1="200.1" y1="375.1" x2="207.5" y2="360.7" stroke="#50d040" stroke-width="0.6" stroke-opacity="0.8"/><line x1="200.1" y1="375.1" x2="195.6" y2="367.5" stroke="#50d040" stroke-width="0.6" stroke-opacity="0.8"/><line x1="207.5" y1="377.8" x2="195.6" y2="367.5" stroke="#50d040" stroke-width="0.6" stroke-opacity="0.8"/><line x1="207.5" y1="377.8" x2="206.7" y2="361.2" stroke="#50d040" stroke-width="0.6" stroke-opacity="0.8"/><line x1="207.5" y1="360.7" x2="195.6" y2="367.5" stroke="#50d040" stroke-width="0.6" stroke-opacity="0.8"/><line x1="195.6" y1="367.5" x2="206.7" y2="361.2" stroke="#50d040" stroke-width="0.6" stroke-opacity="0.8"/><line x1="34.1" y1="393.8" x2="38.4" y2="397.2" stroke="#202810" stroke-width="0.6" stroke-opacity="0.8"/><line x1="34.1" y1="393.8" x2="42.7" y2="396.3" stroke="#202810" stroke-width="0.6" stroke-opacity="0.8"/><line x1="34.1" y1="393.8" x2="32.0" y2="389.7" stroke="#202810" stroke-width="0.6" stroke-opacity="0.8"/><line x1="34.1" y1="393.8" x2="39.6" y2="385.0" stroke="#202810" stroke-width="0.6" stroke-opacity="0.8"/><line x1="38.4" y1="397.2" x2="38.9" y2="391.3" stroke="#202810" stroke-width="0.6" stroke-opacity="0.8"/><line x1="38.4" y1="397.2" x2="42.7" y2="388.2" stroke="#202810" stroke-width="0.6" stroke-opacity="0.8"/><line x1="38.4" y1="397.2" x2="42.7" y2="396.3" stroke="#202810" stroke-width="0.6" stroke-opacity="0.8"/><line x1="42.7" y1="388.2" x2="42.7" y2="396.3" stroke="#202810" stroke-width="0.6" stroke-opacity="0.8"/><line x1="42.7" y1="388.2" x2="39.6" y2="385.0" stroke="#202810" stroke-width="0.6" stroke-opacity="0.8"/><line x1="42.7" y1="388.2" x2="26.8" y2="388.1" stroke="#202810" stroke-width="0.6" stroke-opacity="0.8"/><line x1="36.2" y1="387.4" x2="32.0" y2="389.7" stroke="#202810" stroke-width="0.6" stroke-opacity="0.8"/><line x1="43.2" y1="392.2" x2="39.6" y2="385.0" stroke="#202810" stroke-width="0.6" stroke-opacity="0.8"/><line x1="94.2" y1="384.7" x2="88.6" y2="377.2" stroke="#80d0e0" stroke-width="0.6" stroke-opacity="0.8"/><line x1="94.2" y1="384.7" x2="95.5" y2="388.9" stroke="#80d0e0" stroke-width="0.6" stroke-opacity="0.8"/><line x1="94.2" y1="384.7" x2="84.5" y2="377.4" stroke="#80d0e0" stroke-width="0.6" stroke-opacity="0.8"/><line x1="90.7" y1="382.4" x2="86.0" y2="387.4" stroke="#80d0e0" stroke-width="0.6" stroke-opacity="0.8"/><line x1="90.7" y1="382.4" x2="102.0" y2="376.4" stroke="#80d0e0" stroke-width="0.6" stroke-opacity="0.8"/><line x1="90.7" y1="382.4" x2="84.5" y2="377.4" stroke="#80d0e0" stroke-width="0.6" stroke-opacity="0.8"/><line x1="90.7" y1="382.4" x2="104.7" y2="389.4" stroke="#80d0e0" stroke-width="0.6" stroke-opacity="0.8"/><line x1="91.0" y1="390.4" x2="95.2" y2="379.5" stroke="#80d0e0" stroke-width="0.6" stroke-opacity="0.8"/><line x1="91.0" y1="390.4" x2="88.6" y2="377.2" stroke="#80d0e0" stroke-width="0.6" stroke-opacity="0.8"/><line x1="91.0" y1="390.4" x2="98.0" y2="383.4" stroke="#80d0e0" stroke-width="0.6" stroke-opacity="0.8"/><line x1="86.0" y1="387.4" x2="95.2" y2="379.5" stroke="#80d0e0" stroke-width="0.6" stroke-opacity="0.8"/><line x1="86.0" y1="387.4" x2="90.4" y2="386.4" stroke="#80d0e0" stroke-width="0.6" stroke-opacity="0.8"/><line x1="86.0" y1="387.4" x2="102.0" y2="376.4" stroke="#80d0e0" stroke-width="0.6" stroke-opacity="0.8"/><line x1="95.2" y1="379.5" x2="95.5" y2="388.9" stroke="#80d0e0" stroke-width="0.6" stroke-opacity="0.8"/><line x1="88.6" y1="377.2" x2="85.2" y2="380.8" stroke="#80d0e0" stroke-width="0.6" stroke-opacity="0.8"/><line x1="88.6" y1="377.2" x2="90.4" y2="386.4" stroke="#80d0e0" stroke-width="0.6" stroke-opacity="0.8"/><line x1="88.6" y1="377.2" x2="102.0" y2="376.4" stroke="#80d0e0" stroke-width="0.6" stroke-opacity="0.8"/><line x1="85.2" y1="380.8" x2="84.5" y2="377.4" stroke="#80d0e0" stroke-width="0.6" stroke-opacity="0.8"/><line x1="98.0" y1="383.4" x2="95.5" y2="388.9" stroke="#80d0e0" stroke-width="0.6" stroke-opacity="0.8"/><line x1="98.0" y1="383.4" x2="84.5" y2="377.4" stroke="#80d0e0" stroke-width="0.6" stroke-opacity="0.8"/><line x1="90.4" y1="386.4" x2="102.0" y2="376.4" stroke="#80d0e0" stroke-width="0.6" stroke-opacity="0.8"/><line x1="111.8" y1="391.1" x2="110.7" y2="385.8" stroke="#501020" stroke-width="0.6" stroke-opacity="0.8"/><line x1="111.8" y1="391.1" x2="123.0" y2="388.3" stroke="#501020" stroke-width="0.6" stroke-opacity="0.8"/><line x1="111.8" y1="391.1" x2="121.0" y2="377.8" stroke="#501020" stroke-width="0.6" stroke-opacity="0.8"/><line x1="114.8" y1="383.6" x2="120.7" y2="392.1" stroke="#501020" stroke-width="0.6" stroke-opacity="0.8"/><line x1="114.8" y1="383.6" x2="110.7" y2="385.8" stroke="#501020" stroke-width="0.6" stroke-opacity="0.8"/><line x1="114.8" y1="383.6" x2="115.5" y2="393.2" stroke="#501020" stroke-width="0.6" stroke-opacity="0.8"/><line x1="114.8" y1="383.6" x2="123.0" y2="388.3" stroke="#501020" stroke-width="0.6" stroke-opacity="0.8"/><line x1="120.7" y1="392.1" x2="115.5" y2="393.2" stroke="#501020" stroke-width="0.6" stroke-opacity="0.8"/><line x1="120.7" y1="392.1" x2="123.0" y2="388.3" stroke="#501020" stroke-width="0.6" stroke-opacity="0.8"/><line x1="120.7" y1="392.1" x2="117.6" y2="380.2" stroke="#501020" stroke-width="0.6" stroke-opacity="0.8"/><line x1="110.7" y1="385.8" x2="117.6" y2="380.2" stroke="#501020" stroke-width="0.6" stroke-opacity="0.8"/><line x1="115.5" y1="393.2" x2="114.5" y2="376.9" stroke="#501020" stroke-width="0.6" stroke-opacity="0.8"/><line x1="123.0" y1="388.3" x2="117.6" y2="380.2" stroke="#501020" stroke-width="0.6" stroke-opacity="0.8"/><line x1="121.0" y1="377.8" x2="114.5" y2="376.9" stroke="#501020" stroke-width="0.6" stroke-opacity="0.8"/><line x1="150.3" y1="385.9" x2="153.1" y2="392.6" stroke="#3080d0" stroke-width="0.6" stroke-opacity="0.8"/><line x1="150.3" y1="385.9" x2="145.3" y2="393.0" stroke="#3080d0" stroke-width="0.6" stroke-opacity="0.8"/><line x1="150.3" y1="385.9" x2="148.3" y2="396.1" stroke="#3080d0" stroke-width="0.6" stroke-opacity="0.8"/><line x1="150.3" y1="385.9" x2="148.4" y2="390.3" stroke="#3080d0" stroke-width="0.6" stroke-opacity="0.8"/><line x1="150.3" y1="385.9" x2="135.0" y2="386.7" stroke="#3080d0" stroke-width="0.6" stroke-opacity="0.8"/><line x1="153.1" y1="392.6" x2="148.4" y2="390.3" stroke="#3080d0" stroke-width="0.6" stroke-opacity="0.8"/><line x1="153.1" y1="392.6" x2="144.5" y2="386.7" stroke="#3080d0" stroke-width="0.6" stroke-opacity="0.8"/><line x1="153.1" y1="392.6" x2="152.3" y2="396.6" stroke="#3080d0" stroke-width="0.6" stroke-opacity="0.8"/><line x1="153.1" y1="392.6" x2="142.1" y2="390.5" stroke="#3080d0" stroke-width="0.6" stroke-opacity="0.8"/><line x1="153.1" y1="392.6" x2="135.0" y2="386.7" stroke="#3080d0" stroke-width="0.6" stroke-opacity="0.8"/><line x1="145.3" y1="393.0" x2="148.4" y2="390.3" stroke="#3080d0" stroke-width="0.6" stroke-opacity="0.8"/><line x1="148.3" y1="396.1" x2="148.4" y2="390.3" stroke="#3080d0" stroke-width="0.6" stroke-opacity="0.8"/><line x1="148.3" y1="396.1" x2="142.1" y2="390.5" stroke="#3080d0" stroke-width="0.6" stroke-opacity="0.8"/><line x1="148.3" y1="396.1" x2="135.0" y2="386.7" stroke="#3080d0" stroke-width="0.6" stroke-opacity="0.8"/><line x1="148.4" y1="390.3" x2="144.5" y2="386.7" stroke="#3080d0" stroke-width="0.6" stroke-opacity="0.8"/><line x1="144.5" y1="386.7" x2="152.3" y2="396.6" stroke="#3080d0" stroke-width="0.6" stroke-opacity="0.8"/><line x1="144.5" y1="386.7" x2="142.1" y2="390.5" stroke="#3080d0" stroke-width="0.6" stroke-opacity="0.8"/><line x1="152.3" y1="396.6" x2="142.1" y2="390.5" stroke="#3080d0" stroke-width="0.6" stroke-opacity="0.8"/><line x1="152.3" y1="396.6" x2="135.0" y2="386.7" stroke="#3080d0" stroke-width="0.6" stroke-opacity="0.8"/><line x1="142.1" y1="390.5" x2="135.0" y2="386.7" stroke="#3080d0" stroke-width="0.6" stroke-opacity="0.8"/><line x1="168.5" y1="395.0" x2="168.6" y2="390.5" stroke="#c070d0" stroke-width="0.6" stroke-opacity="0.8"/><line x1="168.5" y1="395.0" x2="165.7" y2="398.3" stroke="#c070d0" stroke-width="0.6" stroke-opacity="0.8"/><line x1="168.5" y1="395.0" x2="172.2" y2="386.9" stroke="#c070d0" stroke-width="0.6" stroke-opacity="0.8"/><line x1="168.5" y1="395.0" x2="164.0" y2="388.9" stroke="#c070d0" stroke-width="0.6" stroke-opacity="0.8"/><line x1="168.5" y1="395.0" x2="156.6" y2="389.1" stroke="#c070d0" stroke-width="0.6" stroke-opacity="0.8"/><line x1="168.5" y1="395.0" x2="161.0" y2="398.7" stroke="#c070d0" stroke-width="0.6" stroke-opacity="0.8"/><line x1="173.1" y1="391.6" x2="167.6" y2="386.4" stroke="#c070d0" stroke-width="0.6" stroke-opacity="0.8"/><line x1="173.1" y1="391.6" x2="172.2" y2="386.9" stroke="#c070d0" stroke-width="0.6" stroke-opacity="0.8"/><line x1="173.1" y1="391.6" x2="164.0" y2="388.9" stroke="#c070d0" stroke-width="0.6" stroke-opacity="0.8"/><line x1="173.1" y1="391.6" x2="161.0" y2="398.7" stroke="#c070d0" stroke-width="0.6" stroke-opacity="0.8"/><line x1="173.6" y1="395.6" x2="172.2" y2="386.9" stroke="#c070d0" stroke-width="0.6" stroke-opacity="0.8"/><line x1="173.6" y1="395.6" x2="161.0" y2="398.7" stroke="#c070d0" stroke-width="0.6" stroke-opacity="0.8"/><line x1="167.6" y1="386.4" x2="170.3" y2="399.8" stroke="#c070d0" stroke-width="0.6" stroke-opacity="0.8"/><line x1="167.6" y1="386.4" x2="165.7" y2="398.3" stroke="#c070d0" stroke-width="0.6" stroke-opacity="0.8"/><line x1="168.6" y1="390.5" x2="172.2" y2="386.9" stroke="#c070d0" stroke-width="0.6" stroke-opacity="0.8"/><line x1="168.6" y1="390.5" x2="164.0" y2="388.9" stroke="#c070d0" stroke-width="0.6" stroke-opacity="0.8"/><line x1="164.7" y1="393.0" x2="156.6" y2="389.1" stroke="#c070d0" stroke-width="0.6" stroke-opacity="0.8"/><line x1="170.3" y1="399.8" x2="172.2" y2="386.9" stroke="#c070d0" stroke-width="0.6" stroke-opacity="0.8"/><line x1="170.3" y1="399.8" x2="164.0" y2="388.9" stroke="#c070d0" stroke-width="0.6" stroke-opacity="0.8"/><line x1="170.3" y1="399.8" x2="156.6" y2="389.1" stroke="#c070d0" stroke-width="0.6" stroke-opacity="0.8"/><line x1="170.3" y1="399.8" x2="161.0" y2="398.7" stroke="#c070d0" stroke-width="0.6" stroke-opacity="0.8"/><line x1="165.7" y1="398.3" x2="172.2" y2="386.9" stroke="#c070d0" stroke-width="0.6" stroke-opacity="0.8"/><line x1="165.7" y1="398.3" x2="156.6" y2="389.1" stroke="#c070d0" stroke-width="0.6" stroke-opacity="0.8"/><line x1="165.7" y1="398.3" x2="161.0" y2="398.7" stroke="#c070d0" stroke-width="0.6" stroke-opacity="0.8"/><line x1="156.6" y1="389.1" x2="161.0" y2="398.7" stroke="#c070d0" stroke-width="0.6" stroke-opacity="0.8"/><line x1="191.0" y1="394.8" x2="192.1" y2="399.0" stroke="#70e040" stroke-width="0.6" stroke-opacity="0.8"/><line x1="191.0" y1="394.8" x2="197.9" y2="398.0" stroke="#70e040" stroke-width="0.6" stroke-opacity="0.8"/><line x1="191.0" y1="394.8" x2="190.3" y2="405.3" stroke="#70e040" stroke-width="0.6" stroke-opacity="0.8"/><line x1="191.0" y1="394.8" x2="200.6" y2="383.4" stroke="#70e040" stroke-width="0.6" stroke-opacity="0.8"/><line x1="192.1" y1="399.0" x2="195.2" y2="395.0" stroke="#70e040" stroke-width="0.6" stroke-opacity="0.8"/><line x1="192.1" y1="399.0" x2="200.6" y2="383.4" stroke="#70e040" stroke-width="0.6" stroke-opacity="0.8"/><line x1="192.1" y1="399.0" x2="195.3" y2="386.9" stroke="#70e040" stroke-width="0.6" stroke-opacity="0.8"/><line x1="197.8" y1="391.9" x2="192.5" y2="390.5" stroke="#70e040" stroke-width="0.6" stroke-opacity="0.8"/><line x1="197.8" y1="391.9" x2="200.6" y2="383.4" stroke="#70e040" stroke-width="0.6" stroke-opacity="0.8"/><line x1="197.8" y1="391.9" x2="195.3" y2="386.9" stroke="#70e040" stroke-width="0.6" stroke-opacity="0.8"/><line x1="197.9" y1="398.0" x2="200.6" y2="383.4" stroke="#70e040" stroke-width="0.6" stroke-opacity="0.8"/><line x1="201.7" y1="395.0" x2="194.5" y2="402.9" stroke="#70e040" stroke-width="0.6" stroke-opacity="0.8"/><line x1="201.7" y1="395.0" x2="192.5" y2="390.5" stroke="#70e040" stroke-width="0.6" stroke-opacity="0.8"/><line x1="201.7" y1="395.0" x2="200.6" y2="383.4" stroke="#70e040" stroke-width="0.6" stroke-opacity="0.8"/><line x1="194.5" y1="402.9" x2="190.3" y2="405.3" stroke="#70e040" stroke-width="0.6" stroke-opacity="0.8"/><line x1="192.5" y1="390.5" x2="190.3" y2="405.3" stroke="#70e040" stroke-width="0.6" stroke-opacity="0.8"/><line x1="190.3" y1="405.3" x2="195.3" y2="386.9" stroke="#70e040" stroke-width="0.6" stroke-opacity="0.8"/><line x1="200.6" y1="383.4" x2="195.3" y2="386.9" stroke="#70e040" stroke-width="0.6" stroke-opacity="0.8"/><line x1="61.8" y1="401.9" x2="68.1" y2="400.4" stroke="#8a4a10" stroke-width="0.6" stroke-opacity="0.8"/><line x1="61.8" y1="401.9" x2="64.2" y2="398.5" stroke="#8a4a10" stroke-width="0.6" stroke-opacity="0.8"/><line x1="61.8" y1="401.9" x2="61.0" y2="391.6" stroke="#8a4a10" stroke-width="0.6" stroke-opacity="0.8"/><line x1="72.7" y1="406.2" x2="64.2" y2="398.5" stroke="#8a4a10" stroke-width="0.6" stroke-opacity="0.8"/><line x1="68.1" y1="400.4" x2="69.9" y2="409.3" stroke="#8a4a10" stroke-width="0.6" stroke-opacity="0.8"/><line x1="68.1" y1="400.4" x2="61.0" y2="391.6" stroke="#8a4a10" stroke-width="0.6" stroke-opacity="0.8"/><line x1="69.9" y1="409.3" x2="64.2" y2="398.5" stroke="#8a4a10" stroke-width="0.6" stroke-opacity="0.8"/><line x1="69.9" y1="409.3" x2="61.0" y2="391.6" stroke="#8a4a10" stroke-width="0.6" stroke-opacity="0.8"/><line x1="63.1" y1="409.1" x2="72.3" y2="400.8" stroke="#8a4a10" stroke-width="0.6" stroke-opacity="0.8"/><line x1="99.5" y1="406.6" x2="103.3" y2="404.2" stroke="#f0a060" stroke-width="0.6" stroke-opacity="0.8"/><line x1="99.5" y1="406.6" x2="91.7" y2="407.4" stroke="#f0a060" stroke-width="0.6" stroke-opacity="0.8"/><line x1="99.5" y1="406.6" x2="99.2" y2="410.8" stroke="#f0a060" stroke-width="0.6" stroke-opacity="0.8"/><line x1="99.5" y1="406.6" x2="98.1" y2="414.6" stroke="#f0a060" stroke-width="0.6" stroke-opacity="0.8"/><line x1="99.5" y1="406.6" x2="86.8" y2="403.9" stroke="#f0a060" stroke-width="0.6" stroke-opacity="0.8"/><line x1="103.3" y1="404.2" x2="94.0" y2="402.3" stroke="#f0a060" stroke-width="0.6" stroke-opacity="0.8"/><line x1="94.0" y1="402.3" x2="99.6" y2="402.3" stroke="#f0a060" stroke-width="0.6" stroke-opacity="0.8"/><line x1="94.0" y1="402.3" x2="91.7" y2="407.4" stroke="#f0a060" stroke-width="0.6" stroke-opacity="0.8"/><line x1="94.0" y1="402.3" x2="86.8" y2="403.9" stroke="#f0a060" stroke-width="0.6" stroke-opacity="0.8"/><line x1="93.5" y1="411.9" x2="103.1" y2="412.1" stroke="#f0a060" stroke-width="0.6" stroke-opacity="0.8"/><line x1="93.5" y1="411.9" x2="98.1" y2="414.6" stroke="#f0a060" stroke-width="0.6" stroke-opacity="0.8"/><line x1="93.5" y1="411.9" x2="86.8" y2="403.9" stroke="#f0a060" stroke-width="0.6" stroke-opacity="0.8"/><line x1="99.6" y1="402.3" x2="91.7" y2="407.4" stroke="#f0a060" stroke-width="0.6" stroke-opacity="0.8"/><line x1="103.1" y1="412.1" x2="98.1" y2="414.6" stroke="#f0a060" stroke-width="0.6" stroke-opacity="0.8"/><line x1="129.9" y1="416.8" x2="122.3" y2="417.7" stroke="#70d8c8" stroke-width="0.6" stroke-opacity="0.8"/><line x1="129.9" y1="416.8" x2="123.6" y2="421.9" stroke="#70d8c8" stroke-width="0.6" stroke-opacity="0.8"/><line x1="128.1" y1="422.1" x2="122.3" y2="417.7" stroke="#70d8c8" stroke-width="0.6" stroke-opacity="0.8"/><line x1="128.1" y1="422.1" x2="119.3" y2="414.6" stroke="#70d8c8" stroke-width="0.6" stroke-opacity="0.8"/><line x1="128.1" y1="422.1" x2="123.6" y2="421.9" stroke="#70d8c8" stroke-width="0.6" stroke-opacity="0.8"/><line x1="128.1" y1="422.1" x2="127.5" y2="413.6" stroke="#70d8c8" stroke-width="0.6" stroke-opacity="0.8"/><line x1="128.1" y1="422.1" x2="120.1" y2="402.4" stroke="#70d8c8" stroke-width="0.6" stroke-opacity="0.8"/><line x1="123.8" y1="411.9" x2="128.7" y2="409.5" stroke="#70d8c8" stroke-width="0.6" stroke-opacity="0.8"/><line x1="123.8" y1="411.9" x2="122.3" y2="417.7" stroke="#70d8c8" stroke-width="0.6" stroke-opacity="0.8"/><line x1="123.8" y1="411.9" x2="120.1" y2="402.4" stroke="#70d8c8" stroke-width="0.6" stroke-opacity="0.8"/><line x1="128.7" y1="409.5" x2="122.3" y2="417.7" stroke="#70d8c8" stroke-width="0.6" stroke-opacity="0.8"/><line x1="128.7" y1="409.5" x2="135.6" y2="407.4" stroke="#70d8c8" stroke-width="0.6" stroke-opacity="0.8"/><line x1="122.3" y1="417.7" x2="135.6" y2="407.4" stroke="#70d8c8" stroke-width="0.6" stroke-opacity="0.8"/><line x1="127.5" y1="413.6" x2="120.1" y2="402.4" stroke="#70d8c8" stroke-width="0.6" stroke-opacity="0.8"/><line x1="158.2" y1="412.9" x2="161.6" y2="423.3" stroke="#e080e8" stroke-width="0.6" stroke-opacity="0.8"/><line x1="158.2" y1="412.9" x2="156.2" y2="416.7" stroke="#e080e8" stroke-width="0.6" stroke-opacity="0.8"/><line x1="162.8" y1="419.3" x2="151.8" y2="415.9" stroke="#e080e8" stroke-width="0.6" stroke-opacity="0.8"/><line x1="162.8" y1="419.3" x2="156.2" y2="416.7" stroke="#e080e8" stroke-width="0.6" stroke-opacity="0.8"/><line x1="162.8" y1="419.3" x2="162.2" y2="414.7" stroke="#e080e8" stroke-width="0.6" stroke-opacity="0.8"/><line x1="162.8" y1="419.3" x2="163.5" y2="407.9" stroke="#e080e8" stroke-width="0.6" stroke-opacity="0.8"/><line x1="162.8" y1="419.3" x2="168.1" y2="410.9" stroke="#e080e8" stroke-width="0.6" stroke-opacity="0.8"/><line x1="152.9" y1="420.4" x2="156.2" y2="416.7" stroke="#e080e8" stroke-width="0.6" stroke-opacity="0.8"/><line x1="152.9" y1="420.4" x2="162.2" y2="414.7" stroke="#e080e8" stroke-width="0.6" stroke-opacity="0.8"/><line x1="158.3" y1="420.1" x2="161.6" y2="423.3" stroke="#e080e8" stroke-width="0.6" stroke-opacity="0.8"/><line x1="158.3" y1="420.1" x2="156.2" y2="416.7" stroke="#e080e8" stroke-width="0.6" stroke-opacity="0.8"/><line x1="151.8" y1="415.9" x2="153.3" y2="424.5" stroke="#e080e8" stroke-width="0.6" stroke-opacity="0.8"/><line x1="151.8" y1="415.9" x2="162.2" y2="414.7" stroke="#e080e8" stroke-width="0.6" stroke-opacity="0.8"/><line x1="151.8" y1="415.9" x2="163.5" y2="407.9" stroke="#e080e8" stroke-width="0.6" stroke-opacity="0.8"/><line x1="151.8" y1="415.9" x2="168.1" y2="410.9" stroke="#e080e8" stroke-width="0.6" stroke-opacity="0.8"/><line x1="161.6" y1="423.3" x2="153.3" y2="424.5" stroke="#e080e8" stroke-width="0.6" stroke-opacity="0.8"/><line x1="161.6" y1="423.3" x2="162.2" y2="414.7" stroke="#e080e8" stroke-width="0.6" stroke-opacity="0.8"/><line x1="161.6" y1="423.3" x2="168.1" y2="410.9" stroke="#e080e8" stroke-width="0.6" stroke-opacity="0.8"/><line x1="161.6" y1="423.3" x2="161.8" y2="427.9" stroke="#e080e8" stroke-width="0.6" stroke-opacity="0.8"/><line x1="153.3" y1="424.5" x2="162.2" y2="414.7" stroke="#e080e8" stroke-width="0.6" stroke-opacity="0.8"/><line x1="153.3" y1="424.5" x2="168.1" y2="410.9" stroke="#e080e8" stroke-width="0.6" stroke-opacity="0.8"/><line x1="153.3" y1="424.5" x2="161.8" y2="427.9" stroke="#e080e8" stroke-width="0.6" stroke-opacity="0.8"/><line x1="156.2" y1="416.7" x2="162.2" y2="414.7" stroke="#e080e8" stroke-width="0.6" stroke-opacity="0.8"/><line x1="156.2" y1="416.7" x2="168.1" y2="410.9" stroke="#e080e8" stroke-width="0.6" stroke-opacity="0.8"/><line x1="162.2" y1="414.7" x2="161.8" y2="427.9" stroke="#e080e8" stroke-width="0.6" stroke-opacity="0.8"/><line x1="163.5" y1="407.9" x2="161.8" y2="427.9" stroke="#e080e8" stroke-width="0.6" stroke-opacity="0.8"/></g>
<g stroke="#2a2a2a" stroke-width="0.45" stroke-opacity="0.8"><circle cx="100.4" cy="232.9" r="2.2" fill="#3050d8"/><circle cx="97.5" cy="235.9" r="2.2" fill="#3050d8"/><circle cx="89.9" cy="236.0" r="2.2" fill="#3050d8"/><circle cx="93.0" cy="240.0" r="2.2" fill="#3050d8"/><circle cx="100.8" cy="238.5" r="2.2" fill="#3050d8"/><circle cx="97.7" cy="244.1" r="2.2" fill="#3050d8"/><circle cx="93.4" cy="233.5" r="2.2" fill="#3050d8"/><circle cx="96.8" cy="231.0" r="2.2" fill="#3050d8"/><circle cx="97.1" cy="240.1" r="2.2" fill="#3050d8"/><circle cx="87.6" cy="234.8" r="2.2" fill="#3050d8"/><circle cx="133.7" cy="229.1" r="2.2" fill="#40b4d0"/><circle cx="137.7" cy="235.6" r="2.2" fill="#40b4d0"/><circle cx="130.8" cy="235.8" r="2.2" fill="#40b4d0"/><circle cx="141.0" cy="231.0" r="2.2" fill="#40b4d0"/><circle cx="134.7" cy="238.7" r="2.2" fill="#40b4d0"/><circle cx="128.3" cy="231.1" r="2.2" fill="#40b4d0"/><circle cx="137.7" cy="227.2" r="2.2" fill="#40b4d0"/><circle cx="134.3" cy="233.2" r="2.2" fill="#40b4d0"/><circle cx="131.8" cy="218.9" r="2.2" fill="#40b4d0"/><circle cx="124.6" cy="237.0" r="2.2" fill="#40b4d0"/><circle cx="161.0" cy="238.2" r="2.2" fill="#40a070"/><circle cx="167.7" cy="232.7" r="2.2" fill="#40a070"/><circle cx="168.1" cy="242.2" r="2.2" fill="#40a070"/><circle cx="165.6" cy="238.1" r="2.2" fill="#40a070"/><circle cx="172.5" cy="235.9" r="2.2" fill="#40a070"/><circle cx="161.3" cy="243.0" r="2.2" fill="#40a070"/><circle cx="162.6" cy="233.2" r="2.2" fill="#40a070"/><circle cx="172.1" cy="240.5" r="2.2" fill="#40a070"/><circle cx="153.8" cy="238.9" r="2.2" fill="#40a070"/><circle cx="198.1" cy="247.4" r="2.2" fill="#70e040"/><circle cx="189.5" cy="247.3" r="2.2" fill="#70e040"/><circle cx="197.4" cy="253.7" r="2.2" fill="#70e040"/><circle cx="192.3" cy="251.5" r="2.2" fill="#70e040"/><circle cx="186.9" cy="251.7" r="2.2" fill="#70e040"/><circle cx="189.8" cy="255.4" r="2.2" fill="#70e040"/><circle cx="194.8" cy="244.6" r="2.2" fill="#70e040"/><circle cx="190.9" cy="243.5" r="2.2" fill="#70e040"/><circle cx="190.6" cy="263.7" r="2.2" fill="#70e040"/><circle cx="203.6" cy="241.8" r="2.2" fill="#70e040"/><circle cx="191.0" cy="235.3" r="2.2" fill="#70e040"/><circle cx="48.9" cy="262.1" r="2.2" fill="#c82020"/><circle cx="48.7" cy="255.9" r="2.2" fill="#c82020"/><circle cx="52.1" cy="253.1" r="2.2" fill="#c82020"/><circle cx="44.3" cy="257.0" r="2.2" fill="#c82020"/><circle cx="44.7" cy="252.9" r="2.2" fill="#c82020"/><circle cx="54.2" cy="256.5" r="2.2" fill="#c82020"/><circle cx="41.7" cy="261.7" r="2.2" fill="#c82020"/><circle cx="45.3" cy="263.9" r="2.2" fill="#c82020"/><circle cx="53.1" cy="261.8" r="2.2" fill="#c82020"/><circle cx="48.4" cy="251.2" r="2.2" fill="#c82020"/><circle cx="45.7" cy="270.0" r="2.2" fill="#c82020"/><circle cx="38.4" cy="269.3" r="2.2" fill="#c82020"/><circle cx="75.1" cy="250.2" r="2.2" fill="#8020c0"/><circle cx="68.7" cy="254.6" r="2.2" fill="#8020c0"/><circle cx="65.8" cy="250.0" r="2.2" fill="#8020c0"/><circle cx="73.1" cy="258.5" r="2.2" fill="#8020c0"/><circle cx="70.5" cy="250.0" r="2.2" fill="#8020c0"/><circle cx="75.9" cy="254.8" r="2.2" fill="#8020c0"/><circle cx="64.8" cy="255.6" r="2.2" fill="#8020c0"/><circle cx="68.0" cy="258.6" r="2.2" fill="#8020c0"/><circle cx="72.4" cy="246.1" r="2.2" fill="#8020c0"/><circle cx="63.4" cy="243.7" r="2.2" fill="#8020c0"/><circle cx="121.0" cy="263.6" r="2.2" fill="#e05010"/><circle cx="117.0" cy="257.9" r="2.2" fill="#e05010"/><circle cx="116.1" cy="267.1" r="2.2" fill="#e05010"/><circle cx="126.5" cy="263.2" r="2.2" fill="#e05010"/><circle cx="120.4" cy="268.9" r="2.2" fill="#e05010"/><circle cx="121.5" cy="259.4" r="2.2" fill="#e05010"/><circle cx="124.0" cy="266.9" r="2.2" fill="#e05010"/><circle cx="112.6" cy="263.9" r="2.2" fill="#e05010"/><circle cx="116.4" cy="275.2" r="2.2" fill="#e05010"/><circle cx="113.7" cy="272.6" r="2.2" fill="#e05010"/><circle cx="112.8" cy="257.6" r="2.2" fill="#e05010"/><circle cx="146.9" cy="261.1" r="2.2" fill="#d040d0"/><circle cx="151.6" cy="260.1" r="2.2" fill="#d040d0"/><circle cx="149.5" cy="254.2" r="2.2" fill="#d040d0"/><circle cx="144.2" cy="264.5" r="2.2" fill="#d040d0"/><circle cx="140.2" cy="259.1" r="2.2" fill="#d040d0"/><circle cx="143.8" cy="254.1" r="2.2" fill="#d040d0"/><circle cx="147.9" cy="266.3" r="2.2" fill="#d040d0"/><circle cx="152.3" cy="264.3" r="2.2" fill="#d040d0"/><circle cx="136.4" cy="269.8" r="2.2" fill="#d040d0"/><circle cx="170.6" cy="266.1" r="2.2" fill="#906050"/><circle cx="177.6" cy="272.9" r="2.2" fill="#906050"/><circle cx="181.2" cy="269.8" r="2.2" fill="#906050"/><circle cx="175.2" cy="276.3" r="2.2" fill="#906050"/><circle cx="177.4" cy="267.2" r="2.2" fill="#906050"/><circle cx="173.9" cy="269.8" r="2.2" fill="#906050"/><circle cx="171.4" cy="272.9" r="2.2" fill="#906050"/><circle cx="176.9" cy="263.1" r="2.2" fill="#906050"/><circle cx="168.8" cy="269.8" r="2.2" fill="#906050"/><circle cx="181.7" cy="280.6" r="2.2" fill="#906050"/><circle cx="22.0" cy="271.9" r="2.2" fill="#80e040"/><circle cx="24.8" cy="275.3" r="2.2" fill="#80e040"/><circle cx="17.9" cy="267.1" r="2.2" fill="#80e040"/><circle cx="22.2" cy="267.3" r="2.2" fill="#80e040"/><circle cx="20.0" cy="276.3" r="2.2" fill="#80e040"/><circle cx="27.3" cy="271.7" r="2.2" fill="#80e040"/><circle cx="15.9" cy="272.9" r="2.2" fill="#80e040"/><circle cx="26.4" cy="266.3" r="2.2" fill="#80e040"/><circle cx="30.7" cy="268.1" r="2.2" fill="#80e040"/><circle cx="98.1" cy="266.7" r="2.2" fill="#80a0e0"/><circle cx="99.1" cy="271.2" r="2.2" fill="#80a0e0"/><circle cx="90.6" cy="269.4" r="2.2" fill="#80a0e0"/><circle cx="94.4" cy="264.8" r="2.2" fill="#80a0e0"/><circle cx="94.0" cy="271.6" r="2.2" fill="#80a0e0"/><circle cx="98.1" cy="276.3" r="2.2" fill="#80a0e0"/><circle cx="93.2" cy="275.8" r="2.2" fill="#80a0e0"/><circle cx="102.9" cy="269.3" r="2.2" fill="#80a0e0"/><circle cx="94.6" cy="283.2" r="2.2" fill="#80a0e0"/><circle cx="102.7" cy="261.1" r="2.2" fill="#80a0e0"/><circle cx="83.8" cy="273.8" r="2.2" fill="#80a0e0"/><circle cx="69.5" cy="279.1" r="2.2" fill="#c0a0e8"/><circle cx="62.6" cy="287.3" r="2.2" fill="#c0a0e8"/><circle cx="68.4" cy="283.3" r="2.2" fill="#c0a0e8"/><circle cx="60.9" cy="282.5" r="2.2" fill="#c0a0e8"/><circle cx="61.4" cy="277.8" r="2.2" fill="#c0a0e8"/><circle cx="68.0" cy="287.5" r="2.2" fill="#c0a0e8"/><circle cx="64.7" cy="281.0" r="2.2" fill="#c0a0e8"/><circle cx="65.0" cy="275.6" r="2.2" fill="#c0a0e8"/><circle cx="73.3" cy="280.6" r="2.2" fill="#c0a0e8"/><circle cx="72.4" cy="284.8" r="2.2" fill="#c0a0e8"/><circle cx="74.8" cy="289.2" r="2.2" fill="#c0a0e8"/><circle cx="96.1" cy="288.3" r="2.2" fill="#c090e0"/><circle cx="94.3" cy="282.3" r="2.2" fill="#c090e0"/><circle cx="90.7" cy="284.5" r="2.2" fill="#c090e0"/><circle cx="91.7" cy="289.6" r="2.2" fill="#c090e0"/><circle cx="88.0" cy="293.1" r="2.2" fill="#c090e0"/><circle cx="94.2" cy="293.9" r="2.2" fill="#c090e0"/><circle cx="86.4" cy="289.0" r="2.2" fill="#c090e0"/><circle cx="85.9" cy="284.8" r="2.2" fill="#c090e0"/><circle cx="78.6" cy="282.7" r="2.2" fill="#c090e0"/><circle cx="124.5" cy="288.4" r="2.2" fill="#80e080"/><circle cx="120.3" cy="290.6" r="2.2" fill="#80e080"/><circle cx="115.2" cy="287.6" r="2.2" fill="#80e080"/><circle cx="121.0" cy="282.7" r="2.2" fill="#80e080"/><circle cx="114.3" cy="293.2" r="2.2" fill="#80e080"/><circle cx="116.9" cy="283.3" r="2.2" fill="#80e080"/><circle cx="119.7" cy="286.6" r="2.2" fill="#80e080"/><circle cx="118.9" cy="294.5" r="2.2" fill="#80e080"/><circle cx="106.2" cy="286.7" r="2.2" fill="#80e080"/><circle cx="139.7" cy="289.5" r="2.2" fill="#d03060"/><circle cx="144.2" cy="286.0" r="2.2" fill="#d03060"/><circle cx="136.7" cy="292.4" r="2.2" fill="#d03060"/><circle cx="140.7" cy="294.2" r="2.2" fill="#d03060"/><circle cx="143.8" cy="291.1" r="2.2" fill="#d03060"/><circle cx="136.0" cy="286.5" r="2.2" fill="#d03060"/><circle cx="138.7" cy="283.3" r="2.2" fill="#d03060"/><circle cx="142.7" cy="282.2" r="2.2" fill="#d03060"/><circle cx="147.7" cy="289.9" r="2.2" fill="#d03060"/><circle cx="136.1" cy="276.0" r="2.2" fill="#d03060"/><circle cx="134.9" cy="297.5" r="2.2" fill="#d03060"/><circle cx="133.4" cy="298.3" r="2.2" fill="#d03060"/><circle cx="203.4" cy="281.9" r="2.2" fill="#d0c080"/><circle cx="207.3" cy="285.6" r="2.2" fill="#d0c080"/><circle cx="201.4" cy="286.9" r="2.2" fill="#d0c080"/><circle cx="209.4" cy="280.2" r="2.2" fill="#d0c080"/><circle cx="199.3" cy="281.8" r="2.2" fill="#d0c080"/><circle cx="205.4" cy="290.4" r="2.2" fill="#d0c080"/><circle cx="205.0" cy="277.9" r="2.2" fill="#d0c080"/><circle cx="200.9" cy="278.0" r="2.2" fill="#d0c080"/><circle cx="197.2" cy="285.6" r="2.2" fill="#d0c080"/><circle cx="203.0" cy="297.9" r="2.2" fill="#d0c080"/><circle cx="212.5" cy="275.1" r="2.2" fill="#d0c080"/><circle cx="33.6" cy="296.9" r="2.2" fill="#9040d0"/><circle cx="38.6" cy="295.7" r="2.2" fill="#9040d0"/><circle cx="32.1" cy="302.3" r="2.2" fill="#9040d0"/><circle cx="29.8" cy="295.4" r="2.2" fill="#9040d0"/><circle cx="33.9" cy="292.1" r="2.2" fill="#9040d0"/><circle cx="39.0" cy="302.0" r="2.2" fill="#9040d0"/><circle cx="28.2" cy="299.4" r="2.2" fill="#9040d0"/><circle cx="35.1" cy="304.9" r="2.2" fill="#9040d0"/><circle cx="24.3" cy="295.4" r="2.2" fill="#9040d0"/><circle cx="21.0" cy="290.5" r="2.2" fill="#9040d0"/><circle cx="41.1" cy="310.4" r="2.2" fill="#9040d0"/><circle cx="71.7" cy="311.4" r="2.2" fill="#e89030"/><circle cx="67.6" cy="303.5" r="2.2" fill="#e89030"/><circle cx="73.2" cy="302.4" r="2.2" fill="#e89030"/><circle cx="64.2" cy="305.8" r="2.2" fill="#e89030"/><circle cx="68.8" cy="308.7" r="2.2" fill="#e89030"/><circle cx="65.5" cy="311.6" r="2.2" fill="#e89030"/><circle cx="74.4" cy="306.7" r="2.2" fill="#e89030"/><circle cx="69.7" cy="299.6" r="2.2" fill="#e89030"/><circle cx="65.8" cy="294.9" r="2.2" fill="#e89030"/><circle cx="127.9" cy="313.1" r="2.2" fill="#e090c8"/><circle cx="121.2" cy="306.0" r="2.2" fill="#e090c8"/><circle cx="126.2" cy="303.7" r="2.2" fill="#e090c8"/><circle cx="118.4" cy="311.1" r="2.2" fill="#e090c8"/><circle cx="123.0" cy="311.1" r="2.2" fill="#e090c8"/><circle cx="128.7" cy="307.0" r="2.2" fill="#e090c8"/><circle cx="122.4" cy="315.4" r="2.2" fill="#e090c8"/><circle cx="131.2" cy="310.7" r="2.2" fill="#e090c8"/><circle cx="125.6" cy="322.9" r="2.2" fill="#e090c8"/><circle cx="178.7" cy="303.3" r="2.2" fill="#d090e0"/><circle cx="183.3" cy="301.0" r="2.2" fill="#d090e0"/><circle cx="183.3" cy="307.0" r="2.2" fill="#d090e0"/><circle cx="187.5" cy="300.7" r="2.2" fill="#d090e0"/><circle cx="187.3" cy="304.9" r="2.2" fill="#d090e0"/><circle cx="178.6" cy="308.3" r="2.2" fill="#d090e0"/><circle cx="179.1" cy="299.1" r="2.2" fill="#d090e0"/><circle cx="188.5" cy="308.9" r="2.2" fill="#d090e0"/><circle cx="181.8" cy="310.8" r="2.2" fill="#d090e0"/><circle cx="182.7" cy="293.9" r="2.2" fill="#d090e0"/><circle cx="182.5" cy="317.3" r="2.2" fill="#d090e0"/><circle cx="190.9" cy="297.0" r="2.2" fill="#d090e0"/><circle cx="10.7" cy="307.7" r="2.2" fill="#b8c030"/><circle cx="11.2" cy="314.4" r="2.2" fill="#b8c030"/><circle cx="18.4" cy="312.5" r="2.2" fill="#b8c030"/><circle cx="14.8" cy="319.2" r="2.2" fill="#b8c030"/><circle cx="16.1" cy="308.0" r="2.2" fill="#b8c030"/><circle cx="15.3" cy="315.2" r="2.2" fill="#b8c030"/><circle cx="19.4" cy="318.1" r="2.2" fill="#b8c030"/><circle cx="9.3" cy="318.4" r="2.2" fill="#b8c030"/><circle cx="7.4" cy="312.7" r="2.2" fill="#b8c030"/><circle cx="1.6" cy="313.6" r="2.2" fill="#b8c030"/><circle cx="0.8" cy="307.2" r="2.2" fill="#b8c030"/><circle cx="17.3" cy="326.1" r="2.2" fill="#b8c030"/><circle cx="74.5" cy="321.0" r="2.2" fill="#208020"/><circle cx="72.8" cy="316.4" r="2.2" fill="#208020"/><circle cx="72.8" cy="326.1" r="2.2" fill="#208020"/><circle cx="70.5" cy="321.5" r="2.2" fill="#208020"/><circle cx="65.7" cy="320.1" r="2.2" fill="#208020"/><circle cx="68.0" cy="325.1" r="2.2" fill="#208020"/><circle cx="77.3" cy="324.7" r="2.2" fill="#208020"/><circle cx="69.9" cy="329.3" r="2.2" fill="#208020"/><circle cx="68.6" cy="316.3" r="2.2" fill="#208020"/><circle cx="67.9" cy="310.8" r="2.2" fill="#208020"/><circle cx="56.0" cy="321.2" r="2.2" fill="#208020"/><circle cx="110.9" cy="322.2" r="2.2" fill="#30a060"/><circle cx="108.6" cy="317.4" r="2.2" fill="#30a060"/><circle cx="107.7" cy="325.4" r="2.2" fill="#30a060"/><circle cx="102.4" cy="322.8" r="2.2" fill="#30a060"/><circle cx="105.3" cy="314.8" r="2.2" fill="#30a060"/><circle cx="105.2" cy="319.6" r="2.2" fill="#30a060"/><circle cx="104.0" cy="327.6" r="2.2" fill="#30a060"/><circle cx="100.6" cy="317.5" r="2.2" fill="#30a060"/><circle cx="96.5" cy="324.5" r="2.2" fill="#30a060"/><circle cx="113.3" cy="332.0" r="2.2" fill="#30a060"/><circle cx="96.6" cy="319.8" r="2.2" fill="#30a060"/><circle cx="122.2" cy="336.0" r="2.2" fill="#c8e050"/><circle cx="128.6" cy="333.6" r="2.2" fill="#c8e050"/><circle cx="124.7" cy="331.8" r="2.2" fill="#c8e050"/><circle cx="119.5" cy="330.7" r="2.2" fill="#c8e050"/><circle cx="119.2" cy="339.7" r="2.2" fill="#c8e050"/><circle cx="122.1" cy="327.4" r="2.2" fill="#c8e050"/><circle cx="125.9" cy="338.7" r="2.2" fill="#c8e050"/><circle cx="116.7" cy="334.7" r="2.2" fill="#c8e050"/><circle cx="127.0" cy="328.1" r="2.2" fill="#c8e050"/><circle cx="129.7" cy="342.9" r="2.2" fill="#c8e050"/><circle cx="143.6" cy="332.7" r="2.2" fill="#407020"/><circle cx="148.0" cy="332.7" r="2.2" fill="#407020"/><circle cx="145.7" cy="340.6" r="2.2" fill="#407020"/><circle cx="140.5" cy="340.2" r="2.2" fill="#407020"/><circle cx="140.3" cy="335.6" r="2.2" fill="#407020"/><circle cx="149.8" cy="336.7" r="2.2" fill="#407020"/><circle cx="144.3" cy="336.8" r="2.2" fill="#407020"/><circle cx="143.4" cy="328.7" r="2.2" fill="#407020"/><circle cx="153.3" cy="330.0" r="2.2" fill="#407020"/><circle cx="161.0" cy="315.1" r="2.2" fill="#203070"/><circle cx="164.7" cy="321.0" r="2.2" fill="#203070"/><circle cx="157.6" cy="311.9" r="2.2" fill="#203070"/><circle cx="165.1" cy="313.3" r="2.2" fill="#203070"/><circle cx="157.2" cy="318.4" r="2.2" fill="#203070"/><circle cx="167.9" cy="318.1" r="2.2" fill="#203070"/><circle cx="161.9" cy="310.0" r="2.2" fill="#203070"/><circle cx="160.4" cy="321.8" r="2.2" fill="#203070"/><circle cx="173.9" cy="313.7" r="2.2" fill="#203070"/><circle cx="164.8" cy="329.8" r="2.2" fill="#203070"/><circle cx="152.2" cy="316.1" r="2.2" fill="#203070"/><circle cx="210.9" cy="314.7" r="2.2" fill="#40d840"/><circle cx="216.1" cy="318.1" r="2.2" fill="#40d840"/><circle cx="206.6" cy="313.2" r="2.2" fill="#40d840"/><circle cx="217.0" cy="311.7" r="2.2" fill="#40d840"/><circle cx="209.2" cy="308.7" r="2.2" fill="#40d840"/><circle cx="210.9" cy="319.1" r="2.2" fill="#40d840"/><circle cx="206.7" cy="318.4" r="2.2" fill="#40d840"/><circle cx="213.7" cy="308.9" r="2.2" fill="#40d840"/><circle cx="211.6" cy="324.4" r="2.2" fill="#40d840"/><circle cx="202.7" cy="314.9" r="2.2" fill="#40d840"/><circle cx="213.2" cy="324.0" r="2.2" fill="#40d840"/><circle cx="26.2" cy="332.1" r="2.2" fill="#205050"/><circle cx="30.5" cy="330.7" r="2.2" fill="#205050"/><circle cx="34.1" cy="335.8" r="2.2" fill="#205050"/><circle cx="31.8" cy="326.3" r="2.2" fill="#205050"/><circle cx="27.0" cy="325.0" r="2.2" fill="#205050"/><circle cx="35.6" cy="327.9" r="2.2" fill="#205050"/><circle cx="28.7" cy="336.4" r="2.2" fill="#205050"/><circle cx="36.6" cy="332.6" r="2.2" fill="#205050"/><circle cx="38.5" cy="337.6" r="2.2" fill="#205050"/><circle cx="19.3" cy="326.0" r="2.2" fill="#205050"/><circle cx="86.2" cy="337.6" r="2.2" fill="#6070c0"/><circle cx="86.0" cy="341.6" r="2.2" fill="#6070c0"/><circle cx="90.3" cy="342.5" r="2.2" fill="#6070c0"/><circle cx="90.8" cy="336.9" r="2.2" fill="#6070c0"/><circle cx="95.9" cy="336.5" r="2.2" fill="#6070c0"/><circle cx="95.4" cy="341.0" r="2.2" fill="#6070c0"/><circle cx="88.9" cy="346.4" r="2.2" fill="#6070c0"/><circle cx="93.5" cy="345.6" r="2.2" fill="#6070c0"/><circle cx="88.5" cy="333.2" r="2.2" fill="#6070c0"/><circle cx="99.1" cy="341.8" r="2.2" fill="#6070c0"/><circle cx="83.2" cy="348.8" r="2.2" fill="#6070c0"/><circle cx="185.5" cy="333.5" r="2.2" fill="#70d8e0"/><circle cx="184.7" cy="339.9" r="2.2" fill="#70d8e0"/><circle cx="178.3" cy="338.7" r="2.2" fill="#70d8e0"/><circle cx="175.8" cy="334.9" r="2.2" fill="#70d8e0"/><circle cx="179.2" cy="331.8" r="2.2" fill="#70d8e0"/><circle cx="183.2" cy="330.2" r="2.2" fill="#70d8e0"/><circle cx="181.4" cy="335.4" r="2.2" fill="#70d8e0"/><circle cx="188.9" cy="335.9" r="2.2" fill="#70d8e0"/><circle cx="171.9" cy="331.7" r="2.2" fill="#70d8e0"/><circle cx="191.3" cy="335.9" r="2.2" fill="#70d8e0"/><circle cx="214.6" cy="335.9" r="2.2" fill="#60c8e0"/><circle cx="210.3" cy="331.2" r="2.2" fill="#60c8e0"/><circle cx="206.3" cy="338.2" r="2.2" fill="#60c8e0"/><circle cx="209.6" cy="342.0" r="2.2" fill="#60c8e0"/><circle cx="206.6" cy="334.0" r="2.2" fill="#60c8e0"/><circle cx="210.4" cy="336.8" r="2.2" fill="#60c8e0"/><circle cx="215.6" cy="340.5" r="2.2" fill="#60c8e0"/><circle cx="214.6" cy="331.7" r="2.2" fill="#60c8e0"/><circle cx="221.8" cy="337.0" r="2.2" fill="#60c8e0"/><circle cx="51.1" cy="344.4" r="2.2" fill="#90e070"/><circle cx="47.2" cy="347.4" r="2.2" fill="#90e070"/><circle cx="57.5" cy="348.4" r="2.2" fill="#90e070"/><circle cx="52.5" cy="348.3" r="2.2" fill="#90e070"/><circle cx="52.7" cy="340.6" r="2.2" fill="#90e070"/><circle cx="57.6" cy="344.0" r="2.2" fill="#90e070"/><circle cx="50.3" cy="352.1" r="2.2" fill="#90e070"/><circle cx="55.6" cy="352.0" r="2.2" fill="#90e070"/><circle cx="44.4" cy="354.0" r="2.2" fill="#90e070"/><circle cx="58.9" cy="354.6" r="2.2" fill="#90e070"/><circle cx="112.4" cy="346.6" r="2.2" fill="#e05020"/><circle cx="107.6" cy="345.4" r="2.2" fill="#e05020"/><circle cx="109.3" cy="358.1" r="2.2" fill="#e05020"/><circle cx="108.0" cy="351.2" r="2.2" fill="#e05020"/><circle cx="113.7" cy="353.3" r="2.2" fill="#e05020"/><circle cx="103.7" cy="355.3" r="2.2" fill="#e05020"/><circle cx="104.1" cy="348.8" r="2.2" fill="#e05020"/><circle cx="101.2" cy="352.2" r="2.2" fill="#e05020"/><circle cx="114.8" cy="360.9" r="2.2" fill="#e05020"/><circle cx="120.7" cy="357.4" r="2.2" fill="#e05020"/><circle cx="113.3" cy="356.0" r="2.2" fill="#d02090"/><circle cx="118.7" cy="358.2" r="2.2" fill="#d02090"/><circle cx="123.3" cy="362.9" r="2.2" fill="#d02090"/><circle cx="113.8" cy="361.0" r="2.2" fill="#d02090"/><circle cx="118.9" cy="364.1" r="2.2" fill="#d02090"/><circle cx="120.3" cy="352.9" r="2.2" fill="#d02090"/><circle cx="126.3" cy="359.6" r="2.2" fill="#d02090"/><circle cx="122.9" cy="356.0" r="2.2" fill="#d02090"/><circle cx="119.2" cy="370.4" r="2.2" fill="#d02090"/><circle cx="109.5" cy="350.4" r="2.2" fill="#d02090"/><circle cx="130.9" cy="365.2" r="2.2" fill="#d02090"/><circle cx="148.0" cy="355.1" r="2.2" fill="#80d8c8"/><circle cx="157.4" cy="358.9" r="2.2" fill="#80d8c8"/><circle cx="150.7" cy="359.1" r="2.2" fill="#80d8c8"/><circle cx="160.1" cy="354.8" r="2.2" fill="#80d8c8"/><circle cx="151.3" cy="350.4" r="2.2" fill="#80d8c8"/><circle cx="154.7" cy="352.9" r="2.2" fill="#80d8c8"/><circle cx="154.1" cy="361.2" r="2.2" fill="#80d8c8"/><circle cx="144.9" cy="366.4" r="2.2" fill="#80d8c8"/><circle cx="165.0" cy="353.3" r="2.2" fill="#80d8c8"/><circle cx="173.0" cy="352.7" r="2.2" fill="#50c880"/><circle cx="177.7" cy="355.5" r="2.2" fill="#50c880"/><circle cx="174.5" cy="363.3" r="2.2" fill="#50c880"/><circle cx="169.0" cy="360.3" r="2.2" fill="#50c880"/><circle cx="173.6" cy="358.5" r="2.2" fill="#50c880"/><circle cx="169.5" cy="355.9" r="2.2" fill="#50c880"/><circle cx="180.6" cy="358.6" r="2.2" fill="#50c880"/><circle cx="177.0" cy="351.5" r="2.2" fill="#50c880"/><circle cx="164.0" cy="358.9" r="2.2" fill="#50c880"/><circle cx="186.6" cy="352.3" r="2.2" fill="#50c880"/><circle cx="23.0" cy="367.0" r="2.2" fill="#70d8d0"/><circle cx="18.4" cy="368.0" r="2.2" fill="#70d8d0"/><circle cx="24.3" cy="361.1" r="2.2" fill="#70d8d0"/><circle cx="23.0" cy="371.6" r="2.2" fill="#70d8d0"/><circle cx="27.1" cy="370.0" r="2.2" fill="#70d8d0"/><circle cx="19.6" cy="362.4" r="2.2" fill="#70d8d0"/><circle cx="27.8" cy="365.8" r="2.2" fill="#70d8d0"/><circle cx="17.9" cy="372.1" r="2.2" fill="#70d8d0"/><circle cx="10.0" cy="369.9" r="2.2" fill="#70d8d0"/><circle cx="11.5" cy="375.1" r="2.2" fill="#70d8d0"/><circle cx="76.3" cy="364.6" r="2.2" fill="#b0b8e0"/><circle cx="72.0" cy="361.2" r="2.2" fill="#b0b8e0"/><circle cx="70.6" cy="366.3" r="2.2" fill="#b0b8e0"/><circle cx="64.0" cy="365.1" r="2.2" fill="#b0b8e0"/><circle cx="74.8" cy="368.5" r="2.2" fill="#b0b8e0"/><circle cx="67.4" cy="368.7" r="2.2" fill="#b0b8e0"/><circle cx="71.5" cy="372.0" r="2.2" fill="#b0b8e0"/><circle cx="67.2" cy="362.6" r="2.2" fill="#b0b8e0"/><circle cx="78.6" cy="374.3" r="2.2" fill="#b0b8e0"/><circle cx="62.4" cy="358.2" r="2.2" fill="#b0b8e0"/><circle cx="81.5" cy="357.3" r="2.2" fill="#b0b8e0"/><circle cx="139.8" cy="372.7" r="2.2" fill="#a040c8"/><circle cx="141.7" cy="380.0" r="2.2" fill="#a040c8"/><circle cx="132.8" cy="372.3" r="2.2" fill="#a040c8"/><circle cx="139.0" cy="376.8" r="2.2" fill="#a040c8"/><circle cx="145.0" cy="374.8" r="2.2" fill="#a040c8"/><circle cx="136.6" cy="367.7" r="2.2" fill="#a040c8"/><circle cx="134.1" cy="378.3" r="2.2" fill="#a040c8"/><circle cx="142.1" cy="369.4" r="2.2" fill="#a040c8"/><circle cx="137.7" cy="380.5" r="2.2" fill="#a040c8"/><circle cx="146.4" cy="386.7" r="2.2" fill="#a040c8"/><circle cx="128.2" cy="381.1" r="2.2" fill="#a040c8"/><circle cx="126.4" cy="371.5" r="2.2" fill="#a040c8"/><circle cx="208.9" cy="373.7" r="2.2" fill="#50d040"/><circle cx="204.2" cy="375.2" r="2.2" fill="#50d040"/><circle cx="204.0" cy="368.3" r="2.2" fill="#50d040"/><circle cx="212.5" cy="369.9" r="2.2" fill="#50d040"/><circle cx="208.3" cy="366.5" r="2.2" fill="#50d040"/><circle cx="200.2" cy="371.1" r="2.2" fill="#50d040"/><circle cx="200.1" cy="375.1" r="2.2" fill="#50d040"/><circle cx="207.5" cy="377.8" r="2.2" fill="#50d040"/><circle cx="207.5" cy="360.7" r="2.2" fill="#50d040"/><circle cx="195.6" cy="367.5" r="2.2" fill="#50d040"/><circle cx="206.7" cy="361.2" r="2.2" fill="#50d040"/><circle cx="34.1" cy="393.8" r="2.2" fill="#202810"/><circle cx="38.4" cy="397.2" r="2.2" fill="#202810"/><circle cx="38.9" cy="391.3" r="2.2" fill="#202810"/><circle cx="42.7" cy="388.2" r="2.2" fill="#202810"/><circle cx="36.2" cy="387.4" r="2.2" fill="#202810"/><circle cx="43.2" cy="392.2" r="2.2" fill="#202810"/><circle cx="42.7" cy="396.3" r="2.2" fill="#202810"/><circle cx="32.0" cy="389.7" r="2.2" fill="#202810"/><circle cx="39.6" cy="385.0" r="2.2" fill="#202810"/><circle cx="26.8" cy="388.1" r="2.2" fill="#202810"/><circle cx="94.2" cy="384.7" r="2.2" fill="#80d0e0"/><circle cx="90.7" cy="382.4" r="2.2" fill="#80d0e0"/><circle cx="91.0" cy="390.4" r="2.2" fill="#80d0e0"/><circle cx="86.0" cy="387.4" r="2.2" fill="#80d0e0"/><circle cx="95.2" cy="379.5" r="2.2" fill="#80d0e0"/><circle cx="88.6" cy="377.2" r="2.2" fill="#80d0e0"/><circle cx="85.2" cy="380.8" r="2.2" fill="#80d0e0"/><circle cx="98.0" cy="383.4" r="2.2" fill="#80d0e0"/><circle cx="90.4" cy="386.4" r="2.2" fill="#80d0e0"/><circle cx="95.5" cy="388.9" r="2.2" fill="#80d0e0"/><circle cx="102.0" cy="376.4" r="2.2" fill="#80d0e0"/><circle cx="84.5" cy="377.4" r="2.2" fill="#80d0e0"/><circle cx="104.7" cy="389.4" r="2.2" fill="#80d0e0"/><circle cx="111.8" cy="391.1" r="2.2" fill="#501020"/><circle cx="114.8" cy="383.6" r="2.2" fill="#501020"/><circle cx="120.7" cy="392.1" r="2.2" fill="#501020"/><circle cx="119.1" cy="386.2" r="2.2" fill="#501020"/><circle cx="110.7" cy="385.8" r="2.2" fill="#501020"/><circle cx="115.5" cy="393.2" r="2.2" fill="#501020"/><circle cx="123.0" cy="388.3" r="2.2" fill="#501020"/><circle cx="117.6" cy="380.2" r="2.2" fill="#501020"/><circle cx="121.0" cy="377.8" r="2.2" fill="#501020"/><circle cx="114.5" cy="376.9" r="2.2" fill="#501020"/><circle cx="150.3" cy="385.9" r="2.2" fill="#3080d0"/><circle cx="153.1" cy="392.6" r="2.2" fill="#3080d0"/><circle cx="145.3" cy="393.0" r="2.2" fill="#3080d0"/><circle cx="148.3" cy="396.1" r="2.2" fill="#3080d0"/><circle cx="148.4" cy="390.3" r="2.2" fill="#3080d0"/><circle cx="144.5" cy="386.7" r="2.2" fill="#3080d0"/><circle cx="154.0" cy="388.5" r="2.2" fill="#3080d0"/><circle cx="152.3" cy="396.6" r="2.2" fill="#3080d0"/><circle cx="142.1" cy="390.5" r="2.2" fill="#3080d0"/><circle cx="135.0" cy="386.7" r="2.2" fill="#3080d0"/><circle cx="168.5" cy="395.0" r="2.2" fill="#c070d0"/><circle cx="173.1" cy="391.6" r="2.2" fill="#c070d0"/><circle cx="173.6" cy="395.6" r="2.2" fill="#c070d0"/><circle cx="167.6" cy="386.4" r="2.2" fill="#c070d0"/><circle cx="168.6" cy="390.5" r="2.2" fill="#c070d0"/><circle cx="164.7" cy="393.0" r="2.2" fill="#c070d0"/><circle cx="170.3" cy="399.8" r="2.2" fill="#c070d0"/><circle cx="165.7" cy="398.3" r="2.2" fill="#c070d0"/><circle cx="172.2" cy="386.9" r="2.2" fill="#c070d0"/><circle cx="164.0" cy="388.9" r="2.2" fill="#c070d0"/><circle cx="156.6" cy="389.1" r="2.2" fill="#c070d0"/><circle cx="161.0" cy="398.7" r="2.2" fill="#c070d0"/><circle cx="191.0" cy="394.8" r="2.2" fill="#70e040"/><circle cx="192.1" cy="399.0" r="2.2" fill="#70e040"/><circle cx="197.8" cy="391.9" r="2.2" fill="#70e040"/><circle cx="197.9" cy="398.0" r="2.2" fill="#70e040"/><circle cx="201.7" cy="395.0" r="2.2" fill="#70e040"/><circle cx="194.5" cy="402.9" r="2.2" fill="#70e040"/><circle cx="192.5" cy="390.5" r="2.2" fill="#70e040"/><circle cx="195.2" cy="395.0" r="2.2" fill="#70e040"/><circle cx="190.3" cy="405.3" r="2.2" fill="#70e040"/><circle cx="200.6" cy="383.4" r="2.2" fill="#70e040"/><circle cx="195.3" cy="386.9" r="2.2" fill="#70e040"/><circle cx="61.8" cy="401.9" r="2.2" fill="#8a4a10"/><circle cx="66.1" cy="405.0" r="2.2" fill="#8a4a10"/><circle cx="72.7" cy="406.2" r="2.2" fill="#8a4a10"/><circle cx="68.1" cy="400.4" r="2.2" fill="#8a4a10"/><circle cx="69.9" cy="409.3" r="2.2" fill="#8a4a10"/><circle cx="63.1" cy="409.1" r="2.2" fill="#8a4a10"/><circle cx="72.3" cy="400.8" r="2.2" fill="#8a4a10"/><circle cx="64.2" cy="398.5" r="2.2" fill="#8a4a10"/><circle cx="80.7" cy="408.4" r="2.2" fill="#8a4a10"/><circle cx="61.0" cy="391.6" r="2.2" fill="#8a4a10"/><circle cx="99.5" cy="406.6" r="2.2" fill="#f0a060"/><circle cx="103.3" cy="404.2" r="2.2" fill="#f0a060"/><circle cx="94.0" cy="402.3" r="2.2" fill="#f0a060"/><circle cx="93.5" cy="411.9" r="2.2" fill="#f0a060"/><circle cx="99.6" cy="402.3" r="2.2" fill="#f0a060"/><circle cx="91.7" cy="407.4" r="2.2" fill="#f0a060"/><circle cx="103.1" cy="412.1" r="2.2" fill="#f0a060"/><circle cx="99.2" cy="410.8" r="2.2" fill="#f0a060"/><circle cx="98.1" cy="414.6" r="2.2" fill="#f0a060"/><circle cx="86.8" cy="403.9" r="2.2" fill="#f0a060"/><circle cx="129.9" cy="416.8" r="2.2" fill="#70d8c8"/><circle cx="128.1" cy="422.1" r="2.2" fill="#70d8c8"/><circle cx="123.8" cy="411.9" r="2.2" fill="#70d8c8"/><circle cx="128.7" cy="409.5" r="2.2" fill="#70d8c8"/><circle cx="122.3" cy="417.7" r="2.2" fill="#70d8c8"/><circle cx="119.3" cy="414.6" r="2.2" fill="#70d8c8"/><circle cx="123.6" cy="421.9" r="2.2" fill="#70d8c8"/><circle cx="127.5" cy="413.6" r="2.2" fill="#70d8c8"/><circle cx="120.1" cy="402.4" r="2.2" fill="#70d8c8"/><circle cx="135.6" cy="407.4" r="2.2" fill="#70d8c8"/><circle cx="158.2" cy="412.9" r="2.2" fill="#e080e8"/><circle cx="162.8" cy="419.3" r="2.2" fill="#e080e8"/><circle cx="152.9" cy="420.4" r="2.2" fill="#e080e8"/><circle cx="158.3" cy="420.1" r="2.2" fill="#e080e8"/><circle cx="151.8" cy="415.9" r="2.2" fill="#e080e8"/><circle cx="161.6" cy="423.3" r="2.2" fill="#e080e8"/><circle cx="153.3" cy="424.5" r="2.2" fill="#e080e8"/><circle cx="156.2" cy="416.7" r="2.2" fill="#e080e8"/><circle cx="162.2" cy="414.7" r="2.2" fill="#e080e8"/><circle cx="163.5" cy="407.9" r="2.2" fill="#e080e8"/><circle cx="168.1" cy="410.9" r="2.2" fill="#e080e8"/><circle cx="161.8" cy="427.9" r="2.2" fill="#e080e8"/></g>
<text x="7.1" y="16.7" font-family='"Liberation Sans", sans-serif' font-size="19.5" fill="#111">A</text>
<text x="6.0" y="220.4" font-family='"Liberation Sans", sans-serif' font-size="19.5" fill="#111">D</text>
<text x="233.0" y="16.7" font-family='"Liberation Sans", sans-serif' font-size="19.5" fill="#111">B</text>
<text x="233.7" y="220.4" font-family='"Liberation Sans", sans-serif' font-size="19.5" fill="#111">E</text>
<text x="473.8" y="17" font-family='"Liberation Sans", sans-serif' font-size="19.5" fill="#111">C</text>
<text x="474.7" y="220.7" font-family='"Liberation Sans", sans-serif' font-size="19.5" fill="#111">F</text>
<clipPath id="cb"><rect x="269.5" y="13.5" width="191.2" height="187.9"/></clipPath>
<g clip-path="url(#cb)"><path d="M289.6 199.1V201.4M287.7 199.1H291.5M287.7 201.4H291.5" stroke="#e08080" stroke-width="1" fill="none"/><path d="M299.7 189.8V197.3M297.8 189.8H301.6M297.8 197.3H301.6" stroke="#e08080" stroke-width="1" fill="none"/><path d="M309.8 114.2V136.8M307.9 114.2H311.7M307.9 136.8H311.7" stroke="#e08080" stroke-width="1" fill="none"/><path d="M319.8 60.5V83.0M317.9 60.5H321.7M317.9 83.0H321.7" stroke="#e08080" stroke-width="1" fill="none"/><path d="M329.9 41.7V53.0M328.0 41.7H331.8M328.0 53.0H331.8" stroke="#e08080" stroke-width="1" fill="none"/><path d="M339.9 51.5V66.5M338.0 51.5H341.8M338.0 66.5H341.8" stroke="#e08080" stroke-width="1" fill="none"/><path d="M350.0 98.8V126.6M348.1 98.8H351.9M348.1 126.6H351.9" stroke="#e08080" stroke-width="1" fill="none"/><path d="M360.1 131.9V154.4M358.2 131.9H362.0M358.2 154.4H362.0" stroke="#e08080" stroke-width="1" fill="none"/><path d="M370.1 136.8V163.1M368.2 136.8H372.0M368.2 163.1H372.0" stroke="#e08080" stroke-width="1" fill="none"/><path d="M380.2 152.9V175.5M378.3 152.9H382.1M378.3 175.5H382.1" stroke="#e08080" stroke-width="1" fill="none"/><path d="M390.3 168.7V187.5M388.4 168.7H392.2M388.4 187.5H392.2" stroke="#e08080" stroke-width="1" fill="none"/><path d="M400.3 184.9V196.1M398.4 184.9H402.2M398.4 196.1H402.2" stroke="#e08080" stroke-width="1" fill="none"/><path d="M410.4 171.7V188.2M408.5 171.7H412.3M408.5 188.2H412.3" stroke="#e08080" stroke-width="1" fill="none"/><path d="M420.4 171.7V188.2M418.5 171.7H422.3M418.5 188.2H422.3" stroke="#e08080" stroke-width="1" fill="none"/><path d="M430.5 189.4V196.9M428.6 189.4H432.4M428.6 196.9H432.4" stroke="#e08080" stroke-width="1" fill="none"/><path d="M440.6 184.1V193.1M438.7 184.1H442.5M438.7 193.1H442.5" stroke="#e08080" stroke-width="1" fill="none"/><path d="M450.6 180.0V192.0M448.7 180.0H452.5M448.7 192.0H452.5" stroke="#e08080" stroke-width="1" fill="none"/><path d="M460.7 178.9V190.9M458.8 178.9H462.6M458.8 190.9H462.6" stroke="#e08080" stroke-width="1" fill="none"/><polyline points="269.5,201.4 279.6,201.4 289.6,200.3 299.7,193.5 309.8,125.5 319.8,71.7 329.9,47.3 339.9,59.0 350.0,112.7 360.1,143.2 370.1,149.9 380.2,164.2 390.3,178.1 400.3,190.5 410.4,180.0 420.4,180.0 430.5,193.1 440.6,188.6 450.6,186.0 460.7,184.9" fill="none" stroke="#c0202a" stroke-width="1.1"/><circle cx="269.5" cy="201.4" r="2.35" fill="#c0202a"/><circle cx="279.6" cy="201.4" r="2.35" fill="#c0202a"/><circle cx="289.6" cy="200.3" r="2.35" fill="#c0202a"/><circle cx="299.7" cy="193.5" r="2.35" fill="#c0202a"/><circle cx="309.8" cy="125.5" r="2.35" fill="#c0202a"/><circle cx="319.8" cy="71.7" r="2.35" fill="#c0202a"/><circle cx="329.9" cy="47.3" r="2.35" fill="#c0202a"/><circle cx="339.9" cy="59.0" r="2.35" fill="#c0202a"/><circle cx="350.0" cy="112.7" r="2.35" fill="#c0202a"/><circle cx="360.1" cy="143.2" r="2.35" fill="#c0202a"/><circle cx="370.1" cy="149.9" r="2.35" fill="#c0202a"/><circle cx="380.2" cy="164.2" r="2.35" fill="#c0202a"/><circle cx="390.3" cy="178.1" r="2.35" fill="#c0202a"/><circle cx="400.3" cy="190.5" r="2.35" fill="#c0202a"/><circle cx="410.4" cy="180.0" r="2.35" fill="#c0202a"/><circle cx="420.4" cy="180.0" r="2.35" fill="#c0202a"/><circle cx="430.5" cy="193.1" r="2.35" fill="#c0202a"/><circle cx="440.6" cy="188.6" r="2.35" fill="#c0202a"/><circle cx="450.6" cy="186.0" r="2.35" fill="#c0202a"/><circle cx="460.7" cy="184.9" r="2.35" fill="#c0202a"/></g>
<g clip-path="url(#cb)"><path d="M269.5 25.9V28.9M267.6 25.9H271.4M267.6 28.9H271.4" stroke="#8090e0" stroke-width="1" fill="none"/><path d="M279.6 27.4V30.4M277.7 27.4H281.5M277.7 30.4H281.5" stroke="#8090e0" stroke-width="1" fill="none"/><path d="M289.6 29.7V33.4M287.7 29.7H291.5M287.7 33.4H291.5" stroke="#8090e0" stroke-width="1" fill="none"/><path d="M299.7 31.5V35.3M297.8 31.5H301.6M297.8 35.3H301.6" stroke="#8090e0" stroke-width="1" fill="none"/><path d="M309.8 35.3V43.6M307.9 35.3H311.7M307.9 43.6H311.7" stroke="#8090e0" stroke-width="1" fill="none"/><path d="M319.8 34.2V42.4M317.9 34.2H321.7M317.9 42.4H321.7" stroke="#8090e0" stroke-width="1" fill="none"/><path d="M329.9 33.0V42.1M328.0 33.0H331.8M328.0 42.1H331.8" stroke="#8090e0" stroke-width="1" fill="none"/><path d="M339.9 40.9V51.5M338.0 40.9H341.8M338.0 51.5H341.8" stroke="#8090e0" stroke-width="1" fill="none"/><path d="M350.0 76.6V97.7M348.1 76.6H351.9M348.1 97.7H351.9" stroke="#8090e0" stroke-width="1" fill="none"/><path d="M360.1 104.4V121.0M358.2 104.4H362.0M358.2 121.0H362.0" stroke="#8090e0" stroke-width="1" fill="none"/><path d="M370.1 110.8V127.4M368.2 110.8H372.0M368.2 127.4H372.0" stroke="#8090e0" stroke-width="1" fill="none"/><path d="M380.2 124.4V139.4M378.3 124.4H382.1M378.3 139.4H382.1" stroke="#8090e0" stroke-width="1" fill="none"/><path d="M390.3 136.8V151.8M388.4 136.8H392.2M388.4 151.8H392.2" stroke="#8090e0" stroke-width="1" fill="none"/><path d="M400.3 151.4V158.9M398.4 151.4H402.2M398.4 158.9H402.2" stroke="#8090e0" stroke-width="1" fill="none"/><path d="M410.4 143.5V154.8M408.5 143.5H412.3M408.5 154.8H412.3" stroke="#8090e0" stroke-width="1" fill="none"/><path d="M420.4 143.5V154.8M418.5 143.5H422.3M418.5 154.8H422.3" stroke="#8090e0" stroke-width="1" fill="none"/><path d="M430.5 159.3V164.6M428.6 159.3H432.4M428.6 164.6H432.4" stroke="#8090e0" stroke-width="1" fill="none"/><path d="M440.6 154.4V161.9M438.7 154.4H442.5M438.7 161.9H442.5" stroke="#8090e0" stroke-width="1" fill="none"/><path d="M450.6 153.3V162.3M448.7 153.3H452.5M448.7 162.3H452.5" stroke="#8090e0" stroke-width="1" fill="none"/><path d="M460.7 153.7V162.7M458.8 153.7H462.6M458.8 162.7H462.6" stroke="#8090e0" stroke-width="1" fill="none"/><polyline points="269.5,27.4 279.6,28.9 289.6,31.5 299.7,33.4 309.8,39.4 319.8,38.3 329.9,37.6 339.9,46.2 350.0,87.2 360.1,112.7 370.1,119.1 380.2,131.9 390.3,144.3 400.3,155.2 410.4,149.2 420.4,149.2 430.5,161.9 440.6,158.2 450.6,157.8 460.7,158.2" fill="none" stroke="#2c3ccc" stroke-width="1.1"/><circle cx="269.5" cy="27.4" r="2.35" fill="#2c3ccc"/><circle cx="279.6" cy="28.9" r="2.35" fill="#2c3ccc"/><circle cx="289.6" cy="31.5" r="2.35" fill="#2c3ccc"/><circle cx="299.7" cy="33.4" r="2.35" fill="#2c3ccc"/><circle cx="309.8" cy="39.4" r="2.35" fill="#2c3ccc"/><circle cx="319.8" cy="38.3" r="2.35" fill="#2c3ccc"/><circle cx="329.9" cy="37.6" r="2.35" fill="#2c3ccc"/><circle cx="339.9" cy="46.2" r="2.35" fill="#2c3ccc"/><circle cx="350.0" cy="87.2" r="2.35" fill="#2c3ccc"/><circle cx="360.1" cy="112.7" r="2.35" fill="#2c3ccc"/><circle cx="370.1" cy="119.1" r="2.35" fill="#2c3ccc"/><circle cx="380.2" cy="131.9" r="2.35" fill="#2c3ccc"/><circle cx="390.3" cy="144.3" r="2.35" fill="#2c3ccc"/><circle cx="400.3" cy="155.2" r="2.35" fill="#2c3ccc"/><circle cx="410.4" cy="149.2" r="2.35" fill="#2c3ccc"/><circle cx="420.4" cy="149.2" r="2.35" fill="#2c3ccc"/><circle cx="430.5" cy="161.9" r="2.35" fill="#2c3ccc"/><circle cx="440.6" cy="158.2" r="2.35" fill="#2c3ccc"/><circle cx="450.6" cy="157.8" r="2.35" fill="#2c3ccc"/><circle cx="460.7" cy="158.2" r="2.35" fill="#2c3ccc"/></g>
<rect x="269.5" y="13.5" width="191.2" height="187.9" fill="none" stroke="#333333" stroke-width="1.1"/>
<line x1="307.7" y1="201.4" x2="307.7" y2="195.9" stroke="#333333" stroke-width="1"/>
<line x1="307.7" y1="13.5" x2="307.7" y2="19.0" stroke="#333333" stroke-width="1"/>
<line x1="346.0" y1="201.4" x2="346.0" y2="195.9" stroke="#333333" stroke-width="1"/>
<line x1="346.0" y1="13.5" x2="346.0" y2="19.0" stroke="#333333" stroke-width="1"/>
<line x1="384.2" y1="201.4" x2="384.2" y2="195.9" stroke="#333333" stroke-width="1"/>
<line x1="384.2" y1="13.5" x2="384.2" y2="19.0" stroke="#333333" stroke-width="1"/>
<line x1="422.5" y1="201.4" x2="422.5" y2="195.9" stroke="#333333" stroke-width="1"/>
<line x1="422.5" y1="13.5" x2="422.5" y2="19.0" stroke="#333333" stroke-width="1"/>
<text x="266.5" y="205.2" text-anchor="end" font-family='"Liberation Serif", serif' font-size="13.2" textLength="14.9" lengthAdjust="spacingAndGlyphs" fill="#1a1a1a">0.0</text>
<line x1="269.5" y1="163.8" x2="275.0" y2="163.8" stroke="#333333" stroke-width="1"/>
<line x1="460.7" y1="163.8" x2="455.2" y2="163.8" stroke="#333333" stroke-width="1"/>
<text x="266.5" y="167.6" text-anchor="end" font-family='"Liberation Serif", serif' font-size="13.2" textLength="14.9" lengthAdjust="spacingAndGlyphs" fill="#1a1a1a">0.1</text>
<line x1="269.5" y1="126.2" x2="275.0" y2="126.2" stroke="#333333" stroke-width="1"/>
<line x1="460.7" y1="126.2" x2="455.2" y2="126.2" stroke="#333333" stroke-width="1"/>
<text x="266.5" y="130.0" text-anchor="end" font-family='"Liberation Serif", serif' font-size="13.2" textLength="14.9" lengthAdjust="spacingAndGlyphs" fill="#1a1a1a">0.2</text>
<line x1="269.5" y1="88.7" x2="275.0" y2="88.7" stroke="#333333" stroke-width="1"/>
<line x1="460.7" y1="88.7" x2="455.2" y2="88.7" stroke="#333333" stroke-width="1"/>
<text x="266.5" y="92.5" text-anchor="end" font-family='"Liberation Serif", serif' font-size="13.2" textLength="14.9" lengthAdjust="spacingAndGlyphs" fill="#1a1a1a">0.3</text>
<line x1="269.5" y1="51.1" x2="275.0" y2="51.1" stroke="#333333" stroke-width="1"/>
<line x1="460.7" y1="51.1" x2="455.2" y2="51.1" stroke="#333333" stroke-width="1"/>
<text x="266.5" y="54.9" text-anchor="end" font-family='"Liberation Serif", serif' font-size="13.2" textLength="14.9" lengthAdjust="spacingAndGlyphs" fill="#1a1a1a">0.4</text>
<text x="266.5" y="17.3" text-anchor="end" font-family='"Liberation Serif", serif' font-size="13.2" textLength="14.9" lengthAdjust="spacingAndGlyphs" fill="#1a1a1a">0.5</text>
<path d="M335.1 20.9V28.9M333.1 20.9H337.1M333.1 28.9H337.1M347.3 20.9V28.9M345.3 20.9H349.3M345.3 28.9H349.3" stroke="#8090e0" stroke-width="1" fill="none"/>
<line x1="335.1" y1="24.9" x2="347.3" y2="24.9" stroke="#2c3ccc" stroke-width="1.1"/>
<circle cx="335.1" cy="24.9" r="2.35" fill="#2c3ccc"/><circle cx="347.3" cy="24.9" r="2.35" fill="#2c3ccc"/>
<text x="357.5" y="28.2" font-family='"Liberation Sans", sans-serif' font-size="9" fill="#1a1a1a">Seed community</text>
<path d="M335.1 33.7V41.7M333.1 33.7H337.1M333.1 41.7H337.1M347.3 33.7V41.7M345.3 33.7H349.3M345.3 41.7H349.3" stroke="#e08080" stroke-width="1" fill="none"/>
<line x1="335.1" y1="37.7" x2="347.3" y2="37.7" stroke="#c0202a" stroke-width="1.1"/>
<circle cx="335.1" cy="37.7" r="2.35" fill="#c0202a"/><circle cx="347.3" cy="37.7" r="2.35" fill="#c0202a"/>
<text x="357.5" y="41.0" font-family='"Liberation Sans", sans-serif' font-size="9" fill="#1a1a1a">Neighboring community</text>
<text transform="translate(246,107) rotate(-90)" text-anchor="middle" font-family='"Liberation Sans", sans-serif' font-size="13.5" fill="#1a1a1a">Activity</text>
<clipPath id="ce"><rect x="269.5" y="216.9" width="191.2" height="188.4"/></clipPath>
<g clip-path="url(#ce)"><path d="M299.7 383.2V385.4M297.8 383.2H301.6M297.8 385.4H301.6" stroke="#555555" stroke-width="1" fill="none"/><path d="M309.8 374.6V380.0M307.9 374.6H311.7M307.9 380.0H311.7" stroke="#555555" stroke-width="1" fill="none"/><path d="M319.8 355.0V363.0M317.9 355.0H321.7M317.9 363.0H321.7" stroke="#555555" stroke-width="1" fill="none"/><path d="M329.9 321.6V339.4M328.0 321.6H331.8M328.0 339.4H331.8" stroke="#555555" stroke-width="1" fill="none"/><path d="M339.9 306.3V326.2M338.0 306.3H341.8M338.0 326.2H341.8" stroke="#555555" stroke-width="1" fill="none"/><path d="M350.0 285.3V306.8M348.1 285.3H351.9M348.1 306.8H351.9" stroke="#555555" stroke-width="1" fill="none"/><path d="M360.1 263.7V288.0M358.2 263.7H362.0M358.2 288.0H362.0" stroke="#555555" stroke-width="1" fill="none"/><path d="M370.1 240.0V264.3M368.2 240.0H372.0M368.2 264.3H372.0" stroke="#555555" stroke-width="1" fill="none"/><path d="M380.2 253.8V278.0M378.3 253.8H382.1M378.3 278.0H382.1" stroke="#555555" stroke-width="1" fill="none"/><path d="M390.3 257.3V281.5M388.4 257.3H392.2M388.4 281.5H392.2" stroke="#555555" stroke-width="1" fill="none"/><path d="M400.3 273.7V297.9M398.4 273.7H402.2M398.4 297.9H402.2" stroke="#555555" stroke-width="1" fill="none"/><path d="M410.4 266.7V290.9M408.5 266.7H412.3M408.5 290.9H412.3" stroke="#555555" stroke-width="1" fill="none"/><path d="M420.4 299.3V323.5M418.5 299.3H422.3M418.5 323.5H422.3" stroke="#555555" stroke-width="1" fill="none"/><path d="M430.5 302.2V326.4M428.6 302.2H432.4M428.6 326.4H432.4" stroke="#555555" stroke-width="1" fill="none"/><path d="M440.6 295.0V319.2M438.7 295.0H442.5M438.7 319.2H442.5" stroke="#555555" stroke-width="1" fill="none"/><path d="M450.6 307.1V331.3M448.7 307.1H452.5M448.7 331.3H452.5" stroke="#555555" stroke-width="1" fill="none"/><path d="M460.7 336.1V357.7M458.8 336.1H462.6M458.8 357.7H462.6" stroke="#555555" stroke-width="1" fill="none"/><polyline points="269.5,392.7 279.6,390.2 289.6,385.9 299.7,384.3 309.8,377.3 319.8,359.0 329.9,330.5 339.9,316.2 350.0,296.0 360.1,275.8 370.1,252.2 380.2,265.9 390.3,269.4 400.3,285.8 410.4,278.8 420.4,311.4 430.5,314.3 440.6,307.1 450.6,319.2 460.7,346.9" fill="none" stroke="#111111" stroke-width="1.1"/><circle cx="269.5" cy="392.7" r="2.5" fill="#111111"/><circle cx="279.6" cy="390.2" r="2.5" fill="#111111"/><circle cx="289.6" cy="385.9" r="2.5" fill="#111111"/><circle cx="299.7" cy="384.3" r="2.5" fill="#111111"/><circle cx="309.8" cy="377.3" r="2.5" fill="#111111"/><circle cx="319.8" cy="359.0" r="2.5" fill="#111111"/><circle cx="329.9" cy="330.5" r="2.5" fill="#111111"/><circle cx="339.9" cy="316.2" r="2.5" fill="#111111"/><circle cx="350.0" cy="296.0" r="2.5" fill="#111111"/><circle cx="360.1" cy="275.8" r="2.5" fill="#111111"/><circle cx="370.1" cy="252.2" r="2.5" fill="#111111"/><circle cx="380.2" cy="265.9" r="2.5" fill="#111111"/><circle cx="390.3" cy="269.4" r="2.5" fill="#111111"/><circle cx="400.3" cy="285.8" r="2.5" fill="#111111"/><circle cx="410.4" cy="278.8" r="2.5" fill="#111111"/><circle cx="420.4" cy="311.4" r="2.5" fill="#111111"/><circle cx="430.5" cy="314.3" r="2.5" fill="#111111"/><circle cx="440.6" cy="307.1" r="2.5" fill="#111111"/><circle cx="450.6" cy="319.2" r="2.5" fill="#111111"/><circle cx="460.7" cy="346.9" r="2.5" fill="#111111"/></g>
<rect x="269.5" y="216.9" width="191.2" height="188.4" fill="none" stroke="#333333" stroke-width="1.1"/>
<text x="269.5" y="417.5" text-anchor="middle" font-family='"Liberation Serif", serif' font-size="13.2" textLength="14.9" lengthAdjust="spacingAndGlyphs" fill="#1a1a1a">0.0</text>
<line x1="307.7" y1="405.3" x2="307.7" y2="399.8" stroke="#333333" stroke-width="1"/>
<line x1="307.7" y1="216.9" x2="307.7" y2="222.4" stroke="#333333" stroke-width="1"/>
<text x="307.7" y="417.5" text-anchor="middle" font-family='"Liberation Serif", serif' font-size="13.2" textLength="14.9" lengthAdjust="spacingAndGlyphs" fill="#1a1a1a">0.1</text>
<line x1="346.0" y1="405.3" x2="346.0" y2="399.8" stroke="#333333" stroke-width="1"/>
<line x1="346.0" y1="216.9" x2="346.0" y2="222.4" stroke="#333333" stroke-width="1"/>
<text x="346.0" y="417.5" text-anchor="middle" font-family='"Liberation Serif", serif' font-size="13.2" textLength="14.9" lengthAdjust="spacingAndGlyphs" fill="#1a1a1a">0.2</text>
<line x1="384.2" y1="405.3" x2="384.2" y2="399.8" stroke="#333333" stroke-width="1"/>
<line x1="384.2" y1="216.9" x2="384.2" y2="222.4" stroke="#333333" stroke-width="1"/>
<text x="384.2" y="417.5" text-anchor="middle" font-family='"Liberation Serif", serif' font-size="13.2" textLength="14.9" lengthAdjust="spacingAndGlyphs" fill="#1a1a1a">0.3</text>
<line x1="422.5" y1="405.3" x2="422.5" y2="399.8" stroke="#333333" stroke-width="1"/>
<line x1="422.5" y1="216.9" x2="422.5" y2="222.4" stroke="#333333" stroke-width="1"/>
<text x="422.5" y="417.5" text-anchor="middle" font-family='"Liberation Serif", serif' font-size="13.2" textLength="14.9" lengthAdjust="spacingAndGlyphs" fill="#1a1a1a">0.4</text>
<text x="460.7" y="417.5" text-anchor="middle" font-family='"Liberation Serif", serif' font-size="13.2" textLength="14.9" lengthAdjust="spacingAndGlyphs" fill="#1a1a1a">0.5</text>
<text x="266.5" y="409.1" text-anchor="end" font-family='"Liberation Serif", serif' font-size="13.2" textLength="14.9" lengthAdjust="spacingAndGlyphs" fill="#1a1a1a">0.0</text>
<line x1="269.5" y1="378.4" x2="275.0" y2="378.4" stroke="#333333" stroke-width="1"/>
<line x1="460.7" y1="378.4" x2="455.2" y2="378.4" stroke="#333333" stroke-width="1"/>
<text x="266.5" y="382.2" text-anchor="end" font-family='"Liberation Serif", serif' font-size="13.2" textLength="14.9" lengthAdjust="spacingAndGlyphs" fill="#1a1a1a">0.1</text>
<line x1="269.5" y1="351.5" x2="275.0" y2="351.5" stroke="#333333" stroke-width="1"/>
<line x1="460.7" y1="351.5" x2="455.2" y2="351.5" stroke="#333333" stroke-width="1"/>
<text x="266.5" y="355.3" text-anchor="end" font-family='"Liberation Serif", serif' font-size="13.2" textLength="14.9" lengthAdjust="spacingAndGlyphs" fill="#1a1a1a">0.2</text>
<line x1="269.5" y1="324.6" x2="275.0" y2="324.6" stroke="#333333" stroke-width="1"/>
<line x1="460.7" y1="324.6" x2="455.2" y2="324.6" stroke="#333333" stroke-width="1"/>
<text x="266.5" y="328.4" text-anchor="end" font-family='"Liberation Serif", serif' font-size="13.2" textLength="14.9" lengthAdjust="spacingAndGlyphs" fill="#1a1a1a">0.3</text>
<line x1="269.5" y1="297.6" x2="275.0" y2="297.6" stroke="#333333" stroke-width="1"/>
<line x1="460.7" y1="297.6" x2="455.2" y2="297.6" stroke="#333333" stroke-width="1"/>
<text x="266.5" y="301.4" text-anchor="end" font-family='"Liberation Serif", serif' font-size="13.2" textLength="14.9" lengthAdjust="spacingAndGlyphs" fill="#1a1a1a">0.4</text>
<line x1="269.5" y1="270.7" x2="275.0" y2="270.7" stroke="#333333" stroke-width="1"/>
<line x1="460.7" y1="270.7" x2="455.2" y2="270.7" stroke="#333333" stroke-width="1"/>
<text x="266.5" y="274.5" text-anchor="end" font-family='"Liberation Serif", serif' font-size="13.2" textLength="14.9" lengthAdjust="spacingAndGlyphs" fill="#1a1a1a">0.5</text>
<line x1="269.5" y1="243.8" x2="275.0" y2="243.8" stroke="#333333" stroke-width="1"/>
<line x1="460.7" y1="243.8" x2="455.2" y2="243.8" stroke="#333333" stroke-width="1"/>
<text x="266.5" y="247.6" text-anchor="end" font-family='"Liberation Serif", serif' font-size="13.2" textLength="14.9" lengthAdjust="spacingAndGlyphs" fill="#1a1a1a">0.6</text>
<text x="266.5" y="220.7" text-anchor="end" font-family='"Liberation Serif", serif' font-size="13.2" textLength="14.9" lengthAdjust="spacingAndGlyphs" fill="#1a1a1a">0.7</text>
<path d="M280.1 224.10000000000002V232.5M278.3 224.10000000000002H281.90000000000003M278.3 232.5H281.90000000000003M292.6 224.10000000000002V232.5M290.8 224.10000000000002H294.40000000000003M290.8 232.5H294.40000000000003" stroke="#555" stroke-width="1" fill="none"/>
<line x1="280.1" y1="228.3" x2="292.6" y2="228.3" stroke="#111" stroke-width="1.1"/><circle cx="280.1" cy="228.3" r="2.3" fill="#111"/><circle cx="292.6" cy="228.3" r="2.3" fill="#111"/>
<text x="302.2" y="230.8" font-family='"Liberation Serif", serif' font-size="9.4" fill="#1a1a1a"><tspan font-style="italic" font-size="10">r</tspan><tspan font-size="6.2" dy="1.5">sig</tspan><tspan dy="-1.5"> = 0.17</tspan></text>
<text transform="translate(246,311) rotate(-90)" text-anchor="middle" font-family='"Liberation Sans", sans-serif' font-size="13.5" fill="#1a1a1a">Activity</text>
<text x="365.5" y="436" text-anchor="middle" font-family='"Liberation Serif", serif' font-style="italic" font-size="18.5" fill="#1a1a1a">μ</text>
<text x="619.5" y="436" text-anchor="middle" font-family='"Liberation Serif", serif' font-style="italic" font-size="18.5" fill="#1a1a1a">μ</text>
<clipPath id="cc"><rect x="523.4" y="13.6" width="190.9" height="187.7"/></clipPath>
<rect x="523.4" y="13.6" width="190.9" height="187.7" fill="#0c0e18"/>
<polygon points="521.4,11.6 716.3,11.6 716.3,140.0 714.3,140.0 707.0,142.5 696.6,144.4 683.6,141.5 670.6,142.3 655.1,141.8 644.7,145.6 634.3,147.0 623.9,150.8 610.9,153.4 597.9,158.6 582.3,162.0 566.8,165.1 551.2,167.7 535.6,170.3 523.4,171.6 521.4,171.6" fill="#0a0082" clip-path="url(#cc)"/>
<polygon points="521.4,11.6 716.3,11.6 716.3,131.5 714.3,131.5 697.0,131.0 684.0,132.0 676.0,130.0 664.0,127.5 655.0,131.0 640.0,134.0 623.9,141.0 608.3,144.0 592.7,150.0 577.1,153.4 559.0,157.3 540.8,161.2 523.4,165.1 521.4,165.1" fill="#2c00c8" clip-path="url(#cc)"/>
<polygon points="521.4,11.6 716.3,11.6 716.3,126.4 714.3,126.4 697.0,126.6 684.0,127.0 676.0,125.5 664.0,123.0 652.0,126.0 640.0,129.5 618.7,133.0 603.1,139.0 587.5,144.5 572.0,147.5 546.0,153.0 523.4,158.0 521.4,158.0" fill="#5a00dc" clip-path="url(#cc)"/>
<polygon points="521.4,11.6 716.3,11.6 716.3,121.7 714.3,121.7 697.0,122.0 684.0,122.5 664.0,120.5 640.0,125.0 618.7,130.0 603.1,136.0 587.5,142.0 572.0,146.0 560.0,148.0 546.0,149.5 523.4,153.5 521.4,153.5" fill="#9a0ed8" clip-path="url(#cc)"/>
<polygon points="554.3,11.6 554.3,13.6 554.3,144.0 562.0,146.5 576.6,146.5 590.0,141.0 603.1,134.0 618.7,128.0 640.0,121.0 664.0,117.5 684.0,117.7 697.0,117.6 714.3,117.7 716.3,117.7 716.3,11.6" fill="#d21aaa" clip-path="url(#cc)"/>
<polygon points="559.1,11.6 559.1,13.6 558.6,64.0 560.0,91.5 560.8,118.0 560.5,141.0 566.8,143.0 576.6,143.0 590.0,137.5 603.1,131.0 618.7,124.5 640.0,117.0 664.0,113.7 684.0,113.7 697.0,113.6 714.3,113.7 716.3,113.7 716.3,11.6" fill="#ff336e" clip-path="url(#cc)"/>
<polygon points="563.5,11.6 563.5,13.6 563.5,37.0 562.7,64.0 564.6,91.5 566.0,115.0 566.0,136.0 570.0,138.6 580.0,138.0 592.0,132.5 605.0,125.5 618.7,120.0 640.0,112.5 664.0,109.8 684.0,110.6 697.0,109.6 714.3,111.4 716.3,111.4 716.3,11.6" fill="#fe6a5a" clip-path="url(#cc)"/>
<polygon points="566.8,11.6 566.8,13.6 568.0,37.0 566.7,64.0 570.0,91.5 571.5,110.0 571.0,131.0 576.6,133.5 588.0,131.0 598.0,126.0 610.5,118.5 625.0,113.5 640.0,108.0 664.0,106.1 684.0,106.6 697.0,105.2 714.3,106.6 716.3,106.6 716.3,11.6" fill="#fba86c" clip-path="url(#cc)"/>
<polygon points="571.5,11.6 571.5,13.6 575.0,23.6 573.5,37.0 572.2,53.5 573.5,70.0 577.6,81.0 580.0,100.0 582.0,112.0 584.5,121.0 591.0,113.6 595.3,109.3 605.7,105.4 624.0,104.1 640.0,98.7 664.0,95.5 684.0,102.7 695.0,94.4 714.3,96.3 716.3,96.3 716.3,11.6" fill="#fce890" clip-path="url(#cc)"/>
<line x1="561.6" y1="13.6" x2="561.6" y2="19.1" stroke="#222" stroke-width="1"/>
<line x1="561.6" y1="201.3" x2="561.6" y2="195.8" stroke="#222" stroke-width="1"/>
<line x1="599.8" y1="13.6" x2="599.8" y2="19.1" stroke="#222" stroke-width="1"/>
<line x1="599.8" y1="201.3" x2="599.8" y2="195.8" stroke="#222" stroke-width="1"/>
<line x1="637.9" y1="13.6" x2="637.9" y2="19.1" stroke="#222" stroke-width="1"/>
<line x1="637.9" y1="201.3" x2="637.9" y2="195.8" stroke="#222" stroke-width="1"/>
<line x1="676.1" y1="13.6" x2="676.1" y2="19.1" stroke="#222" stroke-width="1"/>
<line x1="676.1" y1="201.3" x2="676.1" y2="195.8" stroke="#222" stroke-width="1"/>
<line x1="523.4" y1="161.8" x2="528.9" y2="161.8" stroke="#222" stroke-width="1"/>
<line x1="714.3" y1="161.8" x2="708.8" y2="161.8" stroke="#222" stroke-width="1"/>
<text x="520.4" y="165.6" text-anchor="end" font-family='"Liberation Serif", serif' font-size="13.2" textLength="20.4" lengthAdjust="spacingAndGlyphs" fill="#1a1a1a">0.05</text>
<line x1="523.4" y1="112.4" x2="528.9" y2="112.4" stroke="#222" stroke-width="1"/>
<line x1="714.3" y1="112.4" x2="708.8" y2="112.4" stroke="#222" stroke-width="1"/>
<text x="520.4" y="116.2" text-anchor="end" font-family='"Liberation Serif", serif' font-size="13.2" textLength="20.4" lengthAdjust="spacingAndGlyphs" fill="#1a1a1a">0.10</text>
<line x1="523.4" y1="63.0" x2="528.9" y2="63.0" stroke="#222" stroke-width="1"/>
<line x1="714.3" y1="63.0" x2="708.8" y2="63.0" stroke="#222" stroke-width="1"/>
<text x="520.4" y="66.8" text-anchor="end" font-family='"Liberation Serif", serif' font-size="13.2" textLength="20.4" lengthAdjust="spacingAndGlyphs" fill="#1a1a1a">0.15</text>
<text x="520.4" y="17.4" text-anchor="end" font-family='"Liberation Serif", serif' font-size="13.2" textLength="20.4" lengthAdjust="spacingAndGlyphs" fill="#1a1a1a">0.20</text>
<rect x="523.4" y="13.6" width="190.9" height="187.7" fill="none" stroke="#222" stroke-width="1"/>
<line x1="523.5" y1="132.6" x2="714.3" y2="132.6" stroke="#fff" stroke-width="2" stroke-dasharray="3.9,3.85"/>
<text transform="translate(490,107.8) rotate(-90)" text-anchor="middle" font-family='"Liberation Serif", serif' font-size="19.5" fill="#1a1a1a"><tspan font-style="italic">r</tspan><tspan font-size="12.5" dy="2">sig</tspan></text>
<clipPath id="cf"><rect x="523.2" y="217.3" width="191.1" height="187.9"/></clipPath>
<rect x="523.2" y="217.3" width="191.1" height="187.9" fill="#0c0e18"/>
<polygon points="521.2,215.3 521.2,258.1 523.2,258.5 531.8,275.0 543.5,290.0 555.3,305.0 563.2,317.4 569.5,323.7 574.2,331.6 579.0,339.6 583.7,347.5 591.6,353.8 599.6,357.0 607.5,358.5 614.0,360.0 622.3,358.6 630.6,364.8 643.1,363.8 651.4,365.8 659.7,362.7 668.0,354.4 680.5,351.0 688.8,346.1 701.3,341.0 714.3,339.0 716.3,341.0 716.3,215.3" fill="#0a0082" clip-path="url(#cf)"/>
<polygon points="535.8,215.3 535.8,217.3 540.4,232.1 546.0,248.0 551.7,259.2 558.5,272.8 561.9,286.4 566.0,297.0 572.7,309.5 579.0,317.4 585.3,326.9 591.6,336.4 599.6,344.3 610.0,347.5 614.0,349.0 622.3,346.1 634.8,343.0 647.3,345.0 659.7,343.0 672.2,340.0 684.7,336.0 701.3,330.0 714.3,326.0 716.3,326.0 716.3,215.3" fill="#2c00c8" clip-path="url(#cf)"/>
<polygon points="549.4,215.3 549.4,217.3 552.8,232.1 558.5,245.7 565.2,259.2 572.0,275.1 576.0,293.0 580.0,302.0 583.7,307.9 591.6,315.8 599.6,323.7 610.0,331.6 626.5,337.8 639.0,335.7 651.4,334.7 663.9,332.6 676.4,329.0 688.8,324.0 701.3,318.0 714.3,312.0 716.3,312.0 716.3,215.3" fill="#5a00dc" clip-path="url(#cf)"/>
<polygon points="555.1,215.3 555.1,217.3 558.5,229.8 565.2,245.7 572.0,259.2 578.8,274.0 584.0,298.0 594.8,307.9 604.3,315.8 610.0,320.6 620.3,325.0 632.7,326.4 643.1,327.4 655.6,323.5 668.0,321.0 680.5,318.0 693.0,309.0 705.5,302.0 714.3,299.0 716.3,299.0 716.3,215.3" fill="#9a0ed8" clip-path="url(#cf)"/>
<polygon points="561.9,215.3 561.9,217.3 565.2,232.1 569.8,243.4 576.6,254.7 583.3,270.0 587.0,290.0 597.4,300.4 607.8,310.8 618.2,317.0 630.6,316.0 643.1,313.0 655.6,311.0 668.0,308.0 680.5,305.0 693.0,297.0 705.0,292.0 714.3,289.0 716.3,289.0 716.3,215.3" fill="#d21aaa" clip-path="url(#cf)"/>
<polygon points="568.6,215.3 568.6,217.3 572.0,227.6 578.8,243.4 585.6,258.0 590.0,278.0 596.0,287.0 605.7,291.5 610.0,294.0 618.2,297.5 630.6,300.5 643.1,301.5 655.6,301.0 668.0,297.0 680.5,292.0 693.0,284.0 705.0,284.0 714.3,279.0 716.3,279.0 716.3,215.3" fill="#ff336e" clip-path="url(#cf)"/>
<polygon points="574.3,215.3 574.3,217.3 578.8,228.0 583.3,241.0 588.0,254.0 592.0,270.0 598.0,281.0 604.0,285.0 612.0,289.0 622.3,292.5 634.0,293.5 640.0,292.5 643.2,288.0 652.7,283.0 662.2,286.0 663.8,276.0 676.5,274.0 686.0,270.8 692.3,264.5 705.0,272.0 714.3,269.0 716.3,269.0 716.3,215.3" fill="#fe6a5a" clip-path="url(#cf)"/>
<polygon points="582.2,215.3 582.2,217.3 585.6,232.0 588.0,242.0 592.0,254.0 597.0,263.0 603.0,269.0 612.0,268.2 621.6,272.2 631.0,273.7 640.0,273.0 644.8,275.6 655.9,269.2 663.0,267.0 673.0,267.0 679.0,258.0 684.0,250.0 693.0,256.0 705.0,250.0 714.3,252.0 716.3,252.0 716.3,215.3" fill="#fba86c" clip-path="url(#cf)"/>
<polygon points="598.0,215.3 598.0,217.3 603.7,225.3 611.3,237.1 618.1,246.6 623.5,253.4 633.0,248.0 643.9,240.5 653.4,245.9 658.9,235.7 664.3,230.3 673.5,231.7 683.9,237.4 690.2,232.7 694.3,227.0 706.3,239.0 704.7,226.0 694.3,226.0 690.2,217.3 690.2,215.3" fill="#fce890" clip-path="url(#cf)"/>
<polygon points="605.0,243.0 608.0,248.0 605.0,253.5 602.5,248.0" fill="#fce890" clip-path="url(#cf)"/>
<polygon points="633.0,305.0 640.0,304.0 638.0,309.5 634.0,309.0" fill="#9a0ed8" clip-path="url(#cf)"/>
<line x1="561.4" y1="217.3" x2="561.4" y2="222.8" stroke="#222" stroke-width="1"/>
<line x1="561.4" y1="405.2" x2="561.4" y2="399.7" stroke="#222" stroke-width="1"/>
<line x1="599.6" y1="217.3" x2="599.6" y2="222.8" stroke="#222" stroke-width="1"/>
<line x1="599.6" y1="405.2" x2="599.6" y2="399.7" stroke="#222" stroke-width="1"/>
<line x1="637.9" y1="217.3" x2="637.9" y2="222.8" stroke="#222" stroke-width="1"/>
<line x1="637.9" y1="405.2" x2="637.9" y2="399.7" stroke="#222" stroke-width="1"/>
<line x1="676.1" y1="217.3" x2="676.1" y2="222.8" stroke="#222" stroke-width="1"/>
<line x1="676.1" y1="405.2" x2="676.1" y2="399.7" stroke="#222" stroke-width="1"/>
<text x="523.2" y="417.4" text-anchor="middle" font-family='"Liberation Serif", serif' font-size="13.2" textLength="14.9" lengthAdjust="spacingAndGlyphs" fill="#1a1a1a">0.0</text>
<text x="561.4" y="417.4" text-anchor="middle" font-family='"Liberation Serif", serif' font-size="13.2" textLength="14.9" lengthAdjust="spacingAndGlyphs" fill="#1a1a1a">0.1</text>
<text x="599.6" y="417.4" text-anchor="middle" font-family='"Liberation Serif", serif' font-size="13.2" textLength="14.9" lengthAdjust="spacingAndGlyphs" fill="#1a1a1a">0.2</text>
<text x="637.9" y="417.4" text-anchor="middle" font-family='"Liberation Serif", serif' font-size="13.2" textLength="14.9" lengthAdjust="spacingAndGlyphs" fill="#1a1a1a">0.3</text>
<text x="676.1" y="417.4" text-anchor="middle" font-family='"Liberation Serif", serif' font-size="13.2" textLength="14.9" lengthAdjust="spacingAndGlyphs" fill="#1a1a1a">0.4</text>
<text x="714.3" y="417.4" text-anchor="middle" font-family='"Liberation Serif", serif' font-size="13.2" textLength="14.9" lengthAdjust="spacingAndGlyphs" fill="#1a1a1a">0.5</text>
<text x="520.2" y="408.7" text-anchor="end" font-family='"Liberation Serif", serif' font-size="13.2" textLength="20.4" lengthAdjust="spacingAndGlyphs" fill="#1a1a1a">0.05</text>
<line x1="523.2" y1="367.6" x2="528.7" y2="367.6" stroke="#222" stroke-width="1"/>
<line x1="714.3" y1="367.6" x2="708.8" y2="367.6" stroke="#222" stroke-width="1"/>
<text x="520.2" y="371.1" text-anchor="end" font-family='"Liberation Serif", serif' font-size="13.2" textLength="20.4" lengthAdjust="spacingAndGlyphs" fill="#1a1a1a">0.10</text>
<line x1="523.2" y1="330.0" x2="528.7" y2="330.0" stroke="#222" stroke-width="1"/>
<line x1="714.3" y1="330.0" x2="708.8" y2="330.0" stroke="#222" stroke-width="1"/>
<text x="520.2" y="333.5" text-anchor="end" font-family='"Liberation Serif", serif' font-size="13.2" textLength="20.4" lengthAdjust="spacingAndGlyphs" fill="#1a1a1a">0.15</text>
<line x1="523.2" y1="292.5" x2="528.7" y2="292.5" stroke="#222" stroke-width="1"/>
<line x1="714.3" y1="292.5" x2="708.8" y2="292.5" stroke="#222" stroke-width="1"/>
<text x="520.2" y="296.0" text-anchor="end" font-family='"Liberation Serif", serif' font-size="13.2" textLength="20.4" lengthAdjust="spacingAndGlyphs" fill="#1a1a1a">0.20</text>
<line x1="523.2" y1="254.9" x2="528.7" y2="254.9" stroke="#222" stroke-width="1"/>
<line x1="714.3" y1="254.9" x2="708.8" y2="254.9" stroke="#222" stroke-width="1"/>
<text x="520.2" y="258.4" text-anchor="end" font-family='"Liberation Serif", serif' font-size="13.2" textLength="20.4" lengthAdjust="spacingAndGlyphs" fill="#1a1a1a">0.25</text>
<text x="520.2" y="220.8" text-anchor="end" font-family='"Liberation Serif", serif' font-size="13.2" textLength="20.4" lengthAdjust="spacingAndGlyphs" fill="#1a1a1a">0.30</text>
<rect x="523.2" y="217.3" width="191.1" height="187.9" fill="none" stroke="#222" stroke-width="1"/>
<line x1="523.5" y1="315.8" x2="714.3" y2="315.8" stroke="#fff" stroke-width="2" stroke-dasharray="3.9,3.85"/>
<text transform="translate(490,309.8) rotate(-90)" text-anchor="middle" font-family='"Liberation Serif", serif' font-size="19.5" fill="#1a1a1a"><tspan font-style="italic">r</tspan><tspan font-size="12.5" dy="2">sig</tspan></text>
<rect x="725.4" y="366.5" width="10.7" height="39.4" fill="#0c0e18"/>
<rect x="725.4" y="327.3" width="10.7" height="39.4" fill="#0a0082"/>
<rect x="725.4" y="288.2" width="10.7" height="39.4" fill="#2c00c8"/>
<rect x="725.4" y="249.1" width="10.7" height="39.4" fill="#5a00dc"/>
<rect x="725.4" y="210.0" width="10.7" height="39.4" fill="#9a0ed8"/>
<rect x="725.4" y="170.8" width="10.7" height="39.4" fill="#d21aaa"/>
<rect x="725.4" y="131.7" width="10.7" height="39.4" fill="#ff336e"/>
<rect x="725.4" y="92.6" width="10.7" height="39.4" fill="#fe6a5a"/>
<rect x="725.4" y="53.4" width="10.7" height="39.4" fill="#fba86c"/>
<rect x="725.4" y="14.3" width="10.7" height="39.4" fill="#fce890"/>
<rect x="725.4" y="14.3" width="10.7" height="391.3" fill="none" stroke="#222" stroke-width="1"/>
<text x="740.0" y="409.5" text-anchor="start" font-family='"Liberation Serif", serif' font-size="13.2" textLength="14.9" lengthAdjust="spacingAndGlyphs" fill="#1a1a1a">0.0</text>
<line x1="732.6" y1="327.3" x2="736.1" y2="327.3" stroke="#222" stroke-width="1"/>
<text x="740.0" y="331.2" text-anchor="start" font-family='"Liberation Serif", serif' font-size="13.2" textLength="14.9" lengthAdjust="spacingAndGlyphs" fill="#1a1a1a">0.2</text>
<line x1="732.6" y1="249.1" x2="736.1" y2="249.1" stroke="#222" stroke-width="1"/>
<text x="740.0" y="253.0" text-anchor="start" font-family='"Liberation Serif", serif' font-size="13.2" textLength="14.9" lengthAdjust="spacingAndGlyphs" fill="#1a1a1a">0.4</text>
<line x1="732.6" y1="170.8" x2="736.1" y2="170.8" stroke="#222" stroke-width="1"/>
<text x="740.0" y="174.7" text-anchor="start" font-family='"Liberation Serif", serif' font-size="13.2" textLength="14.9" lengthAdjust="spacingAndGlyphs" fill="#1a1a1a">0.6</text>
<line x1="732.6" y1="92.6" x2="736.1" y2="92.6" stroke="#222" stroke-width="1"/>
<text x="740.0" y="96.5" text-anchor="start" font-family='"Liberation Serif", serif' font-size="13.2" textLength="14.9" lengthAdjust="spacingAndGlyphs" fill="#1a1a1a">0.8</text>
<text x="740.0" y="18.2" text-anchor="start" font-family='"Liberation Serif", serif' font-size="13.2" textLength="14.9" lengthAdjust="spacingAndGlyphs" fill="#1a1a1a">1.0</text>
<text transform="translate(767,209.5) rotate(-90)" text-anchor="middle" font-family='"Liberation Sans", sans-serif' font-size="12.5" fill="#1a1a1a">Activity</text>
<line x1="523.2" y1="132.5" x2="467.9" y2="153.5" stroke="#222" stroke-width="1.5"/>
<path d="M462.3 155.6L467.0 151.0L467.9 153.5L468.8 155.9Z" fill="#222"/>
<line x1="523.0" y1="315.6" x2="467.7" y2="341.9" stroke="#222" stroke-width="1.5"/>
<path d="M462.3 344.5L466.6 339.6L467.7 341.9L468.8 344.3Z" fill="#222"/>
</svg></body></html>
